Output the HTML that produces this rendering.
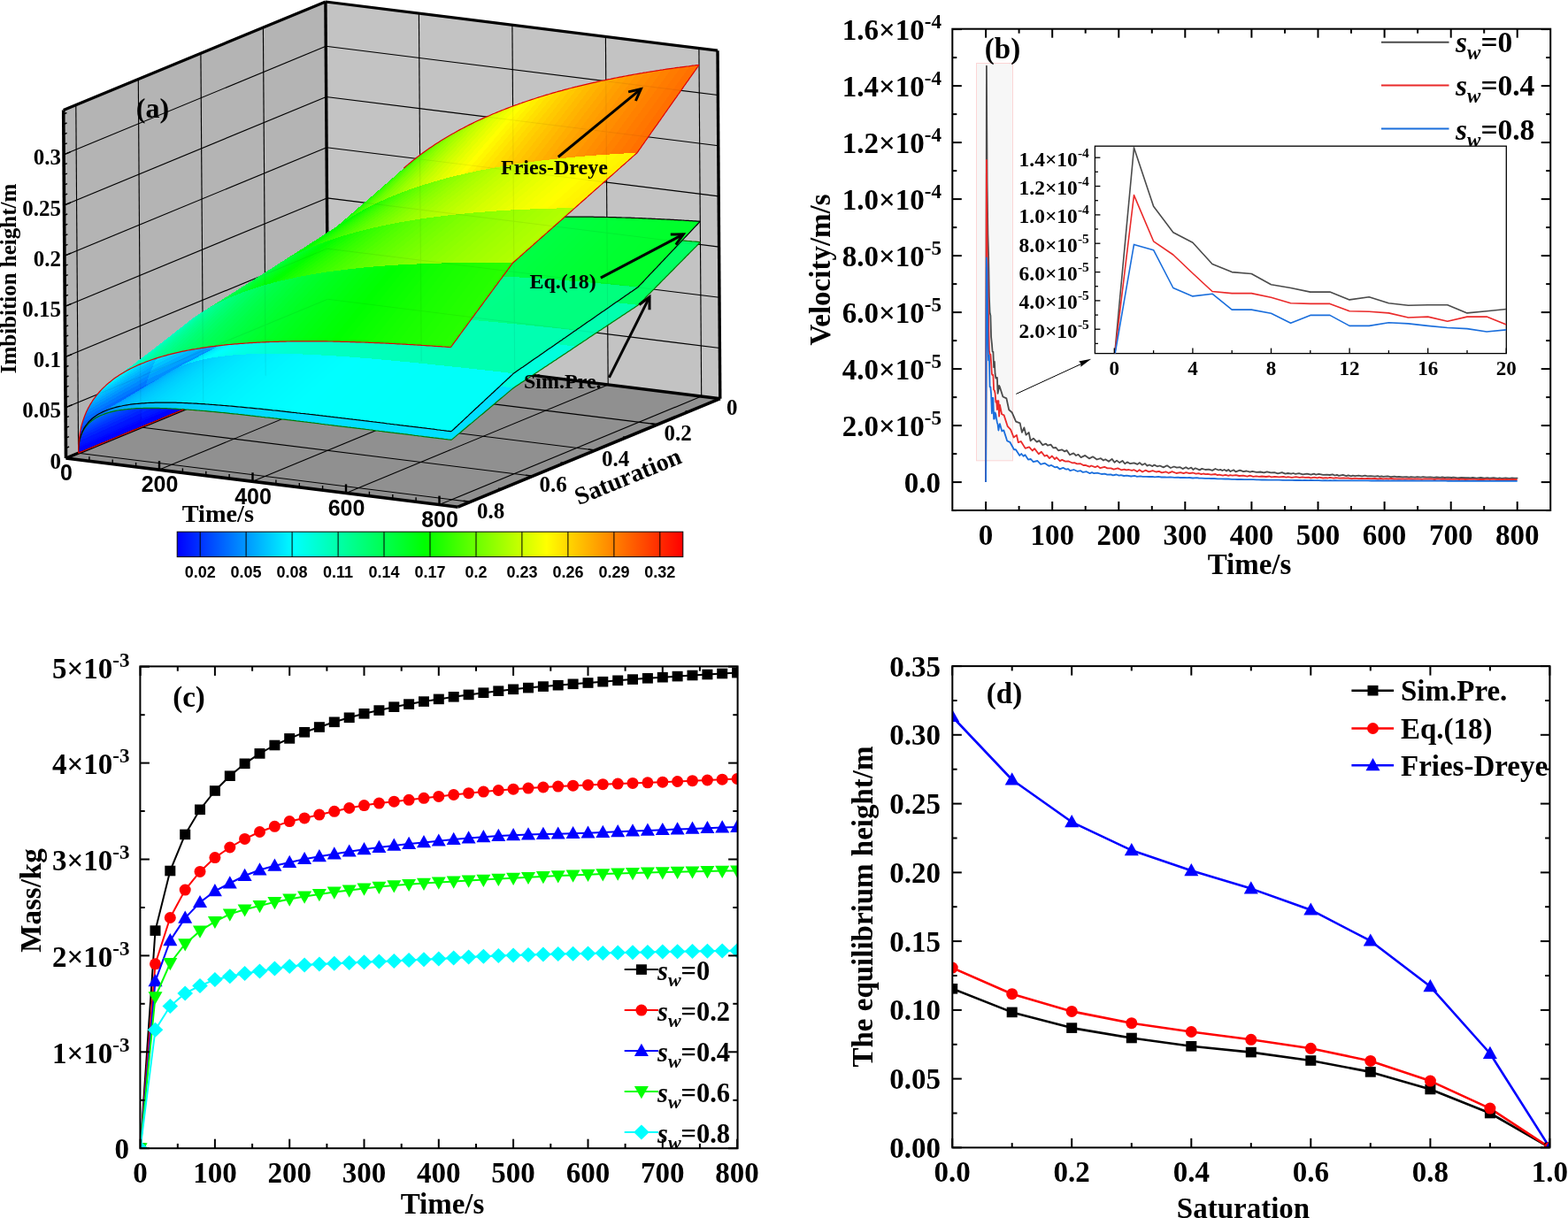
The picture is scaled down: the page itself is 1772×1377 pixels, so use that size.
<!DOCTYPE html><html><head><meta charset="utf-8"><title>Figure</title><style>html,body{margin:0;padding:0;background:#fff;overflow:hidden}svg{display:block}</style></head><body><svg width="1772" height="1377" viewBox="0 0 1772 1377"><rect width="1772" height="1377" fill="#fff"/><polygon points="74.5,518 370.7,395.5 367.9,2 71.7,124.5" fill="#b4b4b4"/>
<polygon points="370.7,395.5 813.8,450.7 811,57.2 367.9,2" fill="#c3c3c3"/>
<polygon points="74.5,518 517.6,573.2 813.8,450.7 370.7,395.5" fill="#909090"/>
<line x1="74.1" y1="460.8" x2="370.3" y2="338.3" stroke="#000" stroke-width="1.1"/>
<line x1="370.3" y1="338.3" x2="813.4" y2="393.5" stroke="#000" stroke-width="1.1"/>
<line x1="73.7" y1="403.6" x2="369.9" y2="281.1" stroke="#000" stroke-width="1.1"/>
<line x1="369.9" y1="281.1" x2="813" y2="336.3" stroke="#000" stroke-width="1.1"/>
<line x1="73.3" y1="346.4" x2="369.5" y2="223.9" stroke="#000" stroke-width="1.1"/>
<line x1="369.5" y1="223.9" x2="812.6" y2="279.1" stroke="#000" stroke-width="1.1"/>
<line x1="72.9" y1="289.2" x2="369.1" y2="166.7" stroke="#000" stroke-width="1.1"/>
<line x1="369.1" y1="166.7" x2="812.2" y2="221.9" stroke="#000" stroke-width="1.1"/>
<line x1="72.5" y1="232" x2="368.7" y2="109.5" stroke="#000" stroke-width="1.1"/>
<line x1="368.7" y1="109.5" x2="811.8" y2="164.7" stroke="#000" stroke-width="1.1"/>
<line x1="72.1" y1="174.8" x2="368.3" y2="52.3" stroke="#000" stroke-width="1.1"/>
<line x1="368.3" y1="52.3" x2="811.4" y2="107.5" stroke="#000" stroke-width="1.1"/>
<line x1="300.2" y1="424.7" x2="297.4" y2="31.2" stroke="#000" stroke-width="1.1"/>
<line x1="229.7" y1="453.8" x2="226.9" y2="60.3" stroke="#000" stroke-width="1.1"/>
<line x1="159.1" y1="483" x2="156.3" y2="89.5" stroke="#000" stroke-width="1.1"/>
<line x1="88.6" y1="512.2" x2="85.8" y2="118.7" stroke="#000" stroke-width="1.1"/>
<line x1="476.2" y1="408.6" x2="473.4" y2="15.1" stroke="#000" stroke-width="1.1"/>
<line x1="581.7" y1="421.8" x2="578.9" y2="28.3" stroke="#000" stroke-width="1.1"/>
<line x1="687.2" y1="434.9" x2="684.4" y2="41.4" stroke="#000" stroke-width="1.1"/>
<line x1="792.7" y1="448.1" x2="789.9" y2="54.6" stroke="#000" stroke-width="1.1"/>
<line x1="300.2" y1="424.7" x2="743.3" y2="479.9" stroke="#000" stroke-width="1.1"/>
<line x1="229.7" y1="453.8" x2="672.8" y2="509" stroke="#000" stroke-width="1.1"/>
<line x1="159.1" y1="483" x2="602.2" y2="538.2" stroke="#000" stroke-width="1.1"/>
<line x1="88.6" y1="512.2" x2="531.7" y2="567.4" stroke="#000" stroke-width="1.1"/>
<line x1="476.2" y1="408.6" x2="180" y2="531.1" stroke="#000" stroke-width="1.1"/>
<line x1="581.7" y1="421.8" x2="285.5" y2="544.3" stroke="#000" stroke-width="1.1"/>
<line x1="687.2" y1="434.9" x2="391" y2="557.4" stroke="#000" stroke-width="1.1"/>
<line x1="792.7" y1="448.1" x2="496.5" y2="570.6" stroke="#000" stroke-width="1.1"/>
<line x1="370.7" y1="395.5" x2="367.9" y2="2" stroke="#000" stroke-width="3.4"/>
<line x1="370.7" y1="395.5" x2="813.8" y2="450.7" stroke="#000" stroke-width="3.4"/>
<line x1="74.5" y1="518" x2="370.7" y2="395.5" stroke="#000" stroke-width="3.4"/>
<g shape-rendering="crispEdges">
<polygon points="370.7,395.5 370.8,386.8 300.3,417.2 300.2,424.7" fill="#0000ff"/>
<polygon points="370.7,395.5 370.8,387 300.3,417 300.2,424.7" fill="#0000ff"/>
<polygon points="370.7,395.5 370.8,383.4 300.3,414.2 300.2,424.7" fill="#0000ff"/>
<polygon points="370.8,386.8 371.3,379.6 300.7,411 300.3,417.2" fill="#0011ff"/>
<polygon points="370.8,387 371.3,379.8 300.7,410.7 300.3,417" fill="#0011ff"/>
<polygon points="370.8,383.4 371.2,373.2 300.7,405.3 300.3,414.2" fill="#001fff"/>
<polygon points="371.3,379.6 371.9,372.9 301.4,405.3 300.7,411" fill="#0024ff"/>
<polygon points="371.3,379.8 371.9,373.2 301.4,404.9 300.7,410.7" fill="#0024ff"/>
<polygon points="371.2,373.2 371.9,363.6 301.4,397 300.7,405.3" fill="#003aff"/>
<polygon points="371.9,372.9 372.8,366.7 302.3,400.1 301.4,405.3" fill="#0036ff"/>
<polygon points="371.9,373.2 372.8,367 302.3,399.4 301.4,404.9" fill="#0036ff"/>
<polygon points="371.9,363.6 372.7,354.6 302.2,389.2 301.4,397" fill="#0054ff"/>
<polygon points="372.8,366.7 373.9,360.9 303.4,395.1 302.3,400.1" fill="#0046ff"/>
<polygon points="372.8,367 373.9,361.1 303.4,394.3 302.3,399.4" fill="#0047ff"/>
<polygon points="372.7,354.6 373.8,345.9 303.3,381.7 302.2,389.2" fill="#006cff"/>
<polygon points="373.9,360.9 375.2,355.3 304.7,390.5 303.4,395.1" fill="#0056ff"/>
<polygon points="373.9,361.1 375.2,355.5 304.7,389.4 303.4,394.3" fill="#0057ff"/>
<polygon points="373.8,345.9 375.1,337.5 304.6,374.5 303.3,381.7" fill="#0084ff"/>
<polygon points="375.2,355.3 376.7,350.1 306.3,386.1 304.7,390.5" fill="#0065ff"/>
<polygon points="375.2,355.5 376.7,350.2 306.2,384.8 304.7,389.4" fill="#0067ff"/>
<polygon points="375.1,337.5 376.6,329.4 306.1,367.6 304.6,374.5" fill="#009bff"/>
<polygon points="376.7,350.1 378.4,345 308,382 306.3,386.1" fill="#0074ff"/>
<polygon points="376.7,350.2 378.4,345 307.9,380.4 306.2,384.8" fill="#0076ff"/>
<polygon points="376.6,329.4 378.3,321.5 307.8,360.8 306.1,367.6" fill="#00b1ff"/>
<polygon points="378.4,345 380.3,340.2 309.8,378 308,382" fill="#0082ff"/>
<polygon points="378.4,345 380.3,340.1 309.8,376.2 307.9,380.4" fill="#0084ff"/>
<polygon points="378.3,321.5 380.1,313.9 309.7,354.4 307.8,360.8" fill="#00c7ff"/>
<polygon points="380.3,340.2 382.3,335.6 311.9,374.3 309.8,378" fill="#008fff"/>
<polygon points="380.3,340.1 382.3,335.4 311.9,372.2 309.8,376.2" fill="#0092ff"/>
<polygon points="380.1,313.9 382.1,306.5 311.7,348.1 309.7,354.4" fill="#00dcff"/>
<polygon points="382.3,335.6 384.6,331.3 314.1,370.7 311.9,374.3" fill="#009cff"/>
<polygon points="382.3,335.4 384.6,330.8 314.1,368.4 311.9,372.2" fill="#009fff"/>
<polygon points="382.1,306.5 384.3,299.3 313.9,341.9 311.7,348.1" fill="#00f1ff"/>
<polygon points="384.6,331.3 387,327.1 316.5,367.4 314.1,370.7" fill="#00a8ff"/>
<polygon points="384.6,330.8 387,326.4 316.5,364.8 314.1,368.4" fill="#00acff"/>
<polygon points="384.3,299.3 386.7,292.2 316.3,336 313.9,341.9" fill="#00fffa"/>
<polygon points="387,327.1 389.5,323.1 319.1,364.2 316.5,367.4" fill="#00b4ff"/>
<polygon points="387,326.4 389.5,322.2 319.1,361.3 316.5,364.8" fill="#00b9ff"/>
<polygon points="386.7,292.2 389.3,285.3 318.9,330.2 316.3,336" fill="#00ffe8"/>
<polygon points="389.5,323.1 392.3,319.2 321.8,361.1 319.1,364.2" fill="#00bfff"/>
<polygon points="389.5,322.2 392.3,318.2 321.8,358 319.1,361.3" fill="#00c5ff"/>
<polygon points="389.3,285.3 392,278.6 321.6,324.6 318.9,330.2" fill="#00ffd7"/>
<polygon points="392.3,319.2 395.2,315.6 324.7,358.3 321.8,361.1" fill="#00caff"/>
<polygon points="392.3,318.2 395.2,314.3 324.7,354.8 321.8,358" fill="#00d0ff"/>
<polygon points="392,278.6 394.9,272.1 324.5,319.1 321.6,324.6" fill="#00ffc7"/>
<polygon points="395.2,315.6 398.2,312 327.8,355.5 324.7,358.3" fill="#00d4ff"/>
<polygon points="395.2,314.3 398.2,310.5 327.8,351.8 324.7,354.8" fill="#00dcff"/>
<polygon points="394.9,272.1 397.9,265.7 327.5,313.8 324.5,319.1" fill="#00ffb6"/>
<polygon points="398.2,312 401.5,308.7 331,353 327.8,355.5" fill="#00deff"/>
<polygon points="398.2,310.5 401.4,306.9 331,348.9 327.8,351.8" fill="#00e6ff"/>
<polygon points="397.9,265.7 401.1,259.5 330.7,308.6 327.5,313.8" fill="#00ffa6"/>
<polygon points="401.5,308.7 404.8,305.5 334.4,350.5 331,353" fill="#00e8ff"/>
<polygon points="401.4,306.9 404.8,303.4 334.4,346.1 331,348.9" fill="#00f1ff"/>
<polygon points="401.1,259.5 404.5,253.4 334.1,303.6 330.7,308.6" fill="#00ff97"/>
<polygon points="404.8,305.5 408.4,302.4 338,348.2 334.4,350.5" fill="#00f1ff"/>
<polygon points="404.8,303.4 408.3,300.1 337.9,343.5 334.4,346.1" fill="#00fbff"/>
<polygon points="404.5,253.4 408,247.4 337.6,298.7 334.1,303.6" fill="#00ff87"/>
<polygon points="408.4,302.4 412,299.5 341.6,346.1 338,348.2" fill="#00faff"/>
<polygon points="408.3,300.1 412,296.9 341.6,341 337.9,343.5" fill="#00fffa"/>
<polygon points="408,247.4 411.6,241.6 341.3,293.9 337.6,298.7" fill="#00ff78"/>
<polygon points="412,299.5 415.9,296.7 345.5,344 341.6,346.1" fill="#00fffc"/>
<polygon points="412,296.9 415.9,293.8 345.5,338.6 341.6,341" fill="#00fff1"/>
<polygon points="411.6,241.6 415.5,235.9 345.1,289.2 341.3,293.9" fill="#00ff69"/>
<polygon points="415.9,296.7 419.9,294.1 349.5,342.1 345.5,344" fill="#00fff4"/>
<polygon points="415.9,293.8 419.9,290.8 349.4,336.4 345.5,338.6" fill="#00ffe9"/>
<polygon points="415.5,235.9 419.4,230.3 349.1,284.7 345.1,289.2" fill="#00ff5b"/>
<polygon points="419.9,294.1 424,291.6 353.6,340.3 349.5,342.1" fill="#00ffed"/>
<polygon points="419.9,290.8 424,287.9 353.6,334.2 349.4,336.4" fill="#00ffe1"/>
<polygon points="419.4,230.3 423.5,224.9 353.2,280.3 349.1,284.7" fill="#00ff4d"/>
<polygon points="424,291.6 428.3,289.2 357.9,338.7 353.6,340.3" fill="#00ffe6"/>
<polygon points="424,287.9 428.3,285.2 357.9,332.2 353.6,334.2" fill="#00ffd9"/>
<polygon points="423.5,224.9 427.8,219.6 357.5,276 353.2,280.3" fill="#00ff3f"/>
<polygon points="428.3,289.2 432.7,286.9 362.4,337.1 357.9,338.7" fill="#00ffe0"/>
<polygon points="428.3,285.2 432.7,282.5 362.3,330.3 357.9,332.2" fill="#00ffd2"/>
<polygon points="427.8,219.6 432.2,214.4 361.9,271.8 357.5,276" fill="#00ff31"/>
<polygon points="432.7,286.9 437.3,284.8 366.9,335.6 362.4,337.1" fill="#00ffda"/>
<polygon points="432.7,282.5 437.3,280 366.9,328.5 362.3,330.3" fill="#00ffcb"/>
<polygon points="432.2,214.4 436.8,209.3 366.5,267.7 361.9,271.8" fill="#00ff23"/>
<polygon points="437.3,284.8 442,282.7 371.7,334.3 366.9,335.6" fill="#00ffd4"/>
<polygon points="437.3,280 442,277.6 371.6,326.8 366.9,328.5" fill="#00ffc4"/>
<polygon points="436.8,209.3 441.5,204.3 371.2,263.8 366.5,267.7" fill="#00ff16"/>
<polygon points="442,282.7 446.9,280.8 376.5,333 371.7,334.3" fill="#00ffce"/>
<polygon points="442,277.6 446.9,275.3 376.5,325.2 371.6,326.8" fill="#00ffbd"/>
<polygon points="441.5,204.3 446.3,199.4 376,259.9 371.2,263.8" fill="#00ff09"/>
<polygon points="446.9,280.8 451.9,279 381.6,331.9 376.5,333" fill="#00ffc8"/>
<polygon points="446.9,275.3 451.9,273.1 381.5,323.6 376.5,325.2" fill="#00ffb6"/>
<polygon points="446.3,199.4 451.3,194.7 381,256.1 376,259.9" fill="#04ff00"/>
<polygon points="451.9,279 457.1,277.3 386.7,330.8 381.6,331.9" fill="#00ffc3"/>
<polygon points="451.9,273.1 457,271 386.7,322.2 381.5,323.6" fill="#00ffb0"/>
<polygon points="451.3,194.7 456.4,190 386.2,252.5 381,256.1" fill="#12ff00"/>
<polygon points="457.1,277.3 462.4,275.7 392,329.9 386.7,330.8" fill="#00ffbe"/>
<polygon points="457,271 462.3,269 391.9,320.9 386.7,322.2" fill="#00ffaa"/>
<polygon points="456.4,190 461.7,185.5 391.4,248.9 386.2,252.5" fill="#1fff00"/>
<polygon points="462.4,275.7 467.8,274.2 397.4,329 392,329.9" fill="#00ffb9"/>
<polygon points="462.3,269 467.7,267.1 397.4,319.7 391.9,320.9" fill="#00ffa4"/>
<polygon points="461.7,185.5 467.1,181.1 396.8,245.4 391.4,248.9" fill="#2cff00"/>
<polygon points="467.8,274.2 473.4,272.8 403,328.2 397.4,329" fill="#00ffb4"/>
<polygon points="467.7,267.1 473.3,265.2 402.9,318.5 397.4,319.7" fill="#00ff9e"/>
<polygon points="467.1,181.1 472.7,176.7 402.4,242.1 396.8,245.4" fill="#39ff00"/>
<polygon points="473.4,272.8 479.1,271.5 408.7,327.6 403,328.2" fill="#00ffaf"/>
<polygon points="473.3,265.2 479,263.5 408.7,317.5 402.9,318.5" fill="#00ff99"/>
<polygon points="472.7,176.7 478.4,172.5 408.1,238.8 402.4,242.1" fill="#46ff00"/>
<polygon points="479.1,271.5 484.9,270.3 414.6,326.9 408.7,327.6" fill="#00ffab"/>
<polygon points="479,263.5 484.8,261.9 414.5,316.5 408.7,317.5" fill="#00ff93"/>
<polygon points="478.4,172.5 484.2,168.4 413.9,235.6 408.1,238.8" fill="#52ff00"/>
<polygon points="484.9,270.3 490.9,269.1 420.6,326.4 414.6,326.9" fill="#00ffa7"/>
<polygon points="484.8,261.9 490.8,260.3 420.5,315.6 414.5,316.5" fill="#00ff8e"/>
<polygon points="484.2,168.4 490.1,164.3 419.9,232.6 413.9,235.6" fill="#5fff00"/>
<polygon points="490.9,269.1 497,268.1 426.7,326 420.6,326.4" fill="#00ffa3"/>
<polygon points="490.8,260.3 496.9,258.8 426.6,314.8 420.5,315.6" fill="#00ff89"/>
<polygon points="490.1,164.3 496.2,160.4 426,229.6 419.9,232.6" fill="#6bff00"/>
<polygon points="497,268.1 503.2,267.2 432.9,325.6 426.7,326" fill="#00ff9f"/>
<polygon points="496.9,258.8 503.2,257.5 432.8,314.1 426.6,314.8" fill="#00ff84"/>
<polygon points="496.2,160.4 502.5,156.5 432.2,226.7 426,229.6" fill="#77ff00"/>
<polygon points="503.2,267.2 509.6,266.3 439.3,325.3 432.9,325.6" fill="#00ff9c"/>
<polygon points="503.2,257.5 509.6,256.1 439.2,313.5 432.8,314.1" fill="#00ff80"/>
<polygon points="502.5,156.5 508.8,152.8 438.6,223.8 432.2,226.7" fill="#82ff00"/>
<polygon points="509.6,266.3 516.1,265.5 445.8,325.1 439.3,325.3" fill="#00ff98"/>
<polygon points="509.6,256.1 516.1,254.9 445.7,312.9 439.2,313.5" fill="#00ff7b"/>
<polygon points="508.8,152.8 515.3,149.1 445.1,221.1 438.6,223.8" fill="#8eff00"/>
<polygon points="516.1,265.5 522.8,264.8 452.5,324.9 445.8,325.1" fill="#00ff95"/>
<polygon points="516.1,254.9 522.7,253.8 452.4,312.4 445.7,312.9" fill="#00ff77"/>
<polygon points="515.3,149.1 521.9,145.5 451.7,218.5 445.1,221.1" fill="#99ff00"/>
<polygon points="522.8,264.8 529.6,264.2 459.3,324.8 452.5,324.9" fill="#00ff92"/>
<polygon points="522.7,253.8 529.5,252.7 459.2,312 452.4,312.4" fill="#00ff72"/>
<polygon points="521.9,145.5 528.7,142 458.5,215.9 451.7,218.5" fill="#a4ff00"/>
<polygon points="300.2,424.7 300.3,417.2 229.8,446.9 229.7,453.8" fill="#0000ff"/>
<polygon points="300.2,424.7 300.3,417 229.8,446.8 229.7,453.8" fill="#0000ff"/>
<polygon points="300.2,424.7 300.3,414.2 229.8,444.1 229.7,453.8" fill="#0000ff"/>
<polygon points="300.3,417.2 300.7,411 230.2,441.2 229.8,446.9" fill="#000dff"/>
<polygon points="300.3,417 300.7,410.7 230.2,440.9 229.8,446.8" fill="#000eff"/>
<polygon points="300.3,414.2 300.7,405.3 230.2,435.9 229.8,444.1" fill="#001aff"/>
<polygon points="300.7,411 301.4,405.3 230.9,436 230.2,441.2" fill="#001eff"/>
<polygon points="300.7,410.7 301.4,404.9 230.9,435.5 230.2,440.9" fill="#001fff"/>
<polygon points="300.7,405.3 301.4,397 230.9,428.2 230.2,435.9" fill="#0032ff"/>
<polygon points="301.4,405.3 302.3,400.1 231.8,431.1 230.9,436" fill="#002eff"/>
<polygon points="301.4,404.9 302.3,399.4 231.8,430.5 230.9,435.5" fill="#0030ff"/>
<polygon points="301.4,397 302.2,389.2 231.7,421 230.9,428.2" fill="#0049ff"/>
<polygon points="302.3,400.1 303.4,395.1 232.9,426.6 231.8,431.1" fill="#003dff"/>
<polygon points="302.3,399.4 303.4,394.3 232.9,425.8 231.8,430.5" fill="#003fff"/>
<polygon points="302.2,389.2 303.3,381.7 232.8,414.1 231.7,421" fill="#005fff"/>
<polygon points="303.4,395.1 304.7,390.5 234.2,422.4 232.9,426.6" fill="#004aff"/>
<polygon points="303.4,394.3 304.7,389.4 234.2,421.4 232.9,425.8" fill="#004dff"/>
<polygon points="303.3,381.7 304.6,374.5 234.1,407.5 232.8,414.1" fill="#0074ff"/>
<polygon points="304.7,390.5 306.3,386.1 235.8,418.4 234.2,422.4" fill="#0058ff"/>
<polygon points="304.7,389.4 306.2,384.8 235.7,417.1 234.2,421.4" fill="#005bff"/>
<polygon points="304.6,374.5 306.1,367.6 235.6,401.1 234.1,407.5" fill="#0089ff"/>
<polygon points="529.6,264.2 536.5,263.7 466.2,324.8 459.3,324.8" fill="#00ff8e"/>
<polygon points="529.5,252.7 536.4,251.7 466.1,311.6 459.2,312" fill="#00ff6e"/>
<polygon points="528.7,142 535.6,138.6 465.4,213.4 458.5,215.9" fill="#afff00"/>
<polygon points="306.3,386.1 308,382 237.5,414.6 235.8,418.4" fill="#0064ff"/>
<polygon points="306.2,384.8 307.9,380.4 237.4,413.2 235.7,417.1" fill="#0068ff"/>
<polygon points="306.1,367.6 307.8,360.8 237.3,395 235.6,401.1" fill="#009cff"/>
<polygon points="308,382 309.8,378 239.3,411.1 237.5,414.6" fill="#0070ff"/>
<polygon points="307.9,380.4 309.8,376.2 239.3,409.4 237.4,413.2" fill="#0075ff"/>
<polygon points="307.8,360.8 309.7,354.4 239.2,389 237.3,395" fill="#00b0ff"/>
<polygon points="309.8,378 311.9,374.3 241.4,407.7 239.3,411.1" fill="#007cff"/>
<polygon points="309.8,376.2 311.9,372.2 241.4,405.8 239.3,409.4" fill="#0081ff"/>
<polygon points="309.7,354.4 311.7,348.1 241.2,383.3 239.2,389" fill="#00c2ff"/>
<polygon points="536.5,263.7 543.5,263.2 473.2,324.8 466.2,324.8" fill="#00ff8c"/>
<polygon points="536.4,251.7 543.4,250.8 473.1,311.3 466.1,311.6" fill="#00ff6a"/>
<polygon points="535.6,138.6 542.6,135.3 472.4,211 465.4,213.4" fill="#b9ff00"/>
<polygon points="311.9,374.3 314.1,370.7 243.6,404.6 241.4,407.7" fill="#0087ff"/>
<polygon points="311.9,372.2 314.1,368.4 243.6,402.3 241.4,405.8" fill="#008dff"/>
<polygon points="311.7,348.1 313.9,341.9 243.4,377.7 241.2,383.3" fill="#00d4ff"/>
<polygon points="314.1,370.7 316.5,367.4 246,401.6 243.6,404.6" fill="#0091ff"/>
<polygon points="314.1,368.4 316.5,364.8 246,399.1 243.6,402.3" fill="#0098ff"/>
<polygon points="313.9,341.9 316.3,336 245.8,372.3 243.4,377.7" fill="#00e6ff"/>
<polygon points="316.5,367.4 319.1,364.2 248.6,398.7 246,401.6" fill="#009bff"/>
<polygon points="316.5,364.8 319.1,361.3 248.6,396 246,399.1" fill="#00a3ff"/>
<polygon points="316.3,336 318.9,330.2 248.4,367.1 245.8,372.3" fill="#00f8ff"/>
<polygon points="543.5,263.2 550.7,262.8 480.4,324.9 473.2,324.8" fill="#00ff89"/>
<polygon points="543.4,250.8 550.6,250 480.3,311.1 473.1,311.3" fill="#00ff67"/>
<polygon points="542.6,135.3 549.8,132.1 479.6,208.7 472.4,211" fill="#c4ff00"/>
<polygon points="319.1,364.2 321.8,361.1 251.4,396.1 248.6,398.7" fill="#00a5ff"/>
<polygon points="319.1,361.3 321.8,358 251.3,393 248.6,396" fill="#00adff"/>
<polygon points="318.9,330.2 321.6,324.6 251.1,362 248.4,367.1" fill="#00fff7"/>
<polygon points="321.8,361.1 324.7,358.3 254.3,393.5 251.4,396.1" fill="#00aeff"/>
<polygon points="321.8,358 324.7,354.8 254.2,390.2 251.3,393" fill="#00b7ff"/>
<polygon points="321.6,324.6 324.5,319.1 254,357 251.1,362" fill="#00ffe8"/>
<polygon points="324.7,358.3 327.8,355.5 257.3,391.2 254.3,393.5" fill="#00b6ff"/>
<polygon points="324.7,354.8 327.8,351.8 257.3,387.5 254.2,390.2" fill="#00c1ff"/>
<polygon points="324.5,319.1 327.5,313.8 257.1,352.2 254,357" fill="#00ffda"/>
<polygon points="550.7,262.8 558,262.5 487.7,325.1 480.4,324.9" fill="#00ff86"/>
<polygon points="550.6,250 557.9,249.2 487.6,310.9 480.3,311.1" fill="#00ff63"/>
<polygon points="549.8,132.1 557,128.9 486.9,206.5 479.6,208.7" fill="#ceff00"/>
<polygon points="327.8,355.5 331,353 260.6,389 257.3,391.2" fill="#00bfff"/>
<polygon points="327.8,351.8 331,348.9 260.5,385 257.3,387.5" fill="#00caff"/>
<polygon points="327.5,313.8 330.7,308.6 260.3,347.5 257.1,352.2" fill="#00ffcc"/>
<polygon points="331,353 334.4,350.5 263.9,386.9 260.6,389" fill="#00c7ff"/>
<polygon points="331,348.9 334.4,346.1 263.9,382.6 260.5,385" fill="#00d3ff"/>
<polygon points="330.7,308.6 334.1,303.6 263.6,343 260.3,347.5" fill="#00ffbe"/>
<polygon points="558,262.5 565.4,262.2 495.1,325.3 487.7,325.1" fill="#00ff84"/>
<polygon points="557.9,249.2 565.3,248.5 495,310.8 487.6,310.9" fill="#00ff60"/>
<polygon points="557,128.9 564.4,125.8 494.3,204.3 486.9,206.5" fill="#d8ff00"/>
<polygon points="334.4,350.5 338,348.2 267.5,384.9 263.9,386.9" fill="#00cfff"/>
<polygon points="334.4,346.1 337.9,343.5 267.5,380.3 263.9,382.6" fill="#00dcff"/>
<polygon points="334.1,303.6 337.6,298.7 267.2,338.6 263.6,343" fill="#00ffb1"/>
<polygon points="338,348.2 341.6,346.1 271.2,383.1 267.5,384.9" fill="#00d6ff"/>
<polygon points="337.9,343.5 341.6,341 271.1,378.2 267.5,380.3" fill="#00e4ff"/>
<polygon points="337.6,298.7 341.3,293.9 270.8,334.3 267.2,338.6" fill="#00ffa4"/>
<polygon points="565.4,262.2 573,262.1 502.7,325.6 495.1,325.3" fill="#00ff81"/>
<polygon points="565.3,248.5 572.9,247.9 502.6,310.8 495,310.8" fill="#00ff5c"/>
<polygon points="564.4,125.8 572,122.9 501.8,202.2 494.3,204.3" fill="#e2ff00"/>
<polygon points="341.6,346.1 345.5,344 275,381.4 271.2,383.1" fill="#00ddff"/>
<polygon points="341.6,341 345.5,338.6 275,376.1 271.1,378.2" fill="#00ecff"/>
<polygon points="341.3,293.9 345.1,289.2 274.7,330.2 270.8,334.3" fill="#00ff97"/>
<polygon points="345.5,344 349.5,342.1 279,379.8 275,381.4" fill="#00e4ff"/>
<polygon points="345.5,338.6 349.4,336.4 279,374.2 275,376.1" fill="#00f4ff"/>
<polygon points="345.1,289.2 349.1,284.7 278.6,326.1 274.7,330.2" fill="#00ff8a"/>
<polygon points="573,262.1 580.7,261.9 510.4,325.9 502.7,325.6" fill="#00ff7f"/>
<polygon points="572.9,247.9 580.5,247.3 510.3,310.8 502.6,310.8" fill="#00ff59"/>
<polygon points="572,122.9 579.6,120 509.5,200.2 501.8,202.2" fill="#ecff00"/>
<polygon points="349.5,342.1 353.6,340.3 283.2,378.3 279,379.8" fill="#00eaff"/>
<polygon points="349.4,336.4 353.6,334.2 283.1,372.4 279,374.2" fill="#00fbff"/>
<polygon points="349.1,284.7 353.2,280.3 282.8,322.2 278.6,326.1" fill="#00ff7e"/>
<polygon points="353.6,340.3 357.9,338.7 287.5,376.9 283.2,378.3" fill="#00f0ff"/>
<polygon points="353.6,334.2 357.9,332.2 287.4,370.7 283.1,372.4" fill="#00fffc"/>
<polygon points="353.2,280.3 357.5,276 287,318.4 282.8,322.2" fill="#00ff72"/>
<polygon points="580.7,261.9 588.5,261.9 518.2,326.3 510.4,325.9" fill="#00ff7d"/>
<polygon points="580.5,247.3 588.4,246.8 518.1,310.9 510.3,310.8" fill="#00ff56"/>
<polygon points="579.6,120 587.4,117.1 517.3,198.3 509.5,200.2" fill="#f5ff00"/>
<polygon points="357.9,338.7 362.4,337.1 291.9,375.7 287.5,376.9" fill="#00f6ff"/>
<polygon points="357.9,332.2 362.3,330.3 291.9,369.1 287.4,370.7" fill="#00fff6"/>
<polygon points="357.5,276 361.9,271.8 291.5,314.7 287,318.4" fill="#00ff66"/>
<polygon points="362.4,337.1 366.9,335.6 296.5,374.5 291.9,375.7" fill="#00fcff"/>
<polygon points="362.3,330.3 366.9,328.5 296.4,367.6 291.9,369.1" fill="#00fff0"/>
<polygon points="361.9,271.8 366.5,267.7 296,311.1 291.5,314.7" fill="#00ff5b"/>
<polygon points="588.5,261.9 596.4,261.9 526.1,326.7 518.2,326.3" fill="#00ff7b"/>
<polygon points="588.4,246.8 596.3,246.4 526,311 518.1,310.9" fill="#00ff53"/>
<polygon points="587.4,117.1 595.3,114.4 525.2,196.4 517.3,198.3" fill="#ffff00"/>
<polygon points="366.9,335.6 371.7,334.3 301.2,373.5 296.5,374.5" fill="#00fffd"/>
<polygon points="366.9,328.5 371.6,326.8 301.2,366.2 296.4,367.6" fill="#00ffea"/>
<polygon points="366.5,267.7 371.2,263.8 300.8,307.6 296,311.1" fill="#00ff4f"/>
<polygon points="596.4,261.9 604.5,262 534.2,327.2 526.1,326.7" fill="#00ff79"/>
<polygon points="596.3,246.4 604.3,246 534.1,311.2 526,311" fill="#00ff50"/>
<polygon points="595.3,114.4 603.4,111.7 533.3,194.6 525.2,196.4" fill="#fff700"/>
<polygon points="371.7,334.3 376.5,333 306.1,372.5 301.2,373.5" fill="#00fff8"/>
<polygon points="371.6,326.8 376.5,325.2 306,365 301.2,366.2" fill="#00ffe5"/>
<polygon points="371.2,263.8 376,259.9 305.6,304.2 300.8,307.6" fill="#00ff44"/>
<polygon points="376.5,333 381.6,331.9 311.1,371.7 306.1,372.5" fill="#00fff4"/>
<polygon points="376.5,325.2 381.5,323.6 311.1,363.8 306,365" fill="#00ffe0"/>
<polygon points="376,259.9 381,256.1 310.6,300.9 305.6,304.2" fill="#00ff39"/>
<polygon points="604.5,262 612.6,262.1 542.4,327.7 534.2,327.2" fill="#00ff77"/>
<polygon points="604.3,246 612.5,245.7 542.3,311.4 534.1,311.2" fill="#00ff4d"/>
<polygon points="603.4,111.7 611.6,109.1 541.4,192.9 533.3,194.6" fill="#ffef00"/>
<polygon points="381.6,331.9 386.7,330.8 316.3,370.9 311.1,371.7" fill="#00fff0"/>
<polygon points="381.5,323.6 386.7,322.2 316.2,362.6 311.1,363.8" fill="#00ffdb"/>
<polygon points="381,256.1 386.2,252.5 315.7,297.7 310.6,300.9" fill="#00ff2f"/>
<polygon points="386.7,330.8 392,329.9 321.6,370.2 316.3,370.9" fill="#00ffec"/>
<polygon points="386.7,322.2 391.9,320.9 321.5,361.6 316.2,362.6" fill="#00ffd6"/>
<polygon points="386.2,252.5 391.4,248.9 321,294.6 315.7,297.7" fill="#00ff24"/>
<polygon points="612.6,262.1 621,262.3 550.7,328.3 542.4,327.7" fill="#00ff75"/>
<polygon points="612.5,245.7 620.8,245.5 550.6,311.7 542.3,311.4" fill="#00ff4b"/>
<polygon points="611.6,109.1 619.9,106.6 549.7,191.3 541.4,192.9" fill="#ffe700"/>
<polygon points="392,329.9 397.4,329 327,369.6 321.6,370.2" fill="#00ffe8"/>
<polygon points="391.9,320.9 397.4,319.7 326.9,360.7 321.5,361.6" fill="#00ffd1"/>
<polygon points="391.4,248.9 396.8,245.4 326.4,291.6 321,294.6" fill="#00ff1a"/>
<polygon points="621,262.3 629.4,262.5 559.1,328.9 550.7,328.3" fill="#00ff74"/>
<polygon points="620.8,245.5 629.3,245.3 559,312.1 550.6,311.7" fill="#00ff48"/>
<polygon points="619.9,106.6 628.3,104.2 558.2,189.7 549.7,191.3" fill="#ffdf00"/>
<polygon points="397.4,329 403,328.2 332.6,369.1 327,369.6" fill="#00ffe5"/>
<polygon points="397.4,319.7 402.9,318.5 332.5,359.8 326.9,360.7" fill="#00ffcd"/>
<polygon points="396.8,245.4 402.4,242.1 332,288.7 326.4,291.6" fill="#00ff10"/>
<polygon points="403,328.2 408.7,327.6 338.3,368.7 332.6,369.1" fill="#00ffe1"/>
<polygon points="402.9,318.5 408.7,317.5 338.2,359.1 332.5,359.8" fill="#00ffc8"/>
<polygon points="402.4,242.1 408.1,238.8 337.7,285.9 332,288.7" fill="#00ff06"/>
<polygon points="629.4,262.5 638,262.8 567.7,329.6 559.1,328.9" fill="#00ff72"/>
<polygon points="629.3,245.3 637.8,245.2 567.6,312.5 559,312.1" fill="#00ff45"/>
<polygon points="628.3,104.2 636.8,101.8 566.7,188.2 558.2,189.7" fill="#ffd800"/>
<polygon points="408.7,327.6 414.6,326.9 344.1,368.3 338.3,368.7" fill="#00ffde"/>
<polygon points="408.7,317.5 414.5,316.5 344.1,358.4 338.2,359.1" fill="#00ffc4"/>
<polygon points="408.1,238.8 413.9,235.6 343.5,283.2 337.7,285.9" fill="#04ff00"/>
<polygon points="638,262.8 646.6,263.1 576.4,330.3 567.7,329.6" fill="#00ff71"/>
<polygon points="637.8,245.2 646.5,245.1 576.3,312.9 567.6,312.5" fill="#00ff43"/>
<polygon points="636.8,101.8 645.5,99.5 575.4,186.7 566.7,188.2" fill="#ffd000"/>
<polygon points="414.6,326.9 420.6,326.4 350.1,368.1 344.1,368.3" fill="#00ffdb"/>
<polygon points="414.5,316.5 420.5,315.6 350,357.8 344.1,358.4" fill="#00ffc0"/>
<polygon points="413.9,235.6 419.9,232.6 349.5,280.6 343.5,283.2" fill="#0eff00"/>
<polygon points="420.6,326.4 426.7,326 356.2,367.9 350.1,368.1" fill="#00ffd8"/>
<polygon points="420.5,315.6 426.6,314.8 356.2,357.3 350,357.8" fill="#00ffbc"/>
<polygon points="419.9,232.6 426,229.6 355.6,278 349.5,280.6" fill="#18ff00"/>
<polygon points="646.6,263.1 655.5,263.5 585.2,331 576.4,330.3" fill="#00ff6f"/>
<polygon points="646.5,245.1 655.3,245.1 585.1,313.4 576.3,312.9" fill="#00ff41"/>
<polygon points="645.5,99.5 654.3,97.3 584.2,185.4 575.4,186.7" fill="#ffc900"/>
<polygon points="426.7,326 432.9,325.6 362.5,367.7 356.2,367.9" fill="#00ffd5"/>
<polygon points="426.6,314.8 432.8,314.1 362.4,356.8 356.2,357.3" fill="#00ffb9"/>
<polygon points="426,229.6 432.2,226.7 361.8,275.6 355.6,278" fill="#22ff00"/>
<polygon points="655.5,263.5 664.4,264 594.1,331.8 585.2,331" fill="#00ff6e"/>
<polygon points="655.3,245.1 664.3,245.2 594,313.9 585.1,313.4" fill="#00ff3f"/>
<polygon points="654.3,97.3 663.2,95.1 593.1,184.1 584.2,185.4" fill="#ffc200"/>
<polygon points="432.9,325.6 439.3,325.3 368.9,367.7 362.5,367.7" fill="#00ffd3"/>
<polygon points="432.8,314.1 439.2,313.5 368.8,356.4 362.4,356.8" fill="#00ffb5"/>
<polygon points="432.2,226.7 438.6,223.8 368.2,273.2 361.8,275.6" fill="#2cff00"/>
<polygon points="664.4,264 673.4,264.5 603.2,332.6 594.1,331.8" fill="#00ff6d"/>
<polygon points="664.3,245.2 673.3,245.3 603.1,314.5 594,313.9" fill="#00ff3d"/>
<polygon points="663.2,95.1 672.2,93.1 602.1,182.8 593.1,184.1" fill="#ffbb00"/>
<polygon points="439.3,325.3 445.8,325.1 375.4,367.7 368.9,367.7" fill="#00ffd0"/>
<polygon points="439.2,313.5 445.7,312.9 375.3,356.1 368.8,356.4" fill="#00ffb2"/>
<polygon points="438.6,223.8 445.1,221.1 374.7,270.9 368.2,273.2" fill="#35ff00"/>
<polygon points="445.8,325.1 452.5,324.9 382.1,367.7 375.4,367.7" fill="#00ffce"/>
<polygon points="445.7,312.9 452.4,312.4 382,355.9 375.3,356.1" fill="#00ffaf"/>
<polygon points="445.1,221.1 451.7,218.5 381.4,268.7 374.7,270.9" fill="#3eff00"/>
<polygon points="673.4,264.5 682.6,265 612.4,333.5 603.2,332.6" fill="#00ff6b"/>
<polygon points="673.3,245.3 682.5,245.4 612.2,315.1 603.1,314.5" fill="#00ff3b"/>
<polygon points="672.2,93.1 681.4,91 611.3,181.6 602.1,182.8" fill="#ffb400"/>
<polygon points="452.5,324.9 459.3,324.8 388.8,367.8 382.1,367.7" fill="#00ffcc"/>
<polygon points="452.4,312.4 459.2,312 388.8,355.7 382,355.9" fill="#00ffac"/>
<polygon points="451.7,218.5 458.5,215.9 388.1,266.6 381.4,268.7" fill="#47ff00"/>
<polygon points="229.7,453.8 229.8,446.9 159.3,476.6 159.1,483" fill="#0000ff"/>
<polygon points="229.7,453.8 229.8,446.8 159.3,476.5 159.1,483" fill="#0000ff"/>
<polygon points="229.7,453.8 229.8,444.1 159.3,474 159.1,483" fill="#0000ff"/>
<polygon points="229.8,446.9 230.2,441.2 159.7,471.4 159.3,476.6" fill="#000bff"/>
<polygon points="229.8,446.8 230.2,440.9 159.7,471.1 159.3,476.5" fill="#000cff"/>
<polygon points="229.8,444.1 230.2,435.9 159.7,466.5 159.3,474" fill="#0016ff"/>
<polygon points="230.2,441.2 230.9,436 160.4,466.7 159.7,471.4" fill="#001aff"/>
<polygon points="230.2,440.9 230.9,435.5 160.4,466.2 159.7,471.1" fill="#001cff"/>
<polygon points="230.2,435.9 230.9,428.2 160.3,459.5 159.7,466.5" fill="#002dff"/>
<polygon points="230.9,436 231.8,431.1 161.3,462.3 160.4,466.7" fill="#0029ff"/>
<polygon points="230.9,435.5 231.8,430.5 161.3,461.7 160.4,466.2" fill="#002aff"/>
<polygon points="230.9,428.2 231.7,421 161.2,452.9 160.3,459.5" fill="#0042ff"/>
<polygon points="231.8,431.1 232.9,426.6 162.4,458.2 161.3,462.3" fill="#0036ff"/>
<polygon points="231.8,430.5 232.9,425.8 162.4,457.4 161.3,461.7" fill="#0038ff"/>
<polygon points="231.7,421 232.8,414.1 162.3,446.6 161.2,452.9" fill="#0056ff"/>
<polygon points="682.6,265 691.9,265.6 621.7,334.3 612.4,333.5" fill="#00ff6a"/>
<polygon points="682.5,245.4 691.8,245.6 621.5,315.8 612.2,315.1" fill="#00ff39"/>
<polygon points="681.4,91 690.7,89.1 620.6,180.5 611.3,181.6" fill="#ffad00"/>
<polygon points="232.9,426.6 234.2,422.4 163.7,454.4 162.4,458.2" fill="#0043ff"/>
<polygon points="232.9,425.8 234.2,421.4 163.7,453.4 162.4,457.4" fill="#0046ff"/>
<polygon points="232.8,414.1 234.1,407.5 163.6,440.5 162.3,446.6" fill="#006aff"/>
<polygon points="234.2,422.4 235.8,418.4 165.3,450.9 163.7,454.4" fill="#004fff"/>
<polygon points="234.2,421.4 235.7,417.1 165.2,449.6 163.7,453.4" fill="#0052ff"/>
<polygon points="234.1,407.5 235.6,401.1 165.1,434.7 163.6,440.5" fill="#007cff"/>
<polygon points="459.3,324.8 466.2,324.8 395.8,368 388.8,367.8" fill="#00ffca"/>
<polygon points="459.2,312 466.1,311.6 395.7,355.6 388.8,355.7" fill="#00ffa9"/>
<polygon points="458.5,215.9 465.4,213.4 395,264.5 388.1,266.6" fill="#50ff00"/>
<polygon points="235.8,418.4 237.5,414.6 167,447.5 165.3,450.9" fill="#005aff"/>
<polygon points="235.7,417.1 237.4,413.2 166.9,446.1 165.2,449.6" fill="#005eff"/>
<polygon points="235.6,401.1 237.3,395 166.8,429.2 165.1,434.7" fill="#008fff"/>
<polygon points="237.5,414.6 239.3,411.1 168.8,444.4 167,447.5" fill="#0065ff"/>
<polygon points="237.4,413.2 239.3,409.4 168.8,442.7 166.9,446.1" fill="#006aff"/>
<polygon points="237.3,395 239.2,389 168.7,423.8 166.8,429.2" fill="#00a0ff"/>
<polygon points="239.3,411.1 241.4,407.7 170.9,441.4 168.8,444.4" fill="#006fff"/>
<polygon points="239.3,409.4 241.4,405.8 170.9,439.5 168.8,442.7" fill="#0075ff"/>
<polygon points="239.2,389 241.2,383.3 170.7,418.6 168.7,423.8" fill="#00b1ff"/>
<polygon points="691.9,265.6 701.3,266.2 631.1,335.3 621.7,334.3" fill="#00ff69"/>
<polygon points="691.8,245.6 701.2,245.9 631,316.5 621.5,315.8" fill="#00ff37"/>
<polygon points="690.7,89.1 700.1,87.2 630,179.5 620.6,180.5" fill="#ffa600"/>
<polygon points="466.2,324.8 473.2,324.8 402.8,368.3 395.8,368" fill="#00ffc8"/>
<polygon points="466.1,311.6 473.1,311.3 402.7,355.5 395.7,355.6" fill="#00ffa6"/>
<polygon points="465.4,213.4 472.4,211 402,262.6 395,264.5" fill="#59ff00"/>
<polygon points="241.4,407.7 243.6,404.6 173.1,438.7 170.9,441.4" fill="#0079ff"/>
<polygon points="241.4,405.8 243.6,402.3 173.1,436.5 170.9,439.5" fill="#007fff"/>
<polygon points="241.2,383.3 243.4,377.7 173,413.5 170.7,418.6" fill="#00c2ff"/>
<polygon points="243.6,404.6 246,401.6 175.6,436.1 173.1,438.7" fill="#0082ff"/>
<polygon points="243.6,402.3 246,399.1 175.5,433.6 173.1,436.5" fill="#0089ff"/>
<polygon points="243.4,377.7 245.8,372.3 175.4,408.7 173,413.5" fill="#00d2ff"/>
<polygon points="246,401.6 248.6,398.7 178.1,433.6 175.6,436.1" fill="#008bff"/>
<polygon points="246,399.1 248.6,396 178.1,430.9 175.5,433.6" fill="#0093ff"/>
<polygon points="245.8,372.3 248.4,367.1 177.9,404 175.4,408.7" fill="#00e2ff"/>
<polygon points="473.2,324.8 480.4,324.9 410,368.6 402.8,368.3" fill="#00ffc6"/>
<polygon points="473.1,311.3 480.3,311.1 409.9,355.5 402.7,355.5" fill="#00ffa3"/>
<polygon points="472.4,211 479.6,208.7 409.2,260.7 402,262.6" fill="#62ff00"/>
<polygon points="248.6,398.7 251.4,396.1 180.9,431.3 178.1,433.6" fill="#0094ff"/>
<polygon points="248.6,396 251.3,393 180.9,428.3 178.1,430.9" fill="#009cff"/>
<polygon points="248.4,367.1 251.1,362 180.7,399.4 177.9,404" fill="#00f1ff"/>
<polygon points="701.3,266.2 710.9,266.9 640.6,336.2 631.1,335.3" fill="#00ff68"/>
<polygon points="701.2,245.9 710.7,246.2 640.5,317.3 631,316.5" fill="#00ff35"/>
<polygon points="700.1,87.2 709.6,85.4 639.5,178.5 630,179.5" fill="#ffa000"/>
<polygon points="251.4,396.1 254.3,393.5 183.8,429.2 180.9,431.3" fill="#009cff"/>
<polygon points="251.3,393 254.2,390.2 183.8,425.9 180.9,428.3" fill="#00a5ff"/>
<polygon points="251.1,362 254,357 183.5,395 180.7,399.4" fill="#00fffe"/>
<polygon points="254.3,393.5 257.3,391.2 186.9,427.2 183.8,429.2" fill="#00a3ff"/>
<polygon points="254.2,390.2 257.3,387.5 186.8,423.6 183.8,425.9" fill="#00aeff"/>
<polygon points="254,357 257.1,352.2 186.6,390.7 183.5,395" fill="#00fff1"/>
<polygon points="480.4,324.9 487.7,325.1 417.3,368.9 410,368.6" fill="#00ffc4"/>
<polygon points="480.3,311.1 487.6,310.9 417.2,355.6 409.9,355.5" fill="#00ffa1"/>
<polygon points="479.6,208.7 486.9,206.5 416.5,258.9 409.2,260.7" fill="#6aff00"/>
<polygon points="257.3,391.2 260.6,389 190.1,425.4 186.9,427.2" fill="#00abff"/>
<polygon points="257.3,387.5 260.5,385 190.1,421.5 186.8,423.6" fill="#00b6ff"/>
<polygon points="257.1,352.2 260.3,347.5 189.8,386.6 186.6,390.7" fill="#00ffe5"/>
<polygon points="710.9,266.9 720.5,267.6 650.3,337.2 640.6,336.2" fill="#00ff67"/>
<polygon points="710.7,246.2 720.4,246.5 650.1,318 640.5,317.3" fill="#00ff33"/>
<polygon points="709.6,85.4 719.2,83.7 649.1,177.6 639.5,178.5" fill="#ff9a00"/>
<polygon points="260.6,389 263.9,386.9 193.5,423.6 190.1,425.4" fill="#00b2ff"/>
<polygon points="260.5,385 263.9,382.6 193.4,419.4 190.1,421.5" fill="#00beff"/>
<polygon points="260.3,347.5 263.6,343 193.2,382.5 189.8,386.6" fill="#00ffd8"/>
<polygon points="487.7,325.1 495.1,325.3 424.7,369.3 417.3,368.9" fill="#00ffc2"/>
<polygon points="487.6,310.9 495,310.8 424.6,355.7 417.2,355.6" fill="#00ff9e"/>
<polygon points="486.9,206.5 494.3,204.3 423.9,257.1 416.5,258.9" fill="#72ff00"/>
<polygon points="263.9,386.9 267.5,384.9 197,422 193.5,423.6" fill="#00b8ff"/>
<polygon points="263.9,382.6 267.5,380.3 197,417.5 193.4,419.4" fill="#00c5ff"/>
<polygon points="263.6,343 267.2,338.6 196.7,378.6 193.2,382.5" fill="#00ffcc"/>
<polygon points="267.5,384.9 271.2,383.1 200.7,420.5 197,422" fill="#00bfff"/>
<polygon points="267.5,380.3 271.1,378.2 200.7,415.7 197,417.5" fill="#00cdff"/>
<polygon points="267.2,338.6 270.8,334.3 200.4,374.9 196.7,378.6" fill="#00ffc0"/>
<polygon points="720.5,267.6 730.3,268.4 660.1,338.2 650.3,337.2" fill="#00ff66"/>
<polygon points="720.4,246.5 730.1,246.9 659.9,318.9 650.1,318" fill="#00ff32"/>
<polygon points="719.2,83.7 729,82 658.9,176.7 649.1,177.6" fill="#ff9300"/>
<polygon points="495.1,325.3 502.7,325.6 432.3,369.8 424.7,369.3" fill="#00ffc1"/>
<polygon points="495,310.8 502.6,310.8 432.2,355.9 424.6,355.7" fill="#00ff9c"/>
<polygon points="494.3,204.3 501.8,202.2 431.5,255.5 423.9,257.1" fill="#7aff00"/>
<polygon points="271.2,383.1 275,381.4 204.6,419.2 200.7,420.5" fill="#00c5ff"/>
<polygon points="271.1,378.2 275,376.1 204.5,414.1 200.7,415.7" fill="#00d4ff"/>
<polygon points="270.8,334.3 274.7,330.2 204.2,371.2 200.4,374.9" fill="#00ffb5"/>
<polygon points="275,381.4 279,379.8 208.6,417.9 204.6,419.2" fill="#00cbff"/>
<polygon points="275,376.1 279,374.2 208.5,412.5 204.5,414.1" fill="#00daff"/>
<polygon points="274.7,330.2 278.6,326.1 208.2,367.7 204.2,371.2" fill="#00ffaa"/>
<polygon points="502.7,325.6 510.4,325.9 440,370.3 432.3,369.8" fill="#00ffbf"/>
<polygon points="502.6,310.8 510.3,310.8 439.9,356.1 432.2,355.9" fill="#00ff9a"/>
<polygon points="501.8,202.2 509.5,200.2 439.1,253.9 431.5,255.5" fill="#82ff00"/>
<polygon points="730.3,268.4 740.2,269.2 670,339.3 660.1,338.2" fill="#00ff65"/>
<polygon points="730.1,246.9 740,247.4 669.8,319.7 659.9,318.9" fill="#00ff30"/>
<polygon points="729,82 738.9,80.4 668.8,175.9 658.9,176.7" fill="#ff8d00"/>
<polygon points="279,379.8 283.2,378.3 212.7,416.8 208.6,417.9" fill="#00d0ff"/>
<polygon points="279,374.2 283.1,372.4 212.7,411 208.5,412.5" fill="#00e1ff"/>
<polygon points="278.6,326.1 282.8,322.2 212.3,364.2 208.2,367.7" fill="#00ff9f"/>
<polygon points="283.2,378.3 287.5,376.9 217,415.7 212.7,416.8" fill="#00d5ff"/>
<polygon points="283.1,372.4 287.4,370.7 217,409.7 212.7,411" fill="#00e7ff"/>
<polygon points="282.8,322.2 287,318.4 216.6,360.9 212.3,364.2" fill="#00ff94"/>
<polygon points="510.4,325.9 518.2,326.3 447.8,370.8 440,370.3" fill="#00ffbe"/>
<polygon points="510.3,310.8 518.1,310.9 447.7,356.4 439.9,356.1" fill="#00ff98"/>
<polygon points="509.5,200.2 517.3,198.3 446.9,252.3 439.1,253.9" fill="#8aff00"/>
<polygon points="287.5,376.9 291.9,375.7 221.5,414.8 217,415.7" fill="#00daff"/>
<polygon points="287.4,370.7 291.9,369.1 221.4,408.4 217,409.7" fill="#00edff"/>
<polygon points="287,318.4 291.5,314.7 221,357.7 216.6,360.9" fill="#00ff89"/>
<polygon points="740.2,269.2 750.2,270 680,340.3 670,339.3" fill="#00ff65"/>
<polygon points="740,247.4 750.1,247.9 679.8,320.6 669.8,319.7" fill="#00ff2f"/>
<polygon points="738.9,80.4 748.9,78.9 678.8,175.2 668.8,175.9" fill="#ff8700"/>
<polygon points="291.9,375.7 296.5,374.5 226,414 221.5,414.8" fill="#00dfff"/>
<polygon points="291.9,369.1 296.4,367.6 226,407.3 221.4,408.4" fill="#00f3ff"/>
<polygon points="291.5,314.7 296,311.1 225.6,354.6 221,357.7" fill="#00ff7f"/>
<polygon points="518.2,326.3 526.1,326.7 455.7,371.4 447.8,370.8" fill="#00ffbd"/>
<polygon points="518.1,310.9 526,311 455.6,356.7 447.7,356.4" fill="#00ff96"/>
<polygon points="517.3,198.3 525.2,196.4 454.9,250.9 446.9,252.3" fill="#91ff00"/>
<polygon points="296.5,374.5 301.2,373.5 230.8,413.2 226,414" fill="#00e4ff"/>
<polygon points="296.4,367.6 301.2,366.2 230.7,406.2 226,407.3" fill="#00f8ff"/>
<polygon points="296,311.1 300.8,307.6 230.3,351.6 225.6,354.6" fill="#00ff75"/>
<polygon points="750.2,270 760.3,270.9 690.1,341.4 680,340.3" fill="#00ff64"/>
<polygon points="750.1,247.9 760.2,248.4 690,321.5 679.8,320.6" fill="#00ff2d"/>
<polygon points="748.9,78.9 759,77.4 688.9,174.5 678.8,175.2" fill="#ff8100"/>
<polygon points="526.1,326.7 534.2,327.2 463.8,372 455.7,371.4" fill="#00ffbc"/>
<polygon points="526,311 534.1,311.2 463.7,357.1 455.6,356.7" fill="#00ff94"/>
<polygon points="525.2,196.4 533.3,194.6 462.9,249.5 454.9,250.9" fill="#99ff00"/>
<polygon points="301.2,373.5 306.1,372.5 235.6,412.6 230.8,413.2" fill="#00e8ff"/>
<polygon points="301.2,366.2 306,365 235.6,405.2 230.7,406.2" fill="#00fdff"/>
<polygon points="300.8,307.6 305.6,304.2 235.2,348.7 230.3,351.6" fill="#00ff6b"/>
<polygon points="306.1,372.5 311.1,371.7 240.7,412 235.6,412.6" fill="#00ecff"/>
<polygon points="306,365 311.1,363.8 240.6,404.3 235.6,405.2" fill="#00fffc"/>
<polygon points="305.6,304.2 310.6,300.9 240.2,345.9 235.2,348.7" fill="#00ff61"/>
<polygon points="760.3,270.9 770.6,271.8 700.4,342.6 690.1,341.4" fill="#00ff63"/>
<polygon points="760.2,248.4 770.4,249 700.2,322.5 690,321.5" fill="#00ff2c"/>
<polygon points="759,77.4 769.2,76 699.2,173.8 688.9,174.5" fill="#ff7b00"/>
<polygon points="534.2,327.2 542.4,327.7 472,372.7 463.8,372" fill="#00ffba"/>
<polygon points="534.1,311.2 542.3,311.4 471.9,357.6 463.7,357.1" fill="#00ff92"/>
<polygon points="533.3,194.6 541.4,192.9 471.1,248.2 462.9,249.5" fill="#a0ff00"/>
<polygon points="311.1,371.7 316.3,370.9 245.8,411.5 240.7,412" fill="#00f0ff"/>
<polygon points="311.1,363.8 316.2,362.6 245.8,403.5 240.6,404.3" fill="#00fff8"/>
<polygon points="310.6,300.9 315.7,297.7 245.3,343.1 240.2,345.9" fill="#00ff58"/>
<polygon points="316.3,370.9 321.6,370.2 251.1,411.1 245.8,411.5" fill="#00f3ff"/>
<polygon points="316.2,362.6 321.5,361.6 251.1,402.8 245.8,403.5" fill="#00fff4"/>
<polygon points="315.7,297.7 321,294.6 250.6,340.5 245.3,343.1" fill="#00ff4f"/>
<polygon points="542.4,327.7 550.7,328.3 480.3,373.4 472,372.7" fill="#00ffb9"/>
<polygon points="542.3,311.4 550.6,311.7 480.2,358 471.9,357.6" fill="#00ff90"/>
<polygon points="541.4,192.9 549.7,191.3 479.4,246.9 471.1,248.2" fill="#a7ff00"/>
<polygon points="770.6,271.8 781,272.8 710.7,343.7 700.4,342.6" fill="#00ff63"/>
<polygon points="770.4,249 780.8,249.6 710.6,323.5 700.2,322.5" fill="#00ff2b"/>
<polygon points="769.2,76 779.6,74.6 709.5,173.3 699.2,173.8" fill="#ff7600"/>
<polygon points="321.6,370.2 327,369.6 256.6,410.8 251.1,411.1" fill="#00f7ff"/>
<polygon points="321.5,361.6 326.9,360.7 256.5,402.2 251.1,402.8" fill="#00fff0"/>
<polygon points="321,294.6 326.4,291.6 256,338 250.6,340.5" fill="#00ff46"/>
<polygon points="550.7,328.3 559.1,328.9 488.7,374.2 480.3,373.4" fill="#00ffb8"/>
<polygon points="550.6,311.7 559,312.1 488.6,358.6 480.2,358" fill="#00ff8f"/>
<polygon points="549.7,191.3 558.2,189.7 487.8,245.8 479.4,246.9" fill="#aeff00"/>
<polygon points="327,369.6 332.6,369.1 262.1,410.6 256.6,410.8" fill="#00faff"/>
<polygon points="326.9,360.7 332.5,359.8 262.1,401.6 256.5,402.2" fill="#00ffec"/>
<polygon points="326.4,291.6 332,288.7 261.6,335.5 256,338" fill="#00ff3d"/>
<polygon points="781,272.8 791.5,273.7 721.2,344.9 710.7,343.7" fill="#00ff62"/>
<polygon points="780.8,249.6 791.3,250.3 721.1,324.5 710.6,323.5" fill="#00ff2a"/>
<polygon points="779.6,74.6 790,73.3 720,172.7 709.5,173.3" fill="#ff7000"/>
<polygon points="332.6,369.1 338.3,368.7 267.9,410.4 262.1,410.6" fill="#00fdff"/>
<polygon points="332.5,359.8 338.2,359.1 267.8,401.2 262.1,401.6" fill="#00ffe9"/>
<polygon points="332,288.7 337.7,285.9 267.3,333.2 261.6,335.5" fill="#00ff34"/>
<polygon points="559.1,328.9 567.7,329.6 497.3,374.9 488.7,374.2" fill="#00ffb7"/>
<polygon points="559,312.1 567.6,312.5 497.2,359.1 488.6,358.6" fill="#00ff8d"/>
<polygon points="558.2,189.7 566.7,188.2 496.4,244.7 487.8,245.8" fill="#b5ff00"/>
<polygon points="338.3,368.7 344.1,368.3 273.7,410.3 267.9,410.4" fill="#00fffe"/>
<polygon points="338.2,359.1 344.1,358.4 273.6,400.8 267.8,401.2" fill="#00ffe5"/>
<polygon points="337.7,285.9 343.5,283.2 273.1,330.9 267.3,333.2" fill="#00ff2c"/>
<polygon points="567.7,329.6 576.4,330.3 506,375.8 497.3,374.9" fill="#00ffb7"/>
<polygon points="567.6,312.5 576.3,312.9 505.9,359.8 497.2,359.1" fill="#00ff8c"/>
<polygon points="566.7,188.2 575.4,186.7 505,243.6 496.4,244.7" fill="#bbff00"/>
<polygon points="344.1,368.3 350.1,368.1 279.7,410.3 273.7,410.3" fill="#00fffc"/>
<polygon points="344.1,358.4 350,357.8 279.6,400.4 273.6,400.8" fill="#00ffe2"/>
<polygon points="343.5,283.2 349.5,280.6 279.1,328.8 273.1,330.9" fill="#00ff24"/>
<polygon points="350.1,368.1 356.2,367.9 285.8,410.3 279.7,410.3" fill="#00fffa"/>
<polygon points="350,357.8 356.2,357.3 285.7,400.2 279.6,400.4" fill="#00ffdf"/>
<polygon points="349.5,280.6 355.6,278 285.2,326.7 279.1,328.8" fill="#00ff1c"/>
<polygon points="576.4,330.3 585.2,331 514.8,376.6 506,375.8" fill="#00ffb6"/>
<polygon points="576.3,312.9 585.1,313.4 514.7,360.4 505.9,359.8" fill="#00ff8a"/>
<polygon points="575.4,186.7 584.2,185.4 513.8,242.6 505,243.6" fill="#c2ff00"/>
<polygon points="356.2,367.9 362.5,367.7 292.1,410.4 285.8,410.3" fill="#00fff7"/>
<polygon points="356.2,357.3 362.4,356.8 292,400 285.7,400.2" fill="#00ffdc"/>
<polygon points="355.6,278 361.8,275.6 291.5,324.7 285.2,326.7" fill="#00ff14"/>
<polygon points="585.2,331 594.1,331.8 523.7,377.5 514.8,376.6" fill="#00ffb5"/>
<polygon points="585.1,313.4 594,313.9 523.6,361.1 514.7,360.4" fill="#00ff89"/>
<polygon points="584.2,185.4 593.1,184.1 522.8,241.7 513.8,242.6" fill="#c8ff00"/>
<polygon points="362.5,367.7 368.9,367.7 298.5,410.6 292.1,410.4" fill="#00fff5"/>
<polygon points="362.4,356.8 368.8,356.4 298.4,399.9 292,400" fill="#00ffd9"/>
<polygon points="361.8,275.6 368.2,273.2 297.8,322.7 291.5,324.7" fill="#00ff0c"/>
<polygon points="594.1,331.8 603.2,332.6 532.8,378.4 523.7,377.5" fill="#00ffb4"/>
<polygon points="594,313.9 603.1,314.5 532.7,361.9 523.6,361.1" fill="#00ff88"/>
<polygon points="593.1,184.1 602.1,182.8 531.8,240.8 522.8,241.7" fill="#ceff00"/>
<polygon points="368.9,367.7 375.4,367.7 305,410.8 298.5,410.6" fill="#00fff3"/>
<polygon points="368.8,356.4 375.3,356.1 304.9,399.8 298.4,399.9" fill="#00ffd7"/>
<polygon points="368.2,273.2 374.7,270.9 304.3,320.9 297.8,322.7" fill="#00ff04"/>
<polygon points="375.4,367.7 382.1,367.7 311.6,411.1 305,410.8" fill="#00fff2"/>
<polygon points="375.3,356.1 382,355.9 311.6,399.8 304.9,399.8" fill="#00ffd4"/>
<polygon points="374.7,270.9 381.4,268.7 311,319.1 304.3,320.9" fill="#03ff00"/>
<polygon points="603.2,332.6 612.4,333.5 542,379.4 532.8,378.4" fill="#00ffb4"/>
<polygon points="603.1,314.5 612.2,315.1 541.8,362.6 532.7,361.9" fill="#00ff86"/>
<polygon points="602.1,182.8 611.3,181.6 541,240 531.8,240.8" fill="#d5ff00"/>
<polygon points="382.1,367.7 388.8,367.8 318.4,411.4 311.6,411.1" fill="#00fff0"/>
<polygon points="382,355.9 388.8,355.7 318.3,399.9 311.6,399.8" fill="#00ffd2"/>
<polygon points="381.4,268.7 388.1,266.6 317.8,317.4 311,319.1" fill="#0bff00"/>
<polygon points="159.1,483 159.3,476.6 88.8,506.8 88.6,512.2" fill="#0000ff"/>
<polygon points="159.1,483 159.3,476.5 88.8,506.6 88.6,512.2" fill="#0000ff"/>
<polygon points="159.1,483 159.3,474 88.7,504.8 88.6,512.2" fill="#0000ff"/>
<polygon points="159.3,476.6 159.7,471.4 89.2,502.4 88.8,506.8" fill="#0008ff"/>
<polygon points="159.3,476.5 159.7,471.1 89.2,502.1 88.8,506.6" fill="#0008ff"/>
<polygon points="159.3,474 159.7,466.5 89.2,498.6 88.7,504.8" fill="#0011ff"/>
<polygon points="159.7,471.4 160.4,466.7 89.9,498.5 89.2,502.4" fill="#0015ff"/>
<polygon points="159.7,471.1 160.4,466.2 89.9,498 89.2,502.1" fill="#0016ff"/>
<polygon points="159.7,466.5 160.3,459.5 89.8,492.9 89.2,498.6" fill="#0025ff"/>
<polygon points="160.4,466.7 161.3,462.3 90.8,494.9 89.9,498.5" fill="#0022ff"/>
<polygon points="160.4,466.2 161.3,461.7 90.8,494.3 89.9,498" fill="#0023ff"/>
<polygon points="160.3,459.5 161.2,452.9 90.7,487.5 89.8,492.9" fill="#0037ff"/>
<polygon points="161.3,462.3 162.4,458.2 91.9,491.6 90.8,494.9" fill="#002dff"/>
<polygon points="161.3,461.7 162.4,457.4 91.9,490.9 90.8,494.3" fill="#002fff"/>
<polygon points="161.2,452.9 162.3,446.6 91.9,482.4 90.7,487.5" fill="#0049ff"/>
<polygon points="612.4,333.5 621.7,334.3 551.3,380.4 542,379.4" fill="#00ffb3"/>
<polygon points="612.2,315.1 621.5,315.8 551.1,363.4 541.8,362.6" fill="#00ff85"/>
<polygon points="611.3,181.6 620.6,180.5 550.3,239.3 541,240" fill="#daff00"/>
<polygon points="162.4,458.2 163.7,454.4 93.2,488.6 91.9,491.6" fill="#0038ff"/>
<polygon points="162.4,457.4 163.7,453.4 93.2,487.6 91.9,490.9" fill="#003bff"/>
<polygon points="162.3,446.6 163.6,440.5 93.2,477.6 91.9,482.4" fill="#005aff"/>
<polygon points="163.7,454.4 165.3,450.9 94.8,485.8 93.2,488.6" fill="#0042ff"/>
<polygon points="163.7,453.4 165.2,449.6 94.8,484.7 93.2,487.6" fill="#0046ff"/>
<polygon points="163.6,440.5 165.1,434.7 94.7,473 93.2,477.6" fill="#006aff"/>
<polygon points="388.8,367.8 395.8,368 325.3,411.8 318.4,411.4" fill="#00ffef"/>
<polygon points="388.8,355.7 395.7,355.6 325.3,400 318.3,399.9" fill="#00ffcf"/>
<polygon points="388.1,266.6 395,264.5 324.7,315.8 317.8,317.4" fill="#13ff00"/>
<polygon points="165.3,450.9 167,447.5 96.5,483.2 94.8,485.8" fill="#004cff"/>
<polygon points="165.2,449.6 166.9,446.1 96.5,481.9 94.8,484.7" fill="#0050ff"/>
<polygon points="165.1,434.7 166.8,429.2 96.4,468.6 94.7,473" fill="#0079ff"/>
<polygon points="167,447.5 168.8,444.4 98.4,480.8 96.5,483.2" fill="#0055ff"/>
<polygon points="166.9,446.1 168.8,442.7 98.4,479.3 96.5,481.9" fill="#005aff"/>
<polygon points="166.8,429.2 168.7,423.8 98.2,464.3 96.4,468.6" fill="#0088ff"/>
<polygon points="168.8,444.4 170.9,441.4 100.4,478.6 98.4,480.8" fill="#005eff"/>
<polygon points="168.8,442.7 170.9,439.5 100.4,476.9 98.4,479.3" fill="#0063ff"/>
<polygon points="168.7,423.8 170.7,418.6 100.3,460.3 98.2,464.3" fill="#0097ff"/>
<polygon points="621.7,334.3 631.1,335.3 560.7,381.4 551.3,380.4" fill="#00ffb3"/>
<polygon points="621.5,315.8 631,316.5 560.6,364.3 551.1,363.4" fill="#00ff84"/>
<polygon points="620.6,180.5 630,179.5 559.7,238.6 550.3,239.3" fill="#e0ff00"/>
<polygon points="395.8,368 402.8,368.3 332.4,412.2 325.3,411.8" fill="#00ffed"/>
<polygon points="395.7,355.6 402.7,355.5 332.3,400.2 325.3,400" fill="#00ffcd"/>
<polygon points="395,264.5 402,262.6 331.7,314.3 324.7,315.8" fill="#1aff00"/>
<polygon points="170.9,441.4 173.1,438.7 102.7,476.5 100.4,478.6" fill="#0066ff"/>
<polygon points="170.9,439.5 173.1,436.5 102.7,474.6 100.4,476.9" fill="#006cff"/>
<polygon points="170.7,418.6 173,413.5 102.5,456.4 100.3,460.3" fill="#00a5ff"/>
<polygon points="173.1,438.7 175.6,436.1 105.1,474.6 102.7,476.5" fill="#006dff"/>
<polygon points="173.1,436.5 175.5,433.6 105.1,472.5 102.7,474.6" fill="#0074ff"/>
<polygon points="173,413.5 175.4,408.7 104.9,452.6 102.5,456.4" fill="#00b3ff"/>
<polygon points="175.6,436.1 178.1,433.6 107.7,472.9 105.1,474.6" fill="#0075ff"/>
<polygon points="175.5,433.6 178.1,430.9 107.7,470.6 105.1,472.5" fill="#007cff"/>
<polygon points="175.4,408.7 177.9,404 107.5,449 104.9,452.6" fill="#00c0ff"/>
<polygon points="402.8,368.3 410,368.6 339.6,412.7 332.4,412.2" fill="#00ffec"/>
<polygon points="402.7,355.5 409.9,355.5 339.5,400.4 332.3,400.2" fill="#00ffcb"/>
<polygon points="402,262.6 409.2,260.7 338.8,312.8 331.7,314.3" fill="#22ff00"/>
<polygon points="178.1,433.6 180.9,431.3 110.4,471.3 107.7,472.9" fill="#007cff"/>
<polygon points="178.1,430.9 180.9,428.3 110.4,468.8 107.7,470.6" fill="#0083ff"/>
<polygon points="177.9,404 180.7,399.4 110.2,445.5 107.5,449" fill="#00cdff"/>
<polygon points="631.1,335.3 640.6,336.2 570.2,382.4 560.7,381.4" fill="#00ffb2"/>
<polygon points="631,316.5 640.5,317.3 570.1,365.2 560.6,364.3" fill="#00ff83"/>
<polygon points="630,179.5 639.5,178.5 569.2,238 559.7,238.6" fill="#e6ff00"/>
<polygon points="180.9,431.3 183.8,429.2 113.3,469.9 110.4,471.3" fill="#0082ff"/>
<polygon points="180.9,428.3 183.8,425.9 113.3,467.1 110.4,468.8" fill="#008bff"/>
<polygon points="180.7,399.4 183.5,395 113.2,442.2 110.2,445.5" fill="#00daff"/>
<polygon points="183.8,429.2 186.9,427.2 116.4,468.6 113.3,469.9" fill="#0088ff"/>
<polygon points="183.8,425.9 186.8,423.6 116.4,465.5 113.3,467.1" fill="#0092ff"/>
<polygon points="183.5,395 186.6,390.7 116.2,439 113.2,442.2" fill="#00e6ff"/>
<polygon points="410,368.6 417.3,368.9 346.9,413.2 339.6,412.7" fill="#00ffea"/>
<polygon points="409.9,355.5 417.2,355.6 346.8,400.7 339.5,400.4" fill="#00ffc9"/>
<polygon points="409.2,260.7 416.5,258.9 346.1,311.4 338.8,312.8" fill="#29ff00"/>
<polygon points="186.9,427.2 190.1,425.4 119.7,467.4 116.4,468.6" fill="#008eff"/>
<polygon points="186.8,423.6 190.1,421.5 119.6,464.1 116.4,465.5" fill="#0098ff"/>
<polygon points="186.6,390.7 189.8,386.6 119.4,435.9 116.2,439" fill="#00f2ff"/>
<polygon points="640.6,336.2 650.3,337.2 579.9,383.5 570.2,382.4" fill="#00ffb2"/>
<polygon points="640.5,317.3 650.1,318 579.8,366.1 570.1,365.2" fill="#00ff82"/>
<polygon points="639.5,178.5 649.1,177.6 578.8,237.4 569.2,238" fill="#ecff00"/>
<polygon points="190.1,425.4 193.5,423.6 123,466.4 119.7,467.4" fill="#0094ff"/>
<polygon points="190.1,421.5 193.4,419.4 123,462.8 119.6,464.1" fill="#009eff"/>
<polygon points="189.8,386.6 193.2,382.5 122.8,432.9 119.4,435.9" fill="#00feff"/>
<polygon points="417.3,368.9 424.7,369.3 354.3,413.8 346.9,413.2" fill="#00ffe9"/>
<polygon points="417.2,355.6 424.6,355.7 354.2,401 346.8,400.7" fill="#00ffc7"/>
<polygon points="416.5,258.9 423.9,257.1 353.6,310.1 346.1,311.4" fill="#30ff00"/>
<polygon points="193.5,423.6 197,422 126.6,465.4 123,466.4" fill="#0099ff"/>
<polygon points="193.4,419.4 197,417.5 126.6,461.7 123,462.8" fill="#00a4ff"/>
<polygon points="193.2,382.5 196.7,378.6 126.3,430.1 122.8,432.9" fill="#00fff6"/>
<polygon points="197,422 200.7,420.5 130.3,464.6 126.6,465.4" fill="#009eff"/>
<polygon points="197,417.5 200.7,415.7 130.3,460.6 126.6,461.7" fill="#00aaff"/>
<polygon points="196.7,378.6 200.4,374.9 130,427.3 126.3,430.1" fill="#00ffec"/>
<polygon points="650.3,337.2 660.1,338.2 589.7,384.6 579.9,383.5" fill="#00ffb1"/>
<polygon points="650.1,318 659.9,318.9 589.5,367 579.8,366.1" fill="#00ff81"/>
<polygon points="649.1,177.6 658.9,176.7 588.6,236.9 578.8,237.4" fill="#f1ff00"/>
<polygon points="424.7,369.3 432.3,369.8 361.9,414.4 354.3,413.8" fill="#00ffe8"/>
<polygon points="424.6,355.7 432.2,355.9 361.8,401.4 354.2,401" fill="#00ffc6"/>
<polygon points="423.9,257.1 431.5,255.5 361.1,308.8 353.6,310.1" fill="#37ff00"/>
<polygon points="200.7,420.5 204.6,419.2 134.2,463.9 130.3,464.6" fill="#00a2ff"/>
<polygon points="200.7,415.7 204.5,414.1 134.1,459.6 130.3,460.6" fill="#00b0ff"/>
<polygon points="200.4,374.9 204.2,371.2 133.9,424.7 130,427.3" fill="#00ffe3"/>
<polygon points="204.6,419.2 208.6,417.9 138.2,463.2 134.2,463.9" fill="#00a7ff"/>
<polygon points="204.5,414.1 208.5,412.5 138.1,458.8 134.1,459.6" fill="#00b5ff"/>
<polygon points="204.2,371.2 208.2,367.7 137.9,422.2 133.9,424.7" fill="#00ffda"/>
<polygon points="432.3,369.8 440,370.3 369.5,415 361.9,414.4" fill="#00ffe7"/>
<polygon points="432.2,355.9 439.9,356.1 369.5,401.9 361.8,401.4" fill="#00ffc4"/>
<polygon points="431.5,255.5 439.1,253.9 368.8,307.6 361.1,308.8" fill="#3dff00"/>
<polygon points="660.1,338.2 670,339.3 599.6,385.7 589.7,384.6" fill="#00ffb1"/>
<polygon points="659.9,318.9 669.8,319.7 599.4,368 589.5,367" fill="#00ff81"/>
<polygon points="658.9,176.7 668.8,175.9 598.5,236.5 588.6,236.9" fill="#f6ff00"/>
<polygon points="208.6,417.9 212.7,416.8 142.3,462.7 138.2,463.2" fill="#00abff"/>
<polygon points="208.5,412.5 212.7,411 142.3,458 138.1,458.8" fill="#00baff"/>
<polygon points="208.2,367.7 212.3,364.2 142,419.7 137.9,422.2" fill="#00ffd0"/>
<polygon points="212.7,416.8 217,415.7 146.6,462.3 142.3,462.7" fill="#00afff"/>
<polygon points="212.7,411 217,409.7 146.6,457.4 142.3,458" fill="#00beff"/>
<polygon points="212.3,364.2 216.6,360.9 146.3,417.4 142,419.7" fill="#00ffc8"/>
<polygon points="440,370.3 447.8,370.8 377.4,415.7 369.5,415" fill="#00ffe6"/>
<polygon points="439.9,356.1 447.7,356.4 377.3,402.3 369.5,401.9" fill="#00ffc2"/>
<polygon points="439.1,253.9 446.9,252.3 376.6,306.5 368.8,307.6" fill="#44ff00"/>
<polygon points="217,415.7 221.5,414.8 151.1,461.9 146.6,462.3" fill="#00b2ff"/>
<polygon points="217,409.7 221.4,408.4 151,456.8 146.6,457.4" fill="#00c3ff"/>
<polygon points="216.6,360.9 221,357.7 150.7,415.2 146.3,417.4" fill="#00ffbf"/>
<polygon points="670,339.3 680,340.3 609.6,386.9 599.6,385.7" fill="#00ffb0"/>
<polygon points="669.8,319.7 679.8,320.6 609.5,369 599.4,368" fill="#00ff80"/>
<polygon points="668.8,175.9 678.8,175.2 608.5,236.1 598.5,236.5" fill="#fbff00"/>
<polygon points="221.5,414.8 226,414 155.6,461.7 151.1,461.9" fill="#00b6ff"/>
<polygon points="221.4,408.4 226,407.3 155.6,456.3 151,456.8" fill="#00c7ff"/>
<polygon points="221,357.7 225.6,354.6 155.3,413.1 150.7,415.2" fill="#00ffb7"/>
<polygon points="447.8,370.8 455.7,371.4 385.3,416.5 377.4,415.7" fill="#00ffe5"/>
<polygon points="447.7,356.4 455.6,356.7 385.2,402.9 377.3,402.3" fill="#00ffc1"/>
<polygon points="446.9,252.3 454.9,250.9 384.5,305.5 376.6,306.5" fill="#4aff00"/>
<polygon points="226,414 230.8,413.2 160.4,461.5 155.6,461.7" fill="#00b9ff"/>
<polygon points="226,407.3 230.7,406.2 160.3,455.9 155.6,456.3" fill="#00cbff"/>
<polygon points="225.6,354.6 230.3,351.6 160,411.1 155.3,413.1" fill="#00ffaf"/>
<polygon points="680,340.3 690.1,341.4 619.7,388 609.6,386.9" fill="#00ffb0"/>
<polygon points="679.8,320.6 690,321.5 619.6,370.1 609.5,369" fill="#00ff7f"/>
<polygon points="678.8,175.2 688.9,174.5 618.6,235.8 608.5,236.1" fill="#fffe00"/>
<polygon points="455.7,371.4 463.8,372 393.4,417.2 385.3,416.5" fill="#00ffe4"/>
<polygon points="455.6,356.7 463.7,357.1 393.3,403.4 385.2,402.9" fill="#00ffc0"/>
<polygon points="454.9,250.9 462.9,249.5 392.6,304.5 384.5,305.5" fill="#51ff00"/>
<polygon points="230.8,413.2 235.6,412.6 165.3,461.4 160.4,461.5" fill="#00bcff"/>
<polygon points="230.7,406.2 235.6,405.2 165.2,455.6 160.3,455.9" fill="#00cfff"/>
<polygon points="230.3,351.6 235.2,348.7 164.9,409.1 160,411.1" fill="#00ffa7"/>
<polygon points="235.6,412.6 240.7,412 170.3,461.3 165.3,461.4" fill="#00bfff"/>
<polygon points="235.6,405.2 240.6,404.3 170.2,455.4 165.2,455.6" fill="#00d2ff"/>
<polygon points="235.2,348.7 240.2,345.9 169.9,407.3 164.9,409.1" fill="#00ff9f"/>
<polygon points="690.1,341.4 700.4,342.6 630,389.2 619.7,388" fill="#00ffb0"/>
<polygon points="690,321.5 700.2,322.5 629.8,371.1 619.6,370.1" fill="#00ff7e"/>
<polygon points="688.9,174.5 699.2,173.8 628.9,235.5 618.6,235.8" fill="#fff900"/>
<polygon points="463.8,372 472,372.7 401.6,418 393.4,417.2" fill="#00ffe4"/>
<polygon points="463.7,357.1 471.9,357.6 401.5,404.1 393.3,403.4" fill="#00ffbe"/>
<polygon points="462.9,249.5 471.1,248.2 400.8,303.6 392.6,304.5" fill="#57ff00"/>
<polygon points="240.7,412 245.8,411.5 175.4,461.4 170.3,461.3" fill="#00c1ff"/>
<polygon points="240.6,404.3 245.8,403.5 175.4,455.2 170.2,455.4" fill="#00d6ff"/>
<polygon points="240.2,345.9 245.3,343.1 175.1,405.5 169.9,407.3" fill="#00ff97"/>
<polygon points="245.8,411.5 251.1,411.1 180.8,461.5 175.4,461.4" fill="#00c4ff"/>
<polygon points="245.8,403.5 251.1,402.8 180.7,455.1 175.4,455.2" fill="#00d9ff"/>
<polygon points="245.3,343.1 250.6,340.5 180.3,403.9 175.1,405.5" fill="#00ff90"/>
<polygon points="472,372.7 480.3,373.4 409.9,418.9 401.6,418" fill="#00ffe3"/>
<polygon points="471.9,357.6 480.2,358 409.8,404.7 401.5,404.1" fill="#00ffbd"/>
<polygon points="471.1,248.2 479.4,246.9 409.1,302.7 400.8,303.6" fill="#5dff00"/>
<polygon points="700.4,342.6 710.7,343.7 640.3,390.4 630,389.2" fill="#00ffaf"/>
<polygon points="700.2,322.5 710.6,323.5 640.2,372.2 629.8,371.1" fill="#00ff7e"/>
<polygon points="699.2,173.8 709.5,173.3 639.2,235.3 628.9,235.5" fill="#fff500"/>
<polygon points="251.1,411.1 256.6,410.8 186.2,461.6 180.8,461.5" fill="#00c6ff"/>
<polygon points="251.1,402.8 256.5,402.2 186.1,455.1 180.7,455.1" fill="#00dcff"/>
<polygon points="250.6,340.5 256,338 185.8,402.3 180.3,403.9" fill="#00ff89"/>
<polygon points="480.3,373.4 488.7,374.2 418.3,419.7 409.9,418.9" fill="#00ffe2"/>
<polygon points="480.2,358 488.6,358.6 418.2,405.4 409.8,404.7" fill="#00ffbc"/>
<polygon points="479.4,246.9 487.8,245.8 417.5,301.9 409.1,302.7" fill="#62ff00"/>
<polygon points="256.6,410.8 262.1,410.6 191.8,461.9 186.2,461.6" fill="#00c8ff"/>
<polygon points="256.5,402.2 262.1,401.6 191.7,455.1 186.1,455.1" fill="#00dfff"/>
<polygon points="256,338 261.6,335.5 191.3,400.8 185.8,402.3" fill="#00ff82"/>
<polygon points="710.7,343.7 721.2,344.9 650.8,391.7 640.3,390.4" fill="#00ffaf"/>
<polygon points="710.6,323.5 721.1,324.5 650.7,373.4 640.2,372.2" fill="#00ff7d"/>
<polygon points="709.5,173.3 720,172.7 649.7,235.1 639.2,235.3" fill="#fff100"/>
<polygon points="262.1,410.6 267.9,410.4 197.5,462.2 191.8,461.9" fill="#00caff"/>
<polygon points="262.1,401.6 267.8,401.2 197.4,455.2 191.7,455.1" fill="#00e1ff"/>
<polygon points="261.6,335.5 267.3,333.2 197,399.4 191.3,400.8" fill="#00ff7b"/>
<polygon points="488.7,374.2 497.3,374.9 426.9,420.6 418.3,419.7" fill="#00ffe2"/>
<polygon points="488.6,358.6 497.2,359.1 426.8,406.1 418.2,405.4" fill="#00ffbb"/>
<polygon points="487.8,245.8 496.4,244.7 426,301.2 417.5,301.9" fill="#68ff00"/>
<polygon points="267.9,410.4 273.7,410.3 203.3,462.5 197.5,462.2" fill="#00ccff"/>
<polygon points="267.8,401.2 273.6,400.8 203.3,455.4 197.4,455.2" fill="#00e4ff"/>
<polygon points="267.3,333.2 273.1,330.9 202.9,398 197,399.4" fill="#00ff74"/>
<polygon points="497.3,374.9 506,375.8 435.6,421.6 426.9,420.6" fill="#00ffe1"/>
<polygon points="497.2,359.1 505.9,359.8 435.5,406.9 426.8,406.1" fill="#00ffba"/>
<polygon points="496.4,244.7 505,243.6 434.7,300.5 426,301.2" fill="#6eff00"/>
<polygon points="273.7,410.3 279.7,410.3 209.3,462.9 203.3,462.5" fill="#00ceff"/>
<polygon points="273.6,400.8 279.6,400.4 209.3,455.6 203.3,455.4" fill="#00e6ff"/>
<polygon points="273.1,330.9 279.1,328.8 208.9,396.8 202.9,398" fill="#00ff6e"/>
<polygon points="279.7,410.3 285.8,410.3 215.5,463.3 209.3,462.9" fill="#00cfff"/>
<polygon points="279.6,400.4 285.7,400.2 215.4,455.9 209.3,455.6" fill="#00e9ff"/>
<polygon points="279.1,328.8 285.2,326.7 215,395.6 208.9,396.8" fill="#00ff67"/>
<polygon points="506,375.8 514.8,376.6 444.4,422.5 435.6,421.6" fill="#00ffe1"/>
<polygon points="505.9,359.8 514.7,360.4 444.3,407.7 435.5,406.9" fill="#00ffb9"/>
<polygon points="505,243.6 513.8,242.6 443.5,299.9 434.7,300.5" fill="#73ff00"/>
<polygon points="285.8,410.3 292.1,410.4 221.7,463.8 215.5,463.3" fill="#00d1ff"/>
<polygon points="285.7,400.2 292,400 221.7,456.2 215.4,455.9" fill="#00ebff"/>
<polygon points="285.2,326.7 291.5,324.7 221.2,394.5 215,395.6" fill="#00ff61"/>
<polygon points="514.8,376.6 523.7,377.5 453.3,423.5 444.4,422.5" fill="#00ffe0"/>
<polygon points="514.7,360.4 523.6,361.1 453.2,408.6 444.3,407.7" fill="#00ffb8"/>
<polygon points="513.8,242.6 522.8,241.7 452.4,299.4 443.5,299.9" fill="#78ff00"/>
<polygon points="292.1,410.4 298.5,410.6 228.1,464.3 221.7,463.8" fill="#00d2ff"/>
<polygon points="292,400 298.4,399.9 228.1,456.6 221.7,456.2" fill="#00edff"/>
<polygon points="291.5,324.7 297.8,322.7 227.6,393.4 221.2,394.5" fill="#00ff5b"/>
<polygon points="523.7,377.5 532.8,378.4 462.4,424.5 453.3,423.5" fill="#00ffe0"/>
<polygon points="523.6,361.1 532.7,361.9 462.3,409.4 453.2,408.6" fill="#00ffb7"/>
<polygon points="522.8,241.7 531.8,240.8 461.5,298.9 452.4,299.4" fill="#7eff00"/>
<polygon points="298.5,410.6 305,410.8 234.6,464.9 228.1,464.3" fill="#00d3ff"/>
<polygon points="298.4,399.9 304.9,399.8 234.6,457 228.1,456.6" fill="#00efff"/>
<polygon points="297.8,322.7 304.3,320.9 234.1,392.5 227.6,393.4" fill="#00ff55"/>
<polygon points="305,410.8 311.6,411.1 241.3,465.5 234.6,464.9" fill="#00d5ff"/>
<polygon points="304.9,399.8 311.6,399.8 241.2,457.5 234.6,457" fill="#00f0ff"/>
<polygon points="304.3,320.9 311,319.1 240.8,391.6 234.1,392.5" fill="#00ff50"/>
<polygon points="532.8,378.4 542,379.4 471.6,425.6 462.4,424.5" fill="#00ffdf"/>
<polygon points="532.7,361.9 541.8,362.6 471.5,410.3 462.3,409.4" fill="#00ffb6"/>
<polygon points="531.8,240.8 541,240 470.7,298.5 461.5,298.9" fill="#83ff00"/>
<polygon points="311.6,411.1 318.4,411.4 248.1,466.2 241.3,465.5" fill="#00d6ff"/>
<polygon points="311.6,399.8 318.3,399.9 248,458 241.2,457.5" fill="#00f2ff"/>
<polygon points="311,319.1 317.8,317.4 247.5,390.8 240.8,391.6" fill="#00ff4a"/>
<polygon points="542,379.4 551.3,380.4 480.9,426.6 471.6,425.6" fill="#00ffdf"/>
<polygon points="541.8,362.6 551.1,363.4 480.8,411.3 471.5,410.3" fill="#00ffb5"/>
<polygon points="541,240 550.3,239.3 479.9,298.1 470.7,298.5" fill="#87ff00"/>
<polygon points="318.4,411.4 325.3,411.8 255,466.9 248.1,466.2" fill="#00d7ff"/>
<polygon points="318.3,399.9 325.3,400 254.9,458.6 248,458" fill="#00f4ff"/>
<polygon points="317.8,317.4 324.7,315.8 254.4,390 247.5,390.8" fill="#00ff45"/>
<polygon points="551.3,380.4 560.7,381.4 490.3,427.7 480.9,426.6" fill="#00ffdf"/>
<polygon points="551.1,363.4 560.6,364.3 490.2,412.3 480.8,411.3" fill="#00ffb5"/>
<polygon points="550.3,239.3 559.7,238.6 489.4,297.8 479.9,298.1" fill="#8cff00"/>
<polygon points="325.3,411.8 332.4,412.2 262,467.6 255,466.9" fill="#00d8ff"/>
<polygon points="325.3,400 332.3,400.2 262,459.2 254.9,458.6" fill="#00f5ff"/>
<polygon points="324.7,315.8 331.7,314.3 261.5,389.3 254.4,390" fill="#00ff40"/>
<polygon points="332.4,412.2 339.6,412.7 269.2,468.4 262,467.6" fill="#00d8ff"/>
<polygon points="332.3,400.2 339.5,400.4 269.2,459.9 262,459.2" fill="#00f7ff"/>
<polygon points="331.7,314.3 338.8,312.8 268.7,388.7 261.5,389.3" fill="#00ff3b"/>
<polygon points="560.7,381.4 570.2,382.4 499.8,428.8 490.3,427.7" fill="#00ffde"/>
<polygon points="560.6,364.3 570.1,365.2 499.7,413.3 490.2,412.3" fill="#00ffb4"/>
<polygon points="559.7,238.6 569.2,238 498.9,297.5 489.4,297.8" fill="#91ff00"/>
<polygon points="339.6,412.7 346.9,413.2 276.5,469.1 269.2,468.4" fill="#00d9ff"/>
<polygon points="339.5,400.4 346.8,400.7 276.5,460.5 269.2,459.9" fill="#00f8ff"/>
<polygon points="338.8,312.8 346.1,311.4 276,388.1 268.7,388.7" fill="#00ff36"/>
<polygon points="570.2,382.4 579.9,383.5 509.5,429.9 499.8,428.8" fill="#00ffde"/>
<polygon points="570.1,365.2 579.8,366.1 509.4,414.3 499.7,413.3" fill="#00ffb3"/>
<polygon points="569.2,238 578.8,237.4 508.5,297.3 498.9,297.5" fill="#95ff00"/>
<polygon points="346.9,413.2 354.3,413.8 284,470 276.5,469.1" fill="#00daff"/>
<polygon points="346.8,400.7 354.2,401 283.9,461.3 276.5,460.5" fill="#00f9ff"/>
<polygon points="346.1,311.4 353.6,310.1 283.4,387.6 276,388.1" fill="#00ff31"/>
<polygon points="579.9,383.5 589.7,384.6 519.3,431.1 509.5,429.9" fill="#00ffde"/>
<polygon points="579.8,366.1 589.5,367 519.1,415.3 509.4,414.3" fill="#00ffb3"/>
<polygon points="578.8,237.4 588.6,236.9 518.3,297.2 508.5,297.3" fill="#9aff00"/>
<polygon points="354.3,413.8 361.9,414.4 291.5,470.8 284,470" fill="#00dbff"/>
<polygon points="354.2,401 361.8,401.4 291.5,462 283.9,461.3" fill="#00faff"/>
<polygon points="353.6,310.1 361.1,308.8 290.9,387.2 283.4,387.6" fill="#00ff2c"/>
<polygon points="361.9,414.4 369.5,415 299.2,471.7 291.5,470.8" fill="#00dbff"/>
<polygon points="361.8,401.4 369.5,401.9 299.2,462.8 291.5,462" fill="#00fbff"/>
<polygon points="361.1,308.8 368.8,307.6 298.6,386.8 290.9,387.2" fill="#00ff28"/>
<polygon points="589.7,384.6 599.6,385.7 529.2,432.3 519.3,431.1" fill="#00ffde"/>
<polygon points="589.5,367 599.4,368 529,416.4 519.1,415.3" fill="#00ffb2"/>
<polygon points="588.6,236.9 598.5,236.5 528.2,297.1 518.3,297.2" fill="#9eff00"/>
<polygon points="369.5,415 377.4,415.7 307,472.6 299.2,471.7" fill="#00dcff"/>
<polygon points="369.5,401.9 377.3,402.3 307,463.6 299.2,462.8" fill="#00fcff"/>
<polygon points="368.8,307.6 376.6,306.5 306.4,386.5 298.6,386.8" fill="#00ff23"/>
<polygon points="599.6,385.7 609.6,386.9 539.2,433.5 529.2,432.3" fill="#00ffdd"/>
<polygon points="599.4,368 609.5,369 539.1,417.5 529,416.4" fill="#00ffb2"/>
<polygon points="598.5,236.5 608.5,236.1 538.2,297 528.2,297.1" fill="#a2ff00"/>
<polygon points="377.4,415.7 385.3,416.5 315,473.5 307,472.6" fill="#00dcff"/>
<polygon points="377.3,402.3 385.2,402.9 314.9,464.5 307,463.6" fill="#00fdff"/>
<polygon points="376.6,306.5 384.5,305.5 314.4,386.3 306.4,386.5" fill="#00ff1f"/>
<polygon points="609.6,386.9 619.7,388 549.3,434.7 539.2,433.5" fill="#00ffdd"/>
<polygon points="609.5,369 619.6,370.1 549.2,418.7 539.1,417.5" fill="#00ffb1"/>
<polygon points="608.5,236.1 618.6,235.8 548.3,297 538.2,297" fill="#a6ff00"/>
<polygon points="385.3,416.5 393.4,417.2 323,474.4 315,473.5" fill="#00ddff"/>
<polygon points="385.2,402.9 393.3,403.4 323,465.4 314.9,464.5" fill="#00feff"/>
<polygon points="384.5,305.5 392.6,304.5 322.4,386.1 314.4,386.3" fill="#00ff1b"/>
<polygon points="619.7,388 630,389.2 559.6,435.9 549.3,434.7" fill="#00ffdd"/>
<polygon points="619.6,370.1 629.8,371.1 559.5,419.8 549.2,418.7" fill="#00ffb1"/>
<polygon points="618.6,235.8 628.9,235.5 558.6,297.1 548.3,297" fill="#aaff00"/>
<polygon points="393.4,417.2 401.6,418 331.2,475.4 323,474.4" fill="#00ddff"/>
<polygon points="393.3,403.4 401.5,404.1 331.2,466.3 323,465.4" fill="#00ffff"/>
<polygon points="392.6,304.5 400.8,303.6 330.6,385.9 322.4,386.1" fill="#00ff17"/>
<polygon points="401.6,418 409.9,418.9 339.6,476.4 331.2,475.4" fill="#00ddff"/>
<polygon points="401.5,404.1 409.8,404.7 339.5,467.2 331.2,466.3" fill="#00ffff"/>
<polygon points="400.8,303.6 409.1,302.7 338.9,385.8 330.6,385.9" fill="#00ff13"/>
<polygon points="630,389.2 640.3,390.4 569.9,437.2 559.6,435.9" fill="#00ffdd"/>
<polygon points="629.8,371.1 640.2,372.2 569.8,421 559.5,419.8" fill="#00ffb0"/>
<polygon points="628.9,235.5 639.2,235.3 569,297.2 558.6,297.1" fill="#aeff00"/>
<polygon points="409.9,418.9 418.3,419.7 348,477.4 339.6,476.4" fill="#00deff"/>
<polygon points="409.8,404.7 418.2,405.4 347.9,468.2 339.5,467.2" fill="#00fffe"/>
<polygon points="409.1,302.7 417.5,301.9 347.4,385.8 338.9,385.8" fill="#00ff0f"/>
<polygon points="640.3,390.4 650.8,391.7 580.4,438.5 569.9,437.2" fill="#00ffdd"/>
<polygon points="640.2,372.2 650.7,373.4 580.3,422.2 569.8,421" fill="#00ffb0"/>
<polygon points="639.2,235.3 649.7,235.1 579.4,297.3 569,297.2" fill="#b2ff00"/>
<polygon points="418.3,419.7 426.9,420.6 356.6,478.4 348,477.4" fill="#00deff"/>
<polygon points="418.2,405.4 426.8,406.1 356.5,469.1 347.9,468.2" fill="#00fffd"/>
<polygon points="417.5,301.9 426,301.2 355.9,385.8 347.4,385.8" fill="#00ff0b"/>
<polygon points="426.9,420.6 435.6,421.6 365.3,479.5 356.6,478.4" fill="#00deff"/>
<polygon points="426.8,406.1 435.5,406.9 365.2,470.1 356.5,469.1" fill="#00fffd"/>
<polygon points="426,301.2 434.7,300.5 364.6,385.9 355.9,385.8" fill="#00ff07"/>
<polygon points="435.6,421.6 444.4,422.5 374.1,480.6 365.3,479.5" fill="#00dfff"/>
<polygon points="435.5,406.9 444.3,407.7 374,471.2 365.2,470.1" fill="#00fffc"/>
<polygon points="434.7,300.5 443.5,299.9 373.4,386 364.6,385.9" fill="#00ff04"/>
<polygon points="444.4,422.5 453.3,423.5 383,481.7 374.1,480.6" fill="#00dfff"/>
<polygon points="444.3,407.7 453.2,408.6 382.9,472.2 374,471.2" fill="#00fffc"/>
<polygon points="443.5,299.9 452.4,299.4 382.3,386.2 373.4,386" fill="#00ff00"/>
<polygon points="453.3,423.5 462.4,424.5 392.1,482.8 383,481.7" fill="#00dfff"/>
<polygon points="453.2,408.6 462.3,409.4 392,473.3 382.9,472.2" fill="#00fffc"/>
<polygon points="452.4,299.4 461.5,298.9 391.4,386.4 382.3,386.2" fill="#03ff00"/>
<polygon points="462.4,424.5 471.6,425.6 401.2,483.9 392.1,482.8" fill="#00dfff"/>
<polygon points="462.3,409.4 471.5,410.3 401.2,474.4 392,473.3" fill="#00fffb"/>
<polygon points="461.5,298.9 470.7,298.5 400.6,386.7 391.4,386.4" fill="#07ff00"/>
<polygon points="471.6,425.6 480.9,426.6 410.5,485 401.2,483.9" fill="#00dfff"/>
<polygon points="471.5,410.3 480.8,411.3 410.5,475.5 401.2,474.4" fill="#00fffb"/>
<polygon points="470.7,298.5 479.9,298.1 409.8,387 400.6,386.7" fill="#0aff00"/>
<polygon points="480.9,426.6 490.3,427.7 420,486.2 410.5,485" fill="#00e0ff"/>
<polygon points="480.8,411.3 490.2,412.3 419.9,476.7 410.5,475.5" fill="#00fffa"/>
<polygon points="479.9,298.1 489.4,297.8 419.3,387.4 409.8,387" fill="#0dff00"/>
<polygon points="490.3,427.7 499.8,428.8 429.5,487.4 420,486.2" fill="#00e0ff"/>
<polygon points="490.2,412.3 499.7,413.3 429.4,477.8 419.9,476.7" fill="#00fffa"/>
<polygon points="489.4,297.8 498.9,297.5 428.8,387.8 419.3,387.4" fill="#11ff00"/>
<polygon points="499.8,428.8 509.5,429.9 439.2,488.6 429.5,487.4" fill="#00e0ff"/>
<polygon points="499.7,413.3 509.4,414.3 439.1,479 429.4,477.8" fill="#00fffa"/>
<polygon points="498.9,297.5 508.5,297.3 438.5,388.2 428.8,387.8" fill="#14ff00"/>
<polygon points="509.5,429.9 519.3,431.1 448.9,489.8 439.2,488.6" fill="#00e0ff"/>
<polygon points="509.4,414.3 519.1,415.3 448.9,480.2 439.1,479" fill="#00fffa"/>
<polygon points="508.5,297.3 518.3,297.2 448.2,388.7 438.5,388.2" fill="#17ff00"/>
<polygon points="519.3,431.1 529.2,432.3 458.8,491 448.9,489.8" fill="#00e0ff"/>
<polygon points="519.1,415.3 529,416.4 458.8,481.4 448.9,480.2" fill="#00fff9"/>
<polygon points="518.3,297.2 528.2,297.1 458.1,389.3 448.2,388.7" fill="#1aff00"/>
<polygon points="529.2,432.3 539.2,433.5 468.9,492.3 458.8,491" fill="#00e0ff"/>
<polygon points="529,416.4 539.1,417.5 468.8,482.6 458.8,481.4" fill="#00fff9"/>
<polygon points="528.2,297.1 538.2,297 468.1,389.8 458.1,389.3" fill="#1cff00"/>
<polygon points="539.2,433.5 549.3,434.7 479,493.5 468.9,492.3" fill="#00e0ff"/>
<polygon points="539.1,417.5 549.2,418.7 478.9,483.9 468.8,482.6" fill="#00fff9"/>
<polygon points="538.2,297 548.3,297 478.3,390.5 468.1,389.8" fill="#1fff00"/>
<polygon points="549.3,434.7 559.6,435.9 489.3,494.8 479,493.5" fill="#00e0ff"/>
<polygon points="549.2,418.7 559.5,419.8 489.2,485.1 478.9,483.9" fill="#00fff9"/>
<polygon points="548.3,297 558.6,297.1 488.5,391.1 478.3,390.5" fill="#22ff00"/>
<polygon points="559.6,435.9 569.9,437.2 499.6,496.1 489.3,494.8" fill="#00e0ff"/>
<polygon points="559.5,419.8 569.8,421 499.6,486.4 489.2,485.1" fill="#00fff9"/>
<polygon points="558.6,297.1 569,297.2 498.9,391.8 488.5,391.1" fill="#24ff00"/>
<polygon points="569.9,437.2 580.4,438.5 510.1,497.4 499.6,496.1" fill="#00e0ff"/>
<polygon points="569.8,421 580.3,422.2 510.1,487.7 499.6,486.4" fill="#00fff8"/>
<polygon points="569,297.2 579.4,297.3 509.4,392.6 498.9,391.8" fill="#27ff00"/>
</g>
<polyline points="771.4,271.9 773.5,272.1 775.6,272.3 777.7,272.5 779.8,272.7 782,272.9 784.1,273 786.2,273.2 788.3,273.4 790.4,273.6 791.5,273.7" fill="none" stroke="#007a00" stroke-width="1.2" stroke-linejoin="round"/>
<polyline points="88.6,512.2 88.6,509.3 88.7,507.2 88.9,504.8 89.2,502.6 89.5,500.6 89.9,498.5 90.3,496.5 90.9,494.5 91.6,492.5 92.3,490.6 93.2,488.8 94.1,487 95.1,485.2 96.3,483.4 97.5,481.8 98.8,480.3 100.5,478.5 102.1,477.1 103.6,475.7 105.7,474.2 107.8,472.8 109.9,471.6 112,470.5 114.1,469.5 116.3,468.7 118.4,467.9 120.5,467.1 122.6,466.5 124.7,465.9 126.8,465.4 128.9,464.9 131,464.4 133.1,464 135.2,463.7 137.3,463.3 139.4,463.1 141.5,462.8 143.6,462.6 145.8,462.3 147.9,462.2 150,462 152.1,461.8 154.2,461.7 156.3,461.6 158.4,461.5 160.5,461.5 162.6,461.4 164.7,461.4 166.9,461.3 169,461.3 171.1,461.3 173.2,461.3 175.3,461.4 177.4,461.4 179.5,461.4 181.6,461.5 183.7,461.6 185.9,461.6 188,461.7 190.1,461.8 192.2,461.9 194.3,462 196.4,462.1 198.5,462.2 200.6,462.3 202.8,462.5 204.9,462.6 207,462.7 209.1,462.9 211.2,463 213.3,463.2 215.4,463.3 217.5,463.5 219.6,463.6 221.8,463.8 223.9,464 226,464.2 228.1,464.3 230.2,464.5 232.3,464.7 234.4,464.9 236.5,465.1 238.7,465.3 240.8,465.5 242.9,465.7 245,465.9 247.1,466.1 249.2,466.3 251.3,466.5 253.4,466.7 255.6,466.9 257.7,467.1 259.8,467.4 261.9,467.6 264,467.8 266.1,468 268.2,468.2 270.3,468.5 272.5,468.7 274.6,468.9 276.7,469.2 278.8,469.4 280.9,469.6 283,469.9 285.1,470.1 287.2,470.3 289.4,470.6 291.5,470.8 293.6,471 295.7,471.3 297.8,471.5 299.9,471.8 302,472 304.1,472.2 306.3,472.5 308.4,472.7 310.5,473 312.6,473.2 314.7,473.5 316.8,473.7 318.9,474 321,474.2 323.2,474.4 325.3,474.7 327.4,474.9 329.5,475.2 331.6,475.4 333.7,475.7 335.8,476 337.9,476.2 340.1,476.5 342.2,476.7 344.3,477 346.4,477.2 348.5,477.5 350.6,477.7 352.7,478 354.8,478.2 357,478.5 359.1,478.7 361.2,479 363.3,479.3 365.4,479.5 367.5,479.8 369.6,480 371.7,480.3 373.9,480.5 376,480.8 378.1,481.1 380.2,481.3 382.3,481.6 384.4,481.8 386.5,482.1 388.6,482.3 390.8,482.6 392.9,482.9 395,483.1 397.1,483.4 399.2,483.6 401.3,483.9 403.4,484.2 405.5,484.4 407.7,484.7 409.8,484.9 411.9,485.2 414,485.5 416.1,485.7 418.2,486 420.3,486.2 422.4,486.5 424.6,486.8 426.7,487 428.8,487.3 430.9,487.5 433,487.8 435.1,488.1 437.2,488.3 439.3,488.6 441.5,488.9 443.6,489.1 445.7,489.4 447.8,489.6 449.9,489.9 452,490.2 454.1,490.4 456.3,490.7 458.4,490.9 460.5,491.2 462.6,491.5 464.7,491.7 466.8,492 468.9,492.3 471,492.5 473.2,492.8 475.3,493 477.4,493.3 479.5,493.6 481.6,493.8 483.7,494.1 485.8,494.4 487.9,494.6 490.1,494.9 492.2,495.1 494.3,495.4 496.4,495.7 498.5,495.9 500.6,496.2 502.7,496.5 504.8,496.7 507,497 509.1,497.2 510.1,497.4" fill="none" stroke="#007a00" stroke-width="1.2" stroke-linejoin="round"/>
<polyline points="791.5,273.7 789.7,275.5 787.9,277.3 786.2,279.1 784.4,280.9 782.7,282.6 780.9,284.4 779.2,286.2 777.4,288 775.7,289.7 773.9,291.5 772.1,293.3 770.4,295.1 768.6,296.9 766.9,298.6 765.1,300.4 763.4,302.2 761.6,304 759.9,305.8 758.1,307.5 756.3,309.3 754.6,311.1 752.8,312.9 751.1,314.7 749.3,316.4 747.6,318.2 745.8,320 744.1,321.8 742.3,323.5 740.5,325.3 738.8,327.1 737,328.9 735.3,330.7 733.5,332.4 731.8,334.2 730,336 728.3,337.8 726.5,339.6 724.7,341.3 723,343.1 721.2,344.9 719.5,346.1 717.7,347.2 716,348.4 714.2,349.6 712.4,350.7 710.7,351.9 708.9,353.1 707.2,354.2 705.4,355.4 703.6,356.6 701.9,357.8 700.1,358.9 698.4,360.1 696.6,361.3 694.8,362.4 693.1,363.6 691.3,364.8 689.6,365.9 687.8,367.1 686,368.3 684.3,369.5 682.5,370.6 680.8,371.8 679,373 677.2,374.1 675.5,375.3 673.7,376.5 672,377.6 670.2,378.8 668.4,380 666.7,381.1 664.9,382.3 663.2,383.5 661.4,384.7 659.6,385.8 657.9,387 656.1,388.2 654.4,389.3 652.6,390.5 650.8,391.7 649.1,392.8 647.3,394 645.6,395.2 643.8,396.4 642,397.5 640.3,398.7 638.5,399.9 636.8,401 635,402.2 633.2,403.4 631.5,404.5 629.7,405.7 628,406.9 626.2,408 624.4,409.2 622.7,410.4 620.9,411.6 619.2,412.7 617.4,413.9 615.6,415.1 613.9,416.2 612.1,417.4 610.4,418.6 608.6,419.7 606.8,420.9 605.1,422.1 603.3,423.3 601.6,424.4 599.8,425.6 598,426.8 596.3,427.9 594.5,429.1 592.8,430.3 591,431.4 589.2,432.6 587.5,433.8 585.7,434.9 584,436.1 582.2,437.3 580.4,438.5 578.7,439.9 576.9,441.4 575.1,442.9 573.3,444.4 571.6,445.9 569.8,447.4 568,448.9 566.3,450.3 564.5,451.8 562.7,453.3 560.9,454.8 559.2,456.3 557.4,457.8 555.6,459.3 553.8,460.7 552.1,462.2 550.3,463.7 548.5,465.2 546.8,466.7 545,468.2 543.2,469.6 541.4,471.1 539.7,472.6 537.9,474.1 536.1,475.6 534.4,477.1 532.6,478.6 530.8,480 529,481.5 527.3,483 525.5,484.5 523.7,486 521.9,487.5 520.2,489 518.4,490.4 516.6,491.9 514.9,493.4 513.1,494.9 511.3,496.4 510.1,497.4" fill="none" stroke="#007a00" stroke-width="1.2" stroke-linejoin="round"/>
<polyline points="207.3,463.1 205,464 202.6,465 200.3,466 197.9,467 195.6,467.9 193.2,468.9 190.9,469.9 188.5,470.8 186.2,471.8 183.8,472.8 181.5,473.8 179.1,474.7 176.8,475.7 174.4,476.7 172.1,477.7 169.7,478.6 167.4,479.6 165,480.6 162.7,481.5 160.3,482.5 157.9,483.5 155.6,484.5 153.2,485.5 150.8,486.4 148.5,487.4 146.1,488.4 143.7,489.4 141.3,490.4 139,491.3 136.6,492.3 134.2,493.3 131.9,494.3 129.5,495.3 127.1,496.2 124.8,497.2 122.4,498.2 120,499.2 117.6,500.2 115.3,501.1 112.9,502.1 110.5,503.1 108.2,504.1 105.8,505.1 103.4,506 101.1,507 98.7,508 96.3,509 93.9,510 91.6,510.9 89.2,511.9 88.6,512.2" fill="none" stroke="#007a00" stroke-width="1.2" stroke-linejoin="round"/>
<polyline points="638.2,245.2 640.3,245.2 642.4,245.2 644.6,245.1 646.7,245.1 648.8,245.1 650.9,245.1 653,245.1 655.1,245.1 657.2,245.1 659.3,245.1 661.4,245.1 663.6,245.2 665.7,245.2 667.8,245.2 669.9,245.2 672,245.3 674.1,245.3 676.2,245.3 678.3,245.3 680.4,245.4 682.5,245.4 684.7,245.5 686.8,245.5 688.9,245.6 691,245.6 693.1,245.7 695.2,245.7 697.3,245.8 699.4,245.8 701.6,245.9 703.7,246 705.8,246 707.9,246.1 710,246.2 712.1,246.2 714.2,246.3 716.3,246.4 718.4,246.5 720.6,246.5 722.7,246.6 724.8,246.7 726.9,246.8 729,246.9 731.1,247 733.2,247.1 735.3,247.2 737.4,247.3 739.6,247.4 741.7,247.5 743.8,247.6 745.9,247.7 748,247.8 750.1,247.9 752.2,248 754.3,248.1 756.4,248.2 758.6,248.3 760.7,248.4 762.8,248.6 764.9,248.7 767,248.8 769.1,248.9 771.2,249 773.3,249.2 775.5,249.3 777.6,249.4 779.7,249.6 781.8,249.7 783.9,249.8 786,249.9 788.1,250.1 790.2,250.2 791.3,250.3" fill="none" stroke="#000000" stroke-width="1.2" stroke-linejoin="round"/>
<polyline points="88.6,512.2 88.6,509.2 88.7,507.1 88.9,505.1 89.1,502.7 89.4,500.6 89.8,498.6 90.2,496.4 90.8,494.5 91.4,492.4 92.1,490.5 92.8,488.6 93.7,486.7 94.6,484.9 95.7,483.1 96.8,481.4 98,479.8 99.4,478 101,476.2 102.6,474.7 104.1,473.3 105.7,472 107.8,470.4 109.9,469.1 112,467.8 114.1,466.7 116.2,465.6 118.3,464.7 120.4,463.8 122.5,463 124.6,462.3 126.8,461.6 128.9,461 131,460.4 133.1,459.9 135.2,459.4 137.3,459 139.4,458.5 141.5,458.2 143.6,457.8 145.7,457.5 147.8,457.2 149.9,456.9 152,456.7 154.2,456.5 156.3,456.3 158.4,456.1 160.5,455.9 162.6,455.8 164.7,455.6 166.8,455.5 168.9,455.4 171,455.3 173.1,455.3 175.3,455.2 177.4,455.1 179.5,455.1 181.6,455.1 183.7,455.1 185.8,455.1 187.9,455.1 190,455.1 192.1,455.1 194.3,455.2 196.4,455.2 198.5,455.2 200.6,455.3 202.7,455.4 204.8,455.4 206.9,455.5 209,455.6 211.1,455.7 213.3,455.8 215.4,455.9 217.5,456 219.6,456.1 221.7,456.2 223.8,456.3 225.9,456.5 228,456.6 230.2,456.7 232.3,456.9 234.4,457 236.5,457.2 238.6,457.3 240.7,457.5 242.8,457.6 244.9,457.8 247,458 249.2,458.1 251.3,458.3 253.4,458.5 255.5,458.6 257.6,458.8 259.7,459 261.8,459.2 263.9,459.4 266.1,459.6 268.2,459.8 270.3,460 272.4,460.2 274.5,460.4 276.6,460.6 278.7,460.8 280.8,461 283,461.2 285.1,461.4 287.2,461.6 289.3,461.8 291.4,462 293.5,462.2 295.6,462.4 297.7,462.7 299.9,462.9 302,463.1 304.1,463.3 306.2,463.5 308.3,463.8 310.4,464 312.5,464.2 314.6,464.4 316.8,464.7 318.9,464.9 321,465.1 323.1,465.4 325.2,465.6 327.3,465.8 329.4,466.1 331.5,466.3 333.7,466.5 335.8,466.8 337.9,467 340,467.3 342.1,467.5 344.2,467.7 346.3,468 348.4,468.2 350.6,468.5 352.7,468.7 354.8,468.9 356.9,469.2 359,469.4 361.1,469.7 363.2,469.9 365.3,470.2 367.5,470.4 369.6,470.7 371.7,470.9 373.8,471.2 375.9,471.4 378,471.7 380.1,471.9 382.2,472.2 384.4,472.4 386.5,472.7 388.6,472.9 390.7,473.2 392.8,473.4 394.9,473.7 397,473.9 399.1,474.2 401.3,474.4 403.4,474.7 405.5,474.9 407.6,475.2 409.7,475.4 411.8,475.7 413.9,475.9 416,476.2 418.2,476.5 420.3,476.7 422.4,477 424.5,477.2 426.6,477.5 428.7,477.7 430.8,478 432.9,478.2 435.1,478.5 437.2,478.8 439.3,479 441.4,479.3 443.5,479.5 445.6,479.8 447.7,480 449.8,480.3 452,480.6 454.1,480.8 456.2,481.1 458.3,481.3 460.4,481.6 462.5,481.9 464.6,482.1 466.7,482.4 468.9,482.6 471,482.9 473.1,483.2 475.2,483.4 477.3,483.7 479.4,483.9 481.5,484.2 483.6,484.5 485.8,484.7 487.9,485 490,485.2 492.1,485.5 494.2,485.8 496.3,486 498.4,486.3 500.5,486.5 502.7,486.8 504.8,487.1 506.9,487.3 509,487.6 510.1,487.7" fill="none" stroke="#000000" stroke-width="1.2" stroke-linejoin="round"/>
<polyline points="791.3,250.3 789.5,252.1 787.8,254 786,255.9 784.3,257.7 782.5,259.6 780.8,261.4 779,263.3 777.3,265.1 775.5,267 773.7,268.8 772,270.7 770.2,272.6 768.5,274.4 766.7,276.3 765,278.1 763.2,280 761.5,281.8 759.7,283.7 757.9,285.6 756.2,287.4 754.4,289.3 752.7,291.1 750.9,293 749.2,294.8 747.4,296.7 745.7,298.5 743.9,300.4 742.2,302.3 740.4,304.1 738.6,306 736.9,307.8 735.1,309.7 733.4,311.5 731.6,313.4 729.9,315.2 728.1,317.1 726.4,319 724.6,320.8 722.8,322.7 721.1,324.5 719.3,325.7 717.6,327 715.8,328.2 714.1,329.4 712.3,330.6 710.5,331.9 708.8,333.1 707,334.3 705.3,335.5 703.5,336.7 701.7,338 700,339.2 698.2,340.4 696.5,341.6 694.7,342.8 692.9,344.1 691.2,345.3 689.4,346.5 687.7,347.7 685.9,348.9 684.1,350.2 682.4,351.4 680.6,352.6 678.9,353.8 677.1,355.1 675.3,356.3 673.6,357.5 671.8,358.7 670.1,359.9 668.3,361.2 666.5,362.4 664.8,363.6 663,364.8 661.3,366 659.5,367.3 657.7,368.5 656,369.7 654.2,370.9 652.5,372.1 650.7,373.4 648.9,374.6 647.2,375.8 645.4,377 643.7,378.3 641.9,379.5 640.1,380.7 638.4,381.9 636.6,383.1 634.9,384.4 633.1,385.6 631.4,386.8 629.6,388 627.8,389.2 626.1,390.5 624.3,391.7 622.6,392.9 620.8,394.1 619,395.3 617.3,396.6 615.5,397.8 613.8,399 612,400.2 610.2,401.5 608.5,402.7 606.7,403.9 605,405.1 603.2,406.3 601.4,407.6 599.7,408.8 597.9,410 596.2,411.2 594.4,412.4 592.6,413.7 590.9,414.9 589.1,416.1 587.4,417.3 585.6,418.5 583.8,419.8 582.1,421 580.3,422.2 578.6,423.9 576.8,425.5 575,427.2 573.2,428.8 571.5,430.5 569.7,432.1 567.9,433.8 566.2,435.4 564.4,437.1 562.6,438.7 560.8,440.4 559.1,442 557.3,443.7 555.5,445.3 553.8,447 552,448.6 550.2,450.3 548.4,451.9 546.7,453.6 544.9,455.2 543.1,456.9 541.4,458.5 539.6,460.2 537.8,461.8 536,463.5 534.3,465.1 532.5,466.8 530.7,468.4 529,470.1 527.2,471.7 525.4,473.4 523.6,475.1 521.9,476.7 520.1,478.4 518.3,480 516.6,481.7 514.8,483.3 513,485 511.2,486.6 510.1,487.7" fill="none" stroke="#000000" stroke-width="1.2" stroke-linejoin="round"/>
<polyline points="207.3,463.1 205,464 202.6,465 200.3,466 197.9,467 195.6,467.9 193.2,468.9 190.9,469.9 188.5,470.8 186.2,471.8 183.8,472.8 181.5,473.8 179.1,474.7 176.8,475.7 174.4,476.7 172.1,477.7 169.7,478.6 167.4,479.6 165,480.6 162.7,481.5 160.3,482.5 157.9,483.5 155.6,484.5 153.2,485.5 150.8,486.4 148.5,487.4 146.1,488.4 143.7,489.4 141.3,490.4 139,491.3 136.6,492.3 134.2,493.3 131.9,494.3 129.5,495.3 127.1,496.2 124.8,497.2 122.4,498.2 120,499.2 117.6,500.2 115.3,501.1 112.9,502.1 110.5,503.1 108.2,504.1 105.8,505.1 103.4,506 101.1,507 98.7,508 96.3,509 93.9,510 91.6,510.9 89.2,511.9 88.6,512.2" fill="none" stroke="#000000" stroke-width="1.2" stroke-linejoin="round"/>
<polyline points="456.3,190.2 457.9,188.8 459.4,187.4 461,186.1 462.6,184.8 464.2,183.5 465.7,182.2 467.3,180.9 468.9,179.7 471,178 473.1,176.4 475.2,174.8 477.3,173.3 479.4,171.7 481.5,170.2 483.6,168.8 485.7,167.3 487.8,165.9 489.9,164.5 492,163.1 494.1,161.7 496.2,160.4 498.3,159.1 500.4,157.8 502.5,156.5 504.6,155.2 506.7,154 508.8,152.8 510.9,151.6 513,150.4 515.1,149.2 517.2,148 519.3,146.9 521.4,145.8 523.5,144.7 525.6,143.6 527.7,142.5 529.8,141.4 531.9,140.4 534,139.4 536.1,138.3 538.2,137.3 540.3,136.3 542.5,135.4 544.6,134.4 546.7,133.4 548.8,132.5 550.9,131.6 553,130.7 555.1,129.7 557.2,128.8 559.3,128 561.4,127.1 563.5,126.2 565.6,125.4 567.7,124.5 569.8,123.7 571.9,122.9 574,122.1 576.1,121.3 578.2,120.5 580.3,119.7 582.4,118.9 584.5,118.2 586.7,117.4 588.8,116.7 590.9,115.9 593,115.2 595.1,114.5 597.2,113.8 599.3,113.1 601.4,112.4 603.5,111.7 605.6,111 607.7,110.3 609.8,109.7 611.9,109 614,108.4 616.1,107.7 618.2,107.1 620.3,106.5 622.5,105.8 624.6,105.2 626.7,104.6 628.8,104 630.9,103.4 633,102.8 635.1,102.3 637.2,101.7 639.3,101.1 641.4,100.6 643.5,100 645.6,99.5 647.7,98.9 649.8,98.4 651.9,97.9 654.1,97.3 656.2,96.8 658.3,96.3 660.4,95.8 662.5,95.3 664.6,94.8 666.7,94.3 668.8,93.8 670.9,93.3 673,92.9 675.1,92.4 677.2,91.9 679.3,91.5 681.5,91 683.6,90.6 685.7,90.1 687.8,89.7 689.9,89.3 692,88.8 694.1,88.4 696.2,88 698.3,87.6 700.4,87.2 702.5,86.8 704.6,86.4 706.7,86 708.9,85.6 711,85.2 713.1,84.8 715.2,84.4 717.3,84 719.4,83.7 721.5,83.3 723.6,82.9 725.7,82.6 727.8,82.2 729.9,81.9 732,81.5 734.2,81.2 736.3,80.8 738.4,80.5 740.5,80.2 742.6,79.8 744.7,79.5 746.8,79.2 748.9,78.9 751,78.5 753.1,78.2 755.2,77.9 757.3,77.6 759.5,77.3 761.6,77 763.7,76.7 765.8,76.4 767.9,76.2 770,75.9 772.1,75.6 774.2,75.3 776.3,75 778.4,74.8 780.5,74.5 782.7,74.2 784.8,74 786.9,73.7 789,73.5 790,73.3" fill="none" stroke="#e00000" stroke-width="1.2" stroke-linejoin="round"/>
<polyline points="88.6,512.2 88.6,508.2 88.7,505.4 88.9,502.7 89,500.6 89.2,498.4 89.4,496 89.7,494 90,491.9 90.4,489.7 90.8,487.5 91.2,485.5 91.6,483.4 92.1,481.3 92.7,479.2 93.3,477.2 93.9,475.3 94.6,473.3 95.3,471.3 96,469.4 96.8,467.5 97.6,465.6 98.5,463.7 99.8,461.1 100.9,459.2 101.9,457.4 103,455.7 104.5,453.2 106.1,450.9 107.7,448.8 109.2,446.8 110.8,444.9 112.4,443 113.9,441.3 115.5,439.7 117.1,438.1 118.7,436.6 120.2,435.1 121.8,433.8 123.4,432.4 125,431.2 126.5,429.9 128.6,428.3 130.7,426.8 132.8,425.4 134.9,424 137,422.7 139.1,421.4 141.2,420.2 143.3,419 145.4,417.9 147.5,416.8 149.6,415.7 151.8,414.7 153.9,413.7 156,412.8 158.1,411.9 160.2,411 162.3,410.2 164.4,409.3 166.5,408.5 168.6,407.8 170.7,407 172.8,406.3 174.9,405.6 177,404.9 179.1,404.2 181.2,403.6 183.3,403 185.4,402.4 187.5,401.8 189.6,401.2 191.8,400.7 193.9,400.1 196,399.6 198.1,399.1 200.2,398.6 202.3,398.2 204.4,397.7 206.5,397.2 208.6,396.8 210.7,396.4 212.8,396 214.9,395.6 217,395.2 219.2,394.8 221.3,394.5 223.4,394.1 225.5,393.8 227.6,393.4 229.7,393.1 231.8,392.8 233.9,392.5 236,392.2 238.1,391.9 240.2,391.6 242.4,391.4 244.5,391.1 246.6,390.9 248.7,390.6 250.8,390.4 252.9,390.2 255,389.9 257.1,389.7 259.2,389.5 261.3,389.3 263.4,389.1 265.6,388.9 267.7,388.8 269.8,388.6 271.9,388.4 274,388.3 276.1,388.1 278.2,388 280.3,387.8 282.4,387.7 284.5,387.6 286.6,387.4 288.8,387.3 290.9,387.2 293,387.1 295.1,387 297.2,386.9 299.3,386.8 301.4,386.7 303.5,386.6 305.6,386.5 307.8,386.5 309.9,386.4 312,386.3 314.1,386.3 316.2,386.2 318.3,386.2 320.4,386.1 322.5,386.1 324.6,386 326.7,386 328.9,385.9 331,385.9 333.1,385.9 335.2,385.9 337.3,385.8 339.4,385.8 341.5,385.8 343.6,385.8 345.7,385.8 347.9,385.8 350,385.8 352.1,385.8 354.2,385.8 356.3,385.8 358.4,385.8 360.5,385.9 362.6,385.9 364.7,385.9 366.9,385.9 369,385.9 371.1,386 373.2,386 375.3,386 377.4,386.1 379.5,386.1 381.6,386.2 383.7,386.2 385.9,386.3 388,386.3 390.1,386.4 392.2,386.4 394.3,386.5 396.4,386.6 398.5,386.6 400.6,386.7 402.7,386.8 404.9,386.8 407,386.9 409.1,387 411.2,387 413.3,387.1 415.4,387.2 417.5,387.3 419.6,387.4 421.7,387.5 423.9,387.6 426,387.6 428.1,387.7 430.2,387.8 432.3,387.9 434.4,388 436.5,388.1 438.6,388.2 440.7,388.3 442.9,388.4 445,388.5 447.1,388.7 449.2,388.8 451.3,388.9 453.4,389 455.5,389.1 457.6,389.2 459.8,389.3 461.9,389.5 464,389.6 466.1,389.7 468.2,389.8 470.3,390 472.4,390.1 474.5,390.2 476.6,390.4 478.8,390.5 480.9,390.6 483,390.8 485.1,390.9 487.2,391 489.3,391.2 491.4,391.3 493.5,391.5 495.7,391.6 497.8,391.7 499.9,391.9 502,392 504.1,392.2 506.2,392.3 508.3,392.5 509.4,392.6" fill="none" stroke="#e00000" stroke-width="1.2" stroke-linejoin="round"/>
<polyline points="790,73.3 788.9,75 787.7,76.6 786.5,78.3 785.4,80 784.2,81.6 783,83.3 781.9,84.9 780.7,86.6 779.5,88.2 778.4,89.9 777.2,91.6 776,93.2 774.9,94.9 773.7,96.5 772.5,98.2 771.4,99.8 770.2,101.5 769,103.1 767.9,104.8 766.7,106.5 765.5,108.1 764.4,109.8 763.2,111.4 762,113.1 760.9,114.7 759.7,116.4 758.5,118.1 757.4,119.7 756.2,121.4 755,123 753.9,124.7 752.7,126.3 751.5,128 750.4,129.7 749.2,131.3 748,133 746.9,134.6 745.7,136.3 744.5,137.9 743.4,139.6 742.2,141.3 741,142.9 739.8,144.6 738.7,146.2 737.5,147.9 736.3,149.5 735.2,151.2 734,152.9 732.8,154.5 731.7,156.2 730.5,157.8 729.3,159.5 728.2,161.1 727,162.8 725.8,164.4 724.7,166.1 723.5,167.8 722.3,169.4 721.2,171.1 720,172.7 718.3,174.3 716.5,175.9 714.7,177.4 713,179 711.2,180.5 709.5,182.1 707.7,183.6 706,185.2 704.2,186.8 702.4,188.3 700.7,189.9 698.9,191.4 697.2,193 695.4,194.6 693.7,196.1 691.9,197.7 690.1,199.2 688.4,200.8 686.6,202.3 684.9,203.9 683.1,205.5 681.4,207 679.6,208.6 677.8,210.1 676.1,211.7 674.3,213.3 672.6,214.8 670.8,216.4 669.1,217.9 667.3,219.5 665.5,221 663.8,222.6 662,224.2 660.3,225.7 658.5,227.3 656.8,228.8 655,230.4 653.2,232 651.5,233.5 649.7,235.1 648,236.6 646.2,238.2 644.5,239.7 642.7,241.3 640.9,242.9 639.2,244.4 637.4,246 635.7,247.5 633.9,249.1 632.1,250.6 630.4,252.2 628.6,253.7 626.9,255.3 625.1,256.9 623.4,258.4 621.6,260 619.8,261.5 618.1,263.1 616.3,264.6 614.6,266.2 612.8,267.7 611.1,269.3 609.3,270.9 607.5,272.4 605.8,274 604,275.5 602.3,277.1 600.5,278.6 598.8,280.2 597,281.7 595.2,283.3 593.5,284.9 591.7,286.4 590,288 588.2,289.5 586.5,291.1 584.7,292.6 582.9,294.2 581.2,295.7 579.4,297.3 577.7,299.7 575.9,302.1 574.1,304.5 572.4,306.9 570.6,309.3 568.8,311.7 567.1,314.1 565.3,316.5 563.5,318.9 561.8,321.3 560,323.7 558.2,326.1 556.5,328.5 554.7,330.9 552.9,333.3 551.2,335.7 549.4,338.1 547.6,340.5 545.9,342.9 544.1,345.3 542.3,347.7 540.6,350.1 538.8,352.5 537,354.9 535.3,357.3 533.5,359.7 531.7,362.1 530,364.5 528.2,366.9 526.5,369.3 524.7,371.7 522.9,374.1 521.2,376.5 519.4,378.9 517.6,381.4 515.9,383.8 514.1,386.2 512.3,388.6 510.6,391 509.4,392.6" fill="none" stroke="#e00000" stroke-width="1.2" stroke-linejoin="round"/>
<polyline points="207.3,463.1 205,464 202.6,465 200.3,466 197.9,467 195.6,467.9 193.2,468.9 190.9,469.9 188.5,470.8 186.2,471.8 183.8,472.8 181.5,473.8 179.1,474.7 176.8,475.7 174.4,476.7 172.1,477.7 169.7,478.6 167.4,479.6 165,480.6 162.7,481.5 160.3,482.5 157.9,483.5 155.6,484.5 153.2,485.5 150.8,486.4 148.5,487.4 146.1,488.4 143.7,489.4 141.3,490.4 139,491.3 136.6,492.3 134.2,493.3 131.9,494.3 129.5,495.3 127.1,496.2 124.8,497.2 122.4,498.2 120,499.2 117.6,500.2 115.3,501.1 112.9,502.1 110.5,503.1 108.2,504.1 105.8,505.1 103.4,506 101.1,507 98.7,508 96.3,509 93.9,510 91.6,510.9 89.2,511.9 88.6,512.2" fill="none" stroke="#e00000" stroke-width="1.2" stroke-linejoin="round"/>
<g opacity="0.06">
<line x1="74.1" y1="460.8" x2="370.3" y2="338.3" stroke="#000" stroke-width="1.1"/>
<line x1="370.3" y1="338.3" x2="813.4" y2="393.5" stroke="#000" stroke-width="1.1"/>
<line x1="73.7" y1="403.6" x2="369.9" y2="281.1" stroke="#000" stroke-width="1.1"/>
<line x1="369.9" y1="281.1" x2="813" y2="336.3" stroke="#000" stroke-width="1.1"/>
<line x1="73.3" y1="346.4" x2="369.5" y2="223.9" stroke="#000" stroke-width="1.1"/>
<line x1="369.5" y1="223.9" x2="812.6" y2="279.1" stroke="#000" stroke-width="1.1"/>
<line x1="72.9" y1="289.2" x2="369.1" y2="166.7" stroke="#000" stroke-width="1.1"/>
<line x1="369.1" y1="166.7" x2="812.2" y2="221.9" stroke="#000" stroke-width="1.1"/>
<line x1="72.5" y1="232" x2="368.7" y2="109.5" stroke="#000" stroke-width="1.1"/>
<line x1="368.7" y1="109.5" x2="811.8" y2="164.7" stroke="#000" stroke-width="1.1"/>
<line x1="72.1" y1="174.8" x2="368.3" y2="52.3" stroke="#000" stroke-width="1.1"/>
<line x1="368.3" y1="52.3" x2="811.4" y2="107.5" stroke="#000" stroke-width="1.1"/>
<line x1="300.2" y1="424.7" x2="297.4" y2="31.2" stroke="#000" stroke-width="1.1"/>
<line x1="229.7" y1="453.8" x2="226.9" y2="60.3" stroke="#000" stroke-width="1.1"/>
<line x1="159.1" y1="483" x2="156.3" y2="89.5" stroke="#000" stroke-width="1.1"/>
<line x1="88.6" y1="512.2" x2="85.8" y2="118.7" stroke="#000" stroke-width="1.1"/>
<line x1="476.2" y1="408.6" x2="473.4" y2="15.1" stroke="#000" stroke-width="1.1"/>
<line x1="581.7" y1="421.8" x2="578.9" y2="28.3" stroke="#000" stroke-width="1.1"/>
<line x1="687.2" y1="434.9" x2="684.4" y2="41.4" stroke="#000" stroke-width="1.1"/>
<line x1="792.7" y1="448.1" x2="789.9" y2="54.6" stroke="#000" stroke-width="1.1"/>
</g>
<line x1="74.5" y1="518" x2="71.7" y2="124.5" stroke="#000" stroke-width="3.6"/>
<line x1="71.7" y1="124.5" x2="367.9" y2="2" stroke="#000" stroke-width="3.2"/>
<line x1="367.9" y1="2" x2="811" y2="57.2" stroke="#000" stroke-width="3.2"/>
<line x1="813.8" y1="450.7" x2="811" y2="57.2" stroke="#000" stroke-width="3.4"/>
<line x1="74.5" y1="518" x2="517.6" y2="573.2" stroke="#000" stroke-width="3.6"/>
<line x1="517.6" y1="573.2" x2="813.8" y2="450.7" stroke="#000" stroke-width="3.6"/>
<line x1="74.5" y1="518" x2="74.5" y2="508" stroke="#000" stroke-width="2.4"/>
<line x1="100.9" y1="521.3" x2="100.9" y2="516.3" stroke="#000" stroke-width="1.4"/>
<line x1="127.2" y1="524.6" x2="127.2" y2="519.6" stroke="#000" stroke-width="1.4"/>
<line x1="153.6" y1="527.9" x2="153.6" y2="522.9" stroke="#000" stroke-width="1.4"/>
<line x1="180" y1="531.1" x2="180" y2="521.1" stroke="#000" stroke-width="2.4"/>
<line x1="206.4" y1="534.4" x2="206.4" y2="529.4" stroke="#000" stroke-width="1.4"/>
<line x1="232.8" y1="537.7" x2="232.8" y2="532.7" stroke="#000" stroke-width="1.4"/>
<line x1="259.1" y1="541" x2="259.1" y2="536" stroke="#000" stroke-width="1.4"/>
<line x1="285.5" y1="544.3" x2="285.5" y2="534.3" stroke="#000" stroke-width="2.4"/>
<line x1="311.9" y1="547.6" x2="311.9" y2="542.6" stroke="#000" stroke-width="1.4"/>
<line x1="338.3" y1="550.9" x2="338.3" y2="545.9" stroke="#000" stroke-width="1.4"/>
<line x1="364.6" y1="554.1" x2="364.6" y2="549.1" stroke="#000" stroke-width="1.4"/>
<line x1="391" y1="557.4" x2="391" y2="547.4" stroke="#000" stroke-width="2.4"/>
<line x1="417.4" y1="560.7" x2="417.4" y2="555.7" stroke="#000" stroke-width="1.4"/>
<line x1="443.8" y1="564" x2="443.8" y2="559" stroke="#000" stroke-width="1.4"/>
<line x1="470.1" y1="567.3" x2="470.1" y2="562.3" stroke="#000" stroke-width="1.4"/>
<line x1="496.5" y1="570.6" x2="496.5" y2="560.6" stroke="#000" stroke-width="2.4"/>
<line x1="813.8" y1="450.7" x2="805.9" y2="449.7" stroke="#000" stroke-width="1.6"/>
<line x1="778.5" y1="465.3" x2="774.6" y2="464.8" stroke="#000" stroke-width="1.6"/>
<line x1="743.3" y1="479.9" x2="735.3" y2="478.9" stroke="#000" stroke-width="1.6"/>
<line x1="708" y1="494.5" x2="704" y2="494" stroke="#000" stroke-width="1.6"/>
<line x1="672.8" y1="509" x2="664.8" y2="508" stroke="#000" stroke-width="1.6"/>
<line x1="637.5" y1="523.6" x2="633.5" y2="523.1" stroke="#000" stroke-width="1.6"/>
<line x1="602.2" y1="538.2" x2="594.3" y2="537.2" stroke="#000" stroke-width="1.6"/>
<line x1="567" y1="552.8" x2="563" y2="552.3" stroke="#000" stroke-width="1.6"/>
<line x1="531.7" y1="567.4" x2="523.8" y2="566.4" stroke="#000" stroke-width="1.6"/>
<line x1="74.5" y1="518" x2="81.9" y2="514.9" stroke="#000" stroke-width="1.4"/>
<line x1="74.4" y1="506.6" x2="78.1" y2="505" stroke="#000" stroke-width="1.4"/>
<line x1="74.3" y1="495.1" x2="78" y2="493.6" stroke="#000" stroke-width="1.4"/>
<line x1="74.3" y1="483.7" x2="78" y2="482.2" stroke="#000" stroke-width="1.4"/>
<line x1="74.2" y1="472.2" x2="77.9" y2="470.7" stroke="#000" stroke-width="1.4"/>
<line x1="74.1" y1="460.8" x2="81.5" y2="457.7" stroke="#000" stroke-width="1.4"/>
<line x1="74" y1="449.4" x2="77.7" y2="447.8" stroke="#000" stroke-width="1.4"/>
<line x1="73.9" y1="437.9" x2="77.6" y2="436.4" stroke="#000" stroke-width="1.4"/>
<line x1="73.8" y1="426.5" x2="77.5" y2="425" stroke="#000" stroke-width="1.4"/>
<line x1="73.8" y1="415" x2="77.5" y2="413.5" stroke="#000" stroke-width="1.4"/>
<line x1="73.7" y1="403.6" x2="81.1" y2="400.6" stroke="#000" stroke-width="1.4"/>
<line x1="73.6" y1="392.2" x2="77.3" y2="390.6" stroke="#000" stroke-width="1.4"/>
<line x1="73.5" y1="380.7" x2="77.2" y2="379.2" stroke="#000" stroke-width="1.4"/>
<line x1="73.4" y1="369.3" x2="77.1" y2="367.8" stroke="#000" stroke-width="1.4"/>
<line x1="73.4" y1="357.9" x2="77.1" y2="356.3" stroke="#000" stroke-width="1.4"/>
<line x1="73.3" y1="346.4" x2="80.7" y2="343.4" stroke="#000" stroke-width="1.4"/>
<line x1="73.2" y1="335" x2="76.9" y2="333.4" stroke="#000" stroke-width="1.4"/>
<line x1="73.1" y1="323.5" x2="76.8" y2="322" stroke="#000" stroke-width="1.4"/>
<line x1="73" y1="312.1" x2="76.7" y2="310.6" stroke="#000" stroke-width="1.4"/>
<line x1="73" y1="300.7" x2="76.6" y2="299.1" stroke="#000" stroke-width="1.4"/>
<line x1="72.9" y1="289.2" x2="80.3" y2="286.2" stroke="#000" stroke-width="1.4"/>
<line x1="72.8" y1="277.8" x2="76.5" y2="276.3" stroke="#000" stroke-width="1.4"/>
<line x1="72.7" y1="266.3" x2="76.4" y2="264.8" stroke="#000" stroke-width="1.4"/>
<line x1="72.6" y1="254.9" x2="76.3" y2="253.4" stroke="#000" stroke-width="1.4"/>
<line x1="72.5" y1="243.5" x2="76.2" y2="241.9" stroke="#000" stroke-width="1.4"/>
<line x1="72.5" y1="232" x2="79.9" y2="229" stroke="#000" stroke-width="1.4"/>
<line x1="72.4" y1="220.6" x2="76.1" y2="219.1" stroke="#000" stroke-width="1.4"/>
<line x1="72.3" y1="209.1" x2="76" y2="207.6" stroke="#000" stroke-width="1.4"/>
<line x1="72.2" y1="197.7" x2="75.9" y2="196.2" stroke="#000" stroke-width="1.4"/>
<line x1="72.1" y1="186.3" x2="75.8" y2="184.7" stroke="#000" stroke-width="1.4"/>
<line x1="72.1" y1="174.8" x2="79.5" y2="171.8" stroke="#000" stroke-width="1.4"/>
<line x1="72" y1="163.4" x2="75.7" y2="161.9" stroke="#000" stroke-width="1.4"/>
<line x1="71.9" y1="152" x2="75.6" y2="150.4" stroke="#000" stroke-width="1.4"/>
<line x1="71.8" y1="140.5" x2="75.5" y2="139" stroke="#000" stroke-width="1.4"/>
<line x1="71.7" y1="129.1" x2="75.4" y2="127.5" stroke="#000" stroke-width="1.4"/>
<text x="75" y="543.2" font-size="25" text-anchor="middle" font-family="'Liberation Sans',Arial,sans-serif" font-weight="bold">0</text>
<text x="180.5" y="556.3" font-size="25" text-anchor="middle" font-family="'Liberation Sans',Arial,sans-serif" font-weight="bold">200</text>
<text x="286" y="569.5" font-size="25" text-anchor="middle" font-family="'Liberation Sans',Arial,sans-serif" font-weight="bold">400</text>
<text x="391.5" y="582.6" font-size="25" text-anchor="middle" font-family="'Liberation Sans',Arial,sans-serif" font-weight="bold">600</text>
<text x="497" y="595.8" font-size="25" text-anchor="middle" font-family="'Liberation Sans',Arial,sans-serif" font-weight="bold">800</text>
<text x="821.1" y="468.8" font-size="25" text-anchor="start" font-family="'Liberation Serif','Times New Roman',serif" font-weight="bold">0</text>
<text x="750.6" y="498" font-size="25" text-anchor="start" font-family="'Liberation Serif','Times New Roman',serif" font-weight="bold">0.2</text>
<text x="680.1" y="527.1" font-size="25" text-anchor="start" font-family="'Liberation Serif','Times New Roman',serif" font-weight="bold">0.4</text>
<text x="609.5" y="556.3" font-size="25" text-anchor="start" font-family="'Liberation Serif','Times New Roman',serif" font-weight="bold">0.6</text>
<text x="539" y="585.5" font-size="25" text-anchor="start" font-family="'Liberation Serif','Times New Roman',serif" font-weight="bold">0.8</text>
<text x="69" y="529.5" font-size="25" text-anchor="end" font-family="'Liberation Serif','Times New Roman',serif" font-weight="bold">0</text>
<text x="69" y="472.3" font-size="25" text-anchor="end" font-family="'Liberation Serif','Times New Roman',serif" font-weight="bold">0.05</text>
<text x="69" y="415.1" font-size="25" text-anchor="end" font-family="'Liberation Serif','Times New Roman',serif" font-weight="bold">0.1</text>
<text x="69" y="357.9" font-size="25" text-anchor="end" font-family="'Liberation Serif','Times New Roman',serif" font-weight="bold">0.15</text>
<text x="69" y="300.7" font-size="25" text-anchor="end" font-family="'Liberation Serif','Times New Roman',serif" font-weight="bold">0.2</text>
<text x="69" y="243.5" font-size="25" text-anchor="end" font-family="'Liberation Serif','Times New Roman',serif" font-weight="bold">0.25</text>
<text x="69" y="186.3" font-size="25" text-anchor="end" font-family="'Liberation Serif','Times New Roman',serif" font-weight="bold">0.3</text>
<text x="246.3" y="589.5" font-size="28.3" text-anchor="middle" font-family="'Liberation Serif','Times New Roman',serif" font-weight="bold">Time/s</text>
<text x="0" y="0" font-size="25" text-anchor="middle" font-family="'Liberation Serif','Times New Roman',serif" font-weight="bold" transform="translate(18,315) rotate(-90)">Imbibition height/m</text>
<text x="0" y="0" font-size="28" text-anchor="middle" font-family="'Liberation Serif','Times New Roman',serif" font-weight="bold" transform="translate(713,547) rotate(-22.3)">Saturation</text>
<text x="172.5" y="132.5" font-size="32" text-anchor="middle" font-family="'Liberation Serif','Times New Roman',serif" font-weight="bold">(a)</text>
<text x="566" y="197" font-size="24" font-family="'Liberation Serif','Times New Roman',serif" font-weight="bold">Fries-Dreye</text>
<text x="598.5" y="326" font-size="24" font-family="'Liberation Serif','Times New Roman',serif" font-weight="bold">Eq.(18)</text>
<text x="592" y="439" font-size="24" font-family="'Liberation Serif','Times New Roman',serif" font-weight="bold">Sim.Pre.</text>
<line x1="630.8" y1="177.5" x2="724.3" y2="100.7" stroke="#000" stroke-width="3"/><polyline points="718.4,114 724.3,100.7 710.1,103.9" fill="none" stroke="#000" stroke-width="3"/>
<line x1="678.8" y1="314.2" x2="772.3" y2="264.8" stroke="#000" stroke-width="3"/><polyline points="763.8,276.6 772.3,264.8 757.8,265.1" fill="none" stroke="#000" stroke-width="3"/>
<line x1="688.4" y1="426.9" x2="734" y2="335.8" stroke="#000" stroke-width="3"/><polyline points="734,350.3 734,335.8 722.4,344.5" fill="none" stroke="#000" stroke-width="3"/>
<defs><linearGradient id="cbg" x1="0" x2="1" y1="0" y2="0"><stop offset="0" stop-color="#0000ff"/><stop offset="0.2303" stop-color="#00ffff"/><stop offset="0.4909" stop-color="#00ff00"/><stop offset="0.7303" stop-color="#ffff00"/><stop offset="1" stop-color="#ff0000"/></linearGradient></defs>
<rect x="200.2" y="601.2" width="571.6" height="28.4" fill="url(#cbg)" stroke="#000" stroke-width="1"/>
<line x1="226.2" y1="601.2" x2="226.2" y2="629.6" stroke="#000" stroke-width="1.0"/>
<text x="226.2" y="652.5" font-size="18" text-anchor="middle" font-family="'Liberation Sans',Arial,sans-serif" font-weight="bold">0.02</text>
<line x1="278.1" y1="601.2" x2="278.1" y2="629.6" stroke="#000" stroke-width="1.0"/>
<text x="278.1" y="652.5" font-size="18" text-anchor="middle" font-family="'Liberation Sans',Arial,sans-serif" font-weight="bold">0.05</text>
<line x1="330.1" y1="601.2" x2="330.1" y2="629.6" stroke="#000" stroke-width="1.0"/>
<text x="330.1" y="652.5" font-size="18" text-anchor="middle" font-family="'Liberation Sans',Arial,sans-serif" font-weight="bold">0.08</text>
<line x1="382.1" y1="601.2" x2="382.1" y2="629.6" stroke="#000" stroke-width="1.0"/>
<text x="382.1" y="652.5" font-size="18" text-anchor="middle" font-family="'Liberation Sans',Arial,sans-serif" font-weight="bold">0.11</text>
<line x1="434" y1="601.2" x2="434" y2="629.6" stroke="#000" stroke-width="1.0"/>
<text x="434" y="652.5" font-size="18" text-anchor="middle" font-family="'Liberation Sans',Arial,sans-serif" font-weight="bold">0.14</text>
<line x1="486" y1="601.2" x2="486" y2="629.6" stroke="#000" stroke-width="1.0"/>
<text x="486" y="652.5" font-size="18" text-anchor="middle" font-family="'Liberation Sans',Arial,sans-serif" font-weight="bold">0.17</text>
<line x1="538" y1="601.2" x2="538" y2="629.6" stroke="#000" stroke-width="1.0"/>
<text x="538" y="652.5" font-size="18" text-anchor="middle" font-family="'Liberation Sans',Arial,sans-serif" font-weight="bold">0.2</text>
<line x1="589.9" y1="601.2" x2="589.9" y2="629.6" stroke="#000" stroke-width="1.0"/>
<text x="589.9" y="652.5" font-size="18" text-anchor="middle" font-family="'Liberation Sans',Arial,sans-serif" font-weight="bold">0.23</text>
<line x1="641.9" y1="601.2" x2="641.9" y2="629.6" stroke="#000" stroke-width="1.0"/>
<text x="641.9" y="652.5" font-size="18" text-anchor="middle" font-family="'Liberation Sans',Arial,sans-serif" font-weight="bold">0.26</text>
<line x1="693.9" y1="601.2" x2="693.9" y2="629.6" stroke="#000" stroke-width="1.0"/>
<text x="693.9" y="652.5" font-size="18" text-anchor="middle" font-family="'Liberation Sans',Arial,sans-serif" font-weight="bold">0.29</text>
<line x1="745.8" y1="601.2" x2="745.8" y2="629.6" stroke="#000" stroke-width="1.0"/>
<text x="745.8" y="652.5" font-size="18" text-anchor="middle" font-family="'Liberation Sans',Arial,sans-serif" font-weight="bold">0.32</text>
<clipPath id="cb"><rect x="1076.3" y="32.7" width="675.9000000000001" height="544.3"/></clipPath>
<rect x="1103.5" y="71.5" width="41" height="449.3" fill="#f7f7f7" stroke="#fcd6d6" stroke-width="1"/>
<g clip-path="url(#cb)">
<polyline points="1114.1,545.1 1114.9,74.7 1115.6,206 1116.4,264.4 1117.1,287.3 1117.9,335.2 1118.6,353.1 1119.4,356.9 1120.1,381 1120.9,388.5 1121.6,397.7 1122.4,397.7 1123.1,415.2 1123.9,409 1124.6,422.7 1125.4,427.7 1126.1,426.9 1126.9,426.9 1127.6,444.8 1128.4,440.6 1129.1,436 1129.9,437.5 1133.4,448.5 1137.4,450.4 1140.2,463.3 1143.6,466.2 1148.1,476.7 1152.7,478.4 1154.9,488.8 1157.4,483.4 1159.5,491.7 1162.7,488.9 1164.6,498.3 1167.9,495.6 1171.7,499.6 1174.4,498.1 1178.3,503.1 1182,501.6 1183.9,503.7 1187.5,502.6 1190.2,506.3 1193.3,506 1196,509.3 1200,508.3 1203.2,510.4 1205.5,509.1 1209,514.3 1213.2,512.4 1216,515 1218.6,513.8 1221.6,517.1 1226.3,514.9 1231.1,518.4 1235,516.3 1239.6,519.5 1244,518.2 1247,520.5 1249.2,519.3 1253,521.8 1256.6,518.9 1259.5,522.7 1262.1,520.6 1265.2,523.1 1268.5,520.9 1271.2,524.2 1273.9,522.4 1277.2,524.2 1281.6,523.3 1285.3,524.9 1288,523.1 1290.7,525.7 1294,524 1296.4,526.6 1298.9,525.5 1302.4,527.1 1304.5,525.6 1307.8,527.3 1310.8,526.5 1314.8,528.4 1318.9,526.3 1322.9,529 1326.8,527.5 1329.8,528.6 1333.7,528.2 1336.6,530.1 1340.2,528.2 1343,530 1346.3,528.7 1348.3,531 1350.9,529.3 1355.7,531.4 1358.3,529.9 1362.2,531 1366.1,530.6 1370.1,531.9 1373.4,530 1377.1,531.5 1379.2,530.9 1381.3,532 1383.7,531 1386.1,532.5 1388.2,531 1390.5,533 1394.1,531.3 1396.5,533.4 1401.2,531.7 1405.2,533.2 1408.7,532.5 1412.7,533.6 1415.3,532.8 1420,533.8 1424.4,533.5 1428.4,534.4 1431.8,533.3 1436.2,534.4 1440.3,534.2 1444.1,535.3 1448.8,534.1 1452.5,535.6 1455.5,535 1459.1,535.6 1461.5,535 1464,535.8 1468,535.2 1472.3,536.3 1477.1,535.6 1481.5,536.7 1485,535.6 1487.2,536.7 1490.5,535.9 1495.2,536.8 1499.4,536.6 1502.7,537 1506,536.4 1508.5,537.5 1510.9,536.8 1513,537.9 1517.6,536.9 1521.4,538.1 1523.7,537.3 1526.8,538.3 1528.8,537.7 1531.3,538.1 1535.4,537.6 1539.2,538.3 1542.6,537.7 1545.3,538.3 1549.1,538.2 1553.8,538.7 1557,538.2 1559.1,538.8 1561.2,538.3 1563.3,538.9 1568.1,538.3 1571.6,539.2 1575.9,538.6 1578.3,539.2 1581,538.9 1584.9,539.4 1589.5,539.1 1592.4,539.7 1594.5,539.2 1599,539.7 1601.7,539.2 1605.8,539.7 1608.2,539.2 1612.1,539.7 1616.5,539.4 1620.6,539.8 1623.5,539.5 1627.6,539.9 1629.9,539.5 1632.7,540 1635.9,539.7 1640.4,540 1642.7,539.6 1647.2,540.4 1651.5,539.8 1656.3,540.2 1659.3,540.1 1661.8,540.5 1664.4,539.9 1668.7,540.7 1673.5,540 1677.5,540.6 1680.8,540.1 1683.6,540.6 1687.9,540.1 1692.4,540.8 1694.6,540.3 1697.1,540.9 1701.5,540.4 1705.9,540.9 1708.7,540.3 1711.4,540.7 1714.6,540.6 1714.7,541.1" fill="none" stroke="#4b4b4b" stroke-width="1.8" stroke-linejoin="round" />
<polyline points="1114.1,545.1 1114.9,181 1115.6,284.4 1116.4,314.4 1117.1,356 1117.9,396.5 1118.6,400.6 1119.4,400.6 1120.1,409.8 1120.9,422.7 1121.6,424 1122.4,424 1123.1,440.6 1123.9,441.5 1124.6,444.8 1125.4,454.8 1126.1,453.1 1126.9,463.1 1127.6,453.1 1128.4,453.1 1129.1,470.6 1129.9,457.6 1132.1,468.3 1134.6,469.4 1138.6,481.8 1142.1,485.7 1145.6,494.5 1148.9,491.9 1150.8,500.2 1153.8,499 1158.7,506.9 1163.1,505.4 1166.7,509.5 1169.1,507.1 1173.8,513.2 1176.9,510.7 1180.6,515.7 1183.1,514.7 1186,518.1 1188.9,515.5 1192,519.1 1193.9,517.1 1197.8,521.1 1200.2,519.9 1203.9,521.6 1207.6,521.5 1211.6,523.3 1214.3,523.2 1217.1,524.4 1221.2,524.2 1224.3,526 1226.6,525.8 1231.2,527.7 1233.1,526.5 1237.6,528.2 1240.4,526.9 1243.4,529.2 1248.2,527.8 1251.4,529.4 1255.5,529.4 1258.6,530.6 1263.2,529.4 1267.2,531.3 1270.6,530.6 1272.7,531.4 1275.7,531 1279,531.9 1281.7,531.2 1285.2,533.1 1287.7,531.2 1291.1,533.5 1294.5,531.7 1298.4,533.3 1302.6,532.1 1306.6,533.5 1309.8,532.9 1313,534.4 1317.5,533.3 1320.5,534.8 1324.6,533.2 1329.4,535 1334.1,534.1 1337.6,535.2 1340.4,534.2 1344.2,535.1 1348.1,534.5 1351.6,535.7 1354.5,535.2 1357.7,536.2 1359.8,535.5 1362.6,536.1 1364.9,535.9 1368.8,536.6 1373.5,536 1375.9,537.1 1377.8,536.7 1381.9,537.6 1384.9,536.9 1388.3,537.9 1390.3,537.2 1392.8,537.6 1396.7,537.2 1400.4,538 1404.9,537.6 1409.6,538.7 1412.6,537.7 1416.3,538.8 1419.5,538.4 1422.9,538.8 1426,538.5 1430.8,539 1434.6,538.5 1436.9,539.4 1440.8,538.8 1445.6,539.3 1450.2,538.9 1453.7,539.6 1455.6,539.2 1459.9,539.8 1464.6,539.2 1468.7,539.9 1471.9,539.3 1474.9,539.9 1479,539.6 1481.2,540.3 1485.4,539.6 1488.8,540.3 1490.9,539.7 1495.2,540.5 1498.3,540.1 1500.5,540.5 1502.9,539.9 1507.3,540.7 1509.7,540.1 1514,540.6 1518.3,540.3 1520.4,540.7 1523.6,540.5 1527.8,541.1 1531.2,540.7 1535.7,541.2 1538.7,540.8 1542.4,541.1 1545,540.9 1549.4,541.2 1553.8,541 1557.3,541.5 1560.2,541 1563.1,541.5 1566.8,541.1 1569,541.5 1572.4,541 1575.2,541.5 1578.1,541.3 1581,541.5 1585.3,541.3 1587.7,541.7 1590.3,541.3 1592.7,541.5 1594.6,541.5 1597.8,541.7 1602.2,541.4 1606.8,541.9 1610.1,541.4 1613.3,541.7 1617.7,541.4 1621.2,542 1624.7,541.4 1628.6,541.9 1630.7,541.5 1635.1,541.9 1637.3,541.7 1640.7,541.9 1645.4,541.6 1648.9,542 1651.8,541.6 1655.9,542 1660.5,541.8 1664.2,541.9 1666.2,541.8 1670.8,542.1 1672.7,541.9 1676.6,542 1681.2,541.7 1683.5,542.1 1687,541.7 1691,542.2 1693.4,541.8 1696,542.2 1698.1,541.9 1700.4,542.1 1702.7,541.9 1705.4,542.2 1709.6,541.8 1713.5,542.2 1714.7,541.9" fill="none" stroke="#ea2a2a" stroke-width="1.8" stroke-linejoin="round" />
<polyline points="1114.1,545.1 1114.9,291.4 1115.6,303.9 1116.4,388.5 1117.1,407.3 1117.9,401.9 1118.6,437.3 1119.4,437.3 1120.1,445.6 1120.9,467.3 1121.6,449.8 1122.4,449.8 1123.1,473.5 1123.9,473.5 1124.6,466.5 1125.4,468.5 1126.1,473.5 1126.9,477.7 1127.6,479.8 1128.4,486.5 1129.1,482.3 1129.9,479.1 1132.3,487.5 1134.3,486.4 1138.2,498.5 1141.3,499.8 1146,508.3 1147.9,508.2 1152.3,515 1154.2,513 1156.6,515.7 1158.5,514.2 1161.9,519.6 1164.9,519 1167.7,522.1 1172.5,521 1176.1,524.8 1180.8,523.7 1185.3,526.8 1188.2,525.9 1192.1,528.3 1194.5,527.8 1197.5,530.3 1201.4,528.9 1205,530.7 1207.2,530.1 1209.3,532.2 1213.5,531 1217.4,532.8 1221.3,532.2 1223.8,533.9 1228,533.2 1231.6,535.2 1234,534.2 1236.3,535.1 1240.1,534.6 1244.9,536 1248.5,535.6 1251.3,536.6 1255.3,536.3 1257.8,537.3 1261.6,536.5 1264.7,537.6 1266.7,537.2 1270.1,538 1273.5,537.7 1278.2,538.5 1282.2,537.9 1285,538.8 1288.8,538.4 1291.4,538.8 1295.2,538.8 1298.9,539 1302.6,538.9 1305,539.3 1309,538.9 1312.5,539.5 1316.6,539.4 1318.6,539.6 1322.7,539.4 1327.4,539.9 1331.1,539.6 1333.4,540 1338,539.8 1341.6,540.2 1344.3,540 1348,540.5 1352.5,540.2 1354.7,540.5 1358.2,540.6 1362,540.8 1366.7,540.8 1368.7,541 1372.1,541 1376.1,541.4 1380,541.3 1384.5,541.5 1388.3,541.5 1392.1,541.8 1395.8,541.8 1398.2,542 1402.6,541.9 1406,542.1 1408,542.1 1412.3,542.2 1416.3,542.2 1420.1,542.4 1422.1,542.3 1426.1,542.5 1429,542.4 1433.4,542.6 1435.7,542.6 1438.6,542.7 1440.8,542.6 1442.7,542.7 1445.6,542.6 1449.5,542.8 1452.7,542.8 1455.4,542.9 1460.1,542.8 1464.2,543 1469,543 1471.8,543.1 1474.2,543 1479,543.2 1481.1,543 1485.4,543.2 1490.1,543.1 1494.1,543.3 1497.7,543.2 1500.7,543.3 1503.5,543.2 1505.6,543.3 1508.6,543.2 1512,543.3 1514.6,543.3 1519.4,543.4 1524.2,543.3 1527,543.4 1530.7,543.3 1535.2,543.4 1538.8,543.4 1541.8,543.4 1546.2,543.4 1549.6,543.5 1553.4,543.4 1557.5,543.5 1560.3,543.5 1564.2,543.6 1566.9,543.5 1570.7,543.6 1573.4,543.5 1577.6,543.6 1580.6,543.5 1585.3,543.6 1587.7,543.5 1591.7,543.6 1596.2,543.5 1600.7,543.7 1604.1,543.6 1607.7,543.7 1610.4,543.6 1614.9,543.7 1619,543.6 1622.4,543.7 1625.8,543.7 1630.5,543.7 1634,543.7 1636.2,543.8 1638.4,543.7 1642.6,543.8 1646,543.7 1649.6,543.8 1652.8,543.7 1654.7,543.8 1659,543.7 1662,543.8 1665.3,543.7 1668.5,543.8 1670.8,543.8 1675.5,543.8 1680.3,543.8 1682.2,543.8 1684.2,543.8 1687.3,543.8 1692.1,543.8 1695.4,543.9 1700.1,543.8 1703,543.9 1706.3,543.8 1710.7,543.9 1714.6,543.9 1714.7,543.9" fill="none" stroke="#1a6edc" stroke-width="1.8" stroke-linejoin="round" />
</g>
<rect x="1076.3" y="32.7" width="675.9" height="544.3" fill="none" stroke="#000" stroke-width="2"/>
<line x1="1114.1" y1="577" x2="1114.1" y2="567" stroke="#000" stroke-width="2"/>
<line x1="1114.1" y1="32.7" x2="1114.1" y2="42.7" stroke="#000" stroke-width="2"/>
<line x1="1189.2" y1="577" x2="1189.2" y2="567" stroke="#000" stroke-width="2"/>
<line x1="1189.2" y1="32.7" x2="1189.2" y2="42.7" stroke="#000" stroke-width="2"/>
<line x1="1264.3" y1="577" x2="1264.3" y2="567" stroke="#000" stroke-width="2"/>
<line x1="1264.3" y1="32.7" x2="1264.3" y2="42.7" stroke="#000" stroke-width="2"/>
<line x1="1339.3" y1="577" x2="1339.3" y2="567" stroke="#000" stroke-width="2"/>
<line x1="1339.3" y1="32.7" x2="1339.3" y2="42.7" stroke="#000" stroke-width="2"/>
<line x1="1414.4" y1="577" x2="1414.4" y2="567" stroke="#000" stroke-width="2"/>
<line x1="1414.4" y1="32.7" x2="1414.4" y2="42.7" stroke="#000" stroke-width="2"/>
<line x1="1489.5" y1="577" x2="1489.5" y2="567" stroke="#000" stroke-width="2"/>
<line x1="1489.5" y1="32.7" x2="1489.5" y2="42.7" stroke="#000" stroke-width="2"/>
<line x1="1564.6" y1="577" x2="1564.6" y2="567" stroke="#000" stroke-width="2"/>
<line x1="1564.6" y1="32.7" x2="1564.6" y2="42.7" stroke="#000" stroke-width="2"/>
<line x1="1639.7" y1="577" x2="1639.7" y2="567" stroke="#000" stroke-width="2"/>
<line x1="1639.7" y1="32.7" x2="1639.7" y2="42.7" stroke="#000" stroke-width="2"/>
<line x1="1714.7" y1="577" x2="1714.7" y2="567" stroke="#000" stroke-width="2"/>
<line x1="1714.7" y1="32.7" x2="1714.7" y2="42.7" stroke="#000" stroke-width="2"/>
<line x1="1151.6" y1="577" x2="1151.6" y2="572" stroke="#000" stroke-width="2"/>
<line x1="1151.6" y1="32.7" x2="1151.6" y2="37.7" stroke="#000" stroke-width="2"/>
<line x1="1226.7" y1="577" x2="1226.7" y2="572" stroke="#000" stroke-width="2"/>
<line x1="1226.7" y1="32.7" x2="1226.7" y2="37.7" stroke="#000" stroke-width="2"/>
<line x1="1301.8" y1="577" x2="1301.8" y2="572" stroke="#000" stroke-width="2"/>
<line x1="1301.8" y1="32.7" x2="1301.8" y2="37.7" stroke="#000" stroke-width="2"/>
<line x1="1376.9" y1="577" x2="1376.9" y2="572" stroke="#000" stroke-width="2"/>
<line x1="1376.9" y1="32.7" x2="1376.9" y2="37.7" stroke="#000" stroke-width="2"/>
<line x1="1452" y1="577" x2="1452" y2="572" stroke="#000" stroke-width="2"/>
<line x1="1452" y1="32.7" x2="1452" y2="37.7" stroke="#000" stroke-width="2"/>
<line x1="1527" y1="577" x2="1527" y2="572" stroke="#000" stroke-width="2"/>
<line x1="1527" y1="32.7" x2="1527" y2="37.7" stroke="#000" stroke-width="2"/>
<line x1="1602.1" y1="577" x2="1602.1" y2="572" stroke="#000" stroke-width="2"/>
<line x1="1602.1" y1="32.7" x2="1602.1" y2="37.7" stroke="#000" stroke-width="2"/>
<line x1="1677.2" y1="577" x2="1677.2" y2="572" stroke="#000" stroke-width="2"/>
<line x1="1677.2" y1="32.7" x2="1677.2" y2="37.7" stroke="#000" stroke-width="2"/>
<line x1="1076.3" y1="545.1" x2="1086.8" y2="545.1" stroke="#000" stroke-width="2"/>
<line x1="1752.2" y1="545.1" x2="1741.7" y2="545.1" stroke="#000" stroke-width="2"/>
<line x1="1076.3" y1="481.1" x2="1086.8" y2="481.1" stroke="#000" stroke-width="2"/>
<line x1="1752.2" y1="481.1" x2="1741.7" y2="481.1" stroke="#000" stroke-width="2"/>
<line x1="1076.3" y1="417.1" x2="1086.8" y2="417.1" stroke="#000" stroke-width="2"/>
<line x1="1752.2" y1="417.1" x2="1741.7" y2="417.1" stroke="#000" stroke-width="2"/>
<line x1="1076.3" y1="353.1" x2="1086.8" y2="353.1" stroke="#000" stroke-width="2"/>
<line x1="1752.2" y1="353.1" x2="1741.7" y2="353.1" stroke="#000" stroke-width="2"/>
<line x1="1076.3" y1="289.1" x2="1086.8" y2="289.1" stroke="#000" stroke-width="2"/>
<line x1="1752.2" y1="289.1" x2="1741.7" y2="289.1" stroke="#000" stroke-width="2"/>
<line x1="1076.3" y1="225.1" x2="1086.8" y2="225.1" stroke="#000" stroke-width="2"/>
<line x1="1752.2" y1="225.1" x2="1741.7" y2="225.1" stroke="#000" stroke-width="2"/>
<line x1="1076.3" y1="161.1" x2="1086.8" y2="161.1" stroke="#000" stroke-width="2"/>
<line x1="1752.2" y1="161.1" x2="1741.7" y2="161.1" stroke="#000" stroke-width="2"/>
<line x1="1076.3" y1="97.1" x2="1086.8" y2="97.1" stroke="#000" stroke-width="2"/>
<line x1="1752.2" y1="97.1" x2="1741.7" y2="97.1" stroke="#000" stroke-width="2"/>
<line x1="1076.3" y1="33.1" x2="1086.8" y2="33.1" stroke="#000" stroke-width="2"/>
<line x1="1752.2" y1="33.1" x2="1741.7" y2="33.1" stroke="#000" stroke-width="2"/>
<line x1="1076.3" y1="577.1" x2="1081.3" y2="577.1" stroke="#000" stroke-width="2"/>
<line x1="1752.2" y1="577.1" x2="1747.2" y2="577.1" stroke="#000" stroke-width="2"/>
<line x1="1076.3" y1="513.1" x2="1081.3" y2="513.1" stroke="#000" stroke-width="2"/>
<line x1="1752.2" y1="513.1" x2="1747.2" y2="513.1" stroke="#000" stroke-width="2"/>
<line x1="1076.3" y1="449.1" x2="1081.3" y2="449.1" stroke="#000" stroke-width="2"/>
<line x1="1752.2" y1="449.1" x2="1747.2" y2="449.1" stroke="#000" stroke-width="2"/>
<line x1="1076.3" y1="385.1" x2="1081.3" y2="385.1" stroke="#000" stroke-width="2"/>
<line x1="1752.2" y1="385.1" x2="1747.2" y2="385.1" stroke="#000" stroke-width="2"/>
<line x1="1076.3" y1="321.1" x2="1081.3" y2="321.1" stroke="#000" stroke-width="2"/>
<line x1="1752.2" y1="321.1" x2="1747.2" y2="321.1" stroke="#000" stroke-width="2"/>
<line x1="1076.3" y1="257.1" x2="1081.3" y2="257.1" stroke="#000" stroke-width="2"/>
<line x1="1752.2" y1="257.1" x2="1747.2" y2="257.1" stroke="#000" stroke-width="2"/>
<line x1="1076.3" y1="193.1" x2="1081.3" y2="193.1" stroke="#000" stroke-width="2"/>
<line x1="1752.2" y1="193.1" x2="1747.2" y2="193.1" stroke="#000" stroke-width="2"/>
<line x1="1076.3" y1="129.1" x2="1081.3" y2="129.1" stroke="#000" stroke-width="2"/>
<line x1="1752.2" y1="129.1" x2="1747.2" y2="129.1" stroke="#000" stroke-width="2"/>
<line x1="1076.3" y1="65.1" x2="1081.3" y2="65.1" stroke="#000" stroke-width="2"/>
<line x1="1752.2" y1="65.1" x2="1747.2" y2="65.1" stroke="#000" stroke-width="2"/>
<text x="1114.1" y="616" font-size="33" text-anchor="middle" font-family="'Liberation Serif','Times New Roman',serif" font-weight="bold" >0</text>
<text x="1189.2" y="616" font-size="33" text-anchor="middle" font-family="'Liberation Serif','Times New Roman',serif" font-weight="bold" >100</text>
<text x="1264.3" y="616" font-size="33" text-anchor="middle" font-family="'Liberation Serif','Times New Roman',serif" font-weight="bold" >200</text>
<text x="1339.3" y="616" font-size="33" text-anchor="middle" font-family="'Liberation Serif','Times New Roman',serif" font-weight="bold" >300</text>
<text x="1414.4" y="616" font-size="33" text-anchor="middle" font-family="'Liberation Serif','Times New Roman',serif" font-weight="bold" >400</text>
<text x="1489.5" y="616" font-size="33" text-anchor="middle" font-family="'Liberation Serif','Times New Roman',serif" font-weight="bold" >500</text>
<text x="1564.6" y="616" font-size="33" text-anchor="middle" font-family="'Liberation Serif','Times New Roman',serif" font-weight="bold" >600</text>
<text x="1639.7" y="616" font-size="33" text-anchor="middle" font-family="'Liberation Serif','Times New Roman',serif" font-weight="bold" >700</text>
<text x="1714.7" y="616" font-size="33" text-anchor="middle" font-family="'Liberation Serif','Times New Roman',serif" font-weight="bold" >800</text>
<text x="1063" y="556.6" font-size="33" text-anchor="end" font-family="'Liberation Serif','Times New Roman',serif" font-weight="bold" >0.0</text>
<text x="1064" y="492.6" font-size="33" text-anchor="end" font-family="'Liberation Serif','Times New Roman',serif" font-weight="bold">2.0&#215;10<tspan font-size="23" dy="-13">-5</tspan></text>
<text x="1064" y="428.6" font-size="33" text-anchor="end" font-family="'Liberation Serif','Times New Roman',serif" font-weight="bold">4.0&#215;10<tspan font-size="23" dy="-13">-5</tspan></text>
<text x="1064" y="364.6" font-size="33" text-anchor="end" font-family="'Liberation Serif','Times New Roman',serif" font-weight="bold">6.0&#215;10<tspan font-size="23" dy="-13">-5</tspan></text>
<text x="1064" y="300.6" font-size="33" text-anchor="end" font-family="'Liberation Serif','Times New Roman',serif" font-weight="bold">8.0&#215;10<tspan font-size="23" dy="-13">-5</tspan></text>
<text x="1064" y="236.6" font-size="33" text-anchor="end" font-family="'Liberation Serif','Times New Roman',serif" font-weight="bold">1.0&#215;10<tspan font-size="23" dy="-13">-4</tspan></text>
<text x="1064" y="172.6" font-size="33" text-anchor="end" font-family="'Liberation Serif','Times New Roman',serif" font-weight="bold">1.2&#215;10<tspan font-size="23" dy="-13">-4</tspan></text>
<text x="1064" y="108.6" font-size="33" text-anchor="end" font-family="'Liberation Serif','Times New Roman',serif" font-weight="bold">1.4&#215;10<tspan font-size="23" dy="-13">-4</tspan></text>
<text x="1064" y="44.6" font-size="33" text-anchor="end" font-family="'Liberation Serif','Times New Roman',serif" font-weight="bold">1.6&#215;10<tspan font-size="23" dy="-13">-4</tspan></text>
<text x="1412" y="649" font-size="33" text-anchor="middle" font-family="'Liberation Serif','Times New Roman',serif" font-weight="bold" >Time/s</text>
<text x="0" y="0" font-size="33" text-anchor="middle" font-family="'Liberation Serif','Times New Roman',serif" font-weight="bold" transform="translate(938,305) rotate(-90)">Velocity/m/s</text>
<text x="1133" y="66.3" font-size="33" text-anchor="middle" font-family="'Liberation Serif','Times New Roman',serif" font-weight="bold" >(b)</text>
<line x1="1148.3" y1="445.4" x2="1224" y2="410.5" stroke="#000" stroke-width="1.0"/>
<polygon points="1233.2,405.8 1219.2,408.6 1221.6,411 1221.3,414.8" fill="#000"/>
<line x1="1561" y1="47.8" x2="1637.5" y2="47.8" stroke="#4b4b4b" stroke-width="2"/>
<text x="1645" y="59.3" font-size="33.5" font-family="'Liberation Serif','Times New Roman',serif" font-weight="bold"><tspan font-style="italic">s</tspan><tspan font-style="italic" font-size="23" dy="8">w</tspan><tspan dy="-8">=0</tspan></text>
<line x1="1561" y1="96.6" x2="1637.5" y2="96.6" stroke="#ea2a2a" stroke-width="2"/>
<text x="1645" y="108.4" font-size="33.5" font-family="'Liberation Serif','Times New Roman',serif" font-weight="bold"><tspan font-style="italic">s</tspan><tspan font-style="italic" font-size="23" dy="8">w</tspan><tspan dy="-8">=0.4</tspan></text>
<line x1="1561" y1="145.4" x2="1637.5" y2="145.4" stroke="#1a6edc" stroke-width="2"/>
<text x="1645" y="157.5" font-size="33.5" font-family="'Liberation Serif','Times New Roman',serif" font-weight="bold"><tspan font-style="italic">s</tspan><tspan font-style="italic" font-size="23" dy="8">w</tspan><tspan dy="-8">=0.8</tspan></text>
<rect x="1237.4" y="165.2" width="464.89999999999986" height="234.40000000000003" fill="#fff" stroke="#000" stroke-width="1.3"/>
<clipPath id="ci"><rect x="1237.4" y="165.2" width="464.89999999999986" height="234.40000000000003"/></clipPath>
<g clip-path="url(#ci)">
<polyline points="1259.3,404.6 1281.5,166.9 1303.6,233.2 1325.8,262.7 1347.9,274.3 1370,298.5 1392.2,307.6 1414.3,309.5 1436.5,321.7 1458.6,325.5 1480.8,330.1 1502.9,330.1 1525.1,338.9 1547.2,335.8 1569.4,342.7 1591.5,345.3 1613.7,344.8 1635.8,344.8 1658,353.9 1680.1,351.8 1702.3,349.5" fill="none" stroke="#4b4b4b" stroke-width="1.6" stroke-linejoin="round" />
<polyline points="1259.3,404.6 1281.5,220.6 1303.6,272.8 1325.8,288 1347.9,309 1370,329.5 1392.2,331.6 1414.3,331.6 1436.5,336.2 1458.6,342.7 1480.8,343.4 1502.9,343.4 1525.1,351.8 1547.2,352.2 1569.4,353.9 1591.5,359 1613.7,358.1 1635.8,363.2 1658,358.1 1680.1,358.1 1702.3,367" fill="none" stroke="#ea2a2a" stroke-width="1.6" stroke-linejoin="round" />
<polyline points="1259.3,404.6 1281.5,276.4 1303.6,282.7 1325.8,325.5 1347.9,334.9 1370,332.2 1392.2,350.1 1414.3,350.1 1436.5,354.3 1458.6,365.3 1480.8,356.4 1502.9,356.4 1525.1,368.4 1547.2,368.4 1569.4,364.8 1591.5,365.9 1613.7,368.4 1635.8,370.5 1658,371.6 1680.1,375 1702.3,372.9" fill="none" stroke="#1a6edc" stroke-width="1.6" stroke-linejoin="round" />
</g>
<line x1="1259.3" y1="399.6" x2="1259.3" y2="393.6" stroke="#000" stroke-width="1.3"/>
<line x1="1347.9" y1="399.6" x2="1347.9" y2="393.6" stroke="#000" stroke-width="1.3"/>
<line x1="1436.5" y1="399.6" x2="1436.5" y2="393.6" stroke="#000" stroke-width="1.3"/>
<line x1="1525.1" y1="399.6" x2="1525.1" y2="393.6" stroke="#000" stroke-width="1.3"/>
<line x1="1613.7" y1="399.6" x2="1613.7" y2="393.6" stroke="#000" stroke-width="1.3"/>
<line x1="1702.3" y1="399.6" x2="1702.3" y2="393.6" stroke="#000" stroke-width="1.3"/>
<line x1="1303.6" y1="399.6" x2="1303.6" y2="396.1" stroke="#000" stroke-width="1.3"/>
<line x1="1392.2" y1="399.6" x2="1392.2" y2="396.1" stroke="#000" stroke-width="1.3"/>
<line x1="1480.8" y1="399.6" x2="1480.8" y2="396.1" stroke="#000" stroke-width="1.3"/>
<line x1="1569.4" y1="399.6" x2="1569.4" y2="396.1" stroke="#000" stroke-width="1.3"/>
<line x1="1658" y1="399.6" x2="1658" y2="396.1" stroke="#000" stroke-width="1.3"/>
<line x1="1237.4" y1="372.2" x2="1243.4" y2="372.2" stroke="#000" stroke-width="1.3"/>
<line x1="1237.4" y1="339.9" x2="1243.4" y2="339.9" stroke="#000" stroke-width="1.3"/>
<line x1="1237.4" y1="307.6" x2="1243.4" y2="307.6" stroke="#000" stroke-width="1.3"/>
<line x1="1237.4" y1="275.2" x2="1243.4" y2="275.2" stroke="#000" stroke-width="1.3"/>
<line x1="1237.4" y1="242.9" x2="1243.4" y2="242.9" stroke="#000" stroke-width="1.3"/>
<line x1="1237.4" y1="210.5" x2="1243.4" y2="210.5" stroke="#000" stroke-width="1.3"/>
<line x1="1237.4" y1="178.2" x2="1243.4" y2="178.2" stroke="#000" stroke-width="1.3"/>
<line x1="1237.4" y1="388.4" x2="1240.9" y2="388.4" stroke="#000" stroke-width="1.3"/>
<line x1="1237.4" y1="356.1" x2="1240.9" y2="356.1" stroke="#000" stroke-width="1.3"/>
<line x1="1237.4" y1="323.7" x2="1240.9" y2="323.7" stroke="#000" stroke-width="1.3"/>
<line x1="1237.4" y1="291.4" x2="1240.9" y2="291.4" stroke="#000" stroke-width="1.3"/>
<line x1="1237.4" y1="259" x2="1240.9" y2="259" stroke="#000" stroke-width="1.3"/>
<line x1="1237.4" y1="226.7" x2="1240.9" y2="226.7" stroke="#000" stroke-width="1.3"/>
<line x1="1237.4" y1="194.3" x2="1240.9" y2="194.3" stroke="#000" stroke-width="1.3"/>
<text x="1259.3" y="424" font-size="23" text-anchor="middle" font-family="'Liberation Serif','Times New Roman',serif" font-weight="bold" >0</text>
<text x="1347.9" y="424" font-size="23" text-anchor="middle" font-family="'Liberation Serif','Times New Roman',serif" font-weight="bold" >4</text>
<text x="1436.5" y="424" font-size="23" text-anchor="middle" font-family="'Liberation Serif','Times New Roman',serif" font-weight="bold" >8</text>
<text x="1525.1" y="424" font-size="23" text-anchor="middle" font-family="'Liberation Serif','Times New Roman',serif" font-weight="bold" >12</text>
<text x="1613.7" y="424" font-size="23" text-anchor="middle" font-family="'Liberation Serif','Times New Roman',serif" font-weight="bold" >16</text>
<text x="1702.3" y="424" font-size="23" text-anchor="middle" font-family="'Liberation Serif','Times New Roman',serif" font-weight="bold" >20</text>
<text x="1230.8" y="381.8" font-size="23.5" text-anchor="end" font-family="'Liberation Serif','Times New Roman',serif" font-weight="bold">2.0&#215;10<tspan font-size="15.5" dy="-10">-5</tspan></text>
<text x="1230.8" y="349.4" font-size="23.5" text-anchor="end" font-family="'Liberation Serif','Times New Roman',serif" font-weight="bold">4.0&#215;10<tspan font-size="15.5" dy="-10">-5</tspan></text>
<text x="1230.8" y="317.1" font-size="23.5" text-anchor="end" font-family="'Liberation Serif','Times New Roman',serif" font-weight="bold">6.0&#215;10<tspan font-size="15.5" dy="-10">-5</tspan></text>
<text x="1230.8" y="284.7" font-size="23.5" text-anchor="end" font-family="'Liberation Serif','Times New Roman',serif" font-weight="bold">8.0&#215;10<tspan font-size="15.5" dy="-10">-5</tspan></text>
<text x="1230.8" y="252.4" font-size="23.5" text-anchor="end" font-family="'Liberation Serif','Times New Roman',serif" font-weight="bold">1.0&#215;10<tspan font-size="15.5" dy="-10">-4</tspan></text>
<text x="1230.8" y="220" font-size="23.5" text-anchor="end" font-family="'Liberation Serif','Times New Roman',serif" font-weight="bold">1.2&#215;10<tspan font-size="15.5" dy="-10">-4</tspan></text>
<text x="1230.8" y="187.7" font-size="23.5" text-anchor="end" font-family="'Liberation Serif','Times New Roman',serif" font-weight="bold">1.4&#215;10<tspan font-size="15.5" dy="-10">-4</tspan></text>
<clipPath id="cc"><rect x="158.4" y="753.4" width="675.2" height="544.8000000000001"/></clipPath>
<g clip-path="url(#cc)">
<polyline points="158.6,1298.2 175.5,1052.1 192.3,984.5 209.2,943.4 226,915.3 242.9,894 259.8,877.2 276.6,863.3 293.5,851.9 310.4,842.5 327.2,834.9 344.1,827.8 360.9,822 377.8,816.3 394.7,811.3 411.5,806.8 428.4,803.1 445.3,799.2 462.1,796.1 479,793.1 495.8,790.4 512.7,787.8 529.6,785.4 546.4,783.2 563.3,781.2 580.1,779.3 597,777.6 613.9,776.1 630.7,774.7 647.6,773.3 664.5,772 681.3,770.7 698.2,769.3 715,768.1 731.9,766.8 748.8,765.7 765.6,764.6 782.5,763.5 799.4,762.5 816.2,761.5 833.1,760.6" fill="none" stroke="#000000" stroke-width="2" stroke-linejoin="round" />
<rect x="152.6" y="1292.4" width="12" height="11.6" fill="#000000"/>
<rect x="169.5" y="1046.3" width="12" height="11.6" fill="#000000"/>
<rect x="186.3" y="978.7" width="12" height="11.6" fill="#000000"/>
<rect x="203.2" y="937.6" width="12" height="11.6" fill="#000000"/>
<rect x="220" y="909.5" width="12" height="11.6" fill="#000000"/>
<rect x="236.9" y="888.2" width="12" height="11.6" fill="#000000"/>
<rect x="253.8" y="871.4" width="12" height="11.6" fill="#000000"/>
<rect x="270.6" y="857.5" width="12" height="11.6" fill="#000000"/>
<rect x="287.5" y="846.1" width="12" height="11.6" fill="#000000"/>
<rect x="304.4" y="836.7" width="12" height="11.6" fill="#000000"/>
<rect x="321.2" y="829.1" width="12" height="11.6" fill="#000000"/>
<rect x="338.1" y="822" width="12" height="11.6" fill="#000000"/>
<rect x="354.9" y="816.2" width="12" height="11.6" fill="#000000"/>
<rect x="371.8" y="810.5" width="12" height="11.6" fill="#000000"/>
<rect x="388.7" y="805.5" width="12" height="11.6" fill="#000000"/>
<rect x="405.5" y="801" width="12" height="11.6" fill="#000000"/>
<rect x="422.4" y="797.3" width="12" height="11.6" fill="#000000"/>
<rect x="439.3" y="793.4" width="12" height="11.6" fill="#000000"/>
<rect x="456.1" y="790.3" width="12" height="11.6" fill="#000000"/>
<rect x="473" y="787.3" width="12" height="11.6" fill="#000000"/>
<rect x="489.8" y="784.6" width="12" height="11.6" fill="#000000"/>
<rect x="506.7" y="782" width="12" height="11.6" fill="#000000"/>
<rect x="523.6" y="779.6" width="12" height="11.6" fill="#000000"/>
<rect x="540.4" y="777.4" width="12" height="11.6" fill="#000000"/>
<rect x="557.3" y="775.4" width="12" height="11.6" fill="#000000"/>
<rect x="574.1" y="773.5" width="12" height="11.6" fill="#000000"/>
<rect x="591" y="771.8" width="12" height="11.6" fill="#000000"/>
<rect x="607.9" y="770.3" width="12" height="11.6" fill="#000000"/>
<rect x="624.7" y="768.9" width="12" height="11.6" fill="#000000"/>
<rect x="641.6" y="767.5" width="12" height="11.6" fill="#000000"/>
<rect x="658.5" y="766.2" width="12" height="11.6" fill="#000000"/>
<rect x="675.3" y="764.9" width="12" height="11.6" fill="#000000"/>
<rect x="692.2" y="763.5" width="12" height="11.6" fill="#000000"/>
<rect x="709" y="762.3" width="12" height="11.6" fill="#000000"/>
<rect x="725.9" y="761" width="12" height="11.6" fill="#000000"/>
<rect x="742.8" y="759.9" width="12" height="11.6" fill="#000000"/>
<rect x="759.6" y="758.8" width="12" height="11.6" fill="#000000"/>
<rect x="776.5" y="757.7" width="12" height="11.6" fill="#000000"/>
<rect x="793.4" y="756.7" width="12" height="11.6" fill="#000000"/>
<rect x="810.2" y="755.7" width="12" height="11.6" fill="#000000"/>
<rect x="827.1" y="754.8" width="12" height="11.6" fill="#000000"/>
<polyline points="158.6,1298.2 175.5,1089.8 192.3,1037.5 209.2,1006.1 226,985.4 242.9,969.6 259.8,958 276.6,948.4 293.5,940.5 310.4,934.3 327.2,928.6 344.1,924.9 360.9,921.1 377.8,917.3 394.7,913.5 411.5,910.6 428.4,908.1 445.3,906.2 462.1,904.3 479,902.3 495.8,900.4 512.7,898.5 529.6,896.7 546.4,895.1 563.3,893.5 580.1,892.2 597,891.1 613.9,890 630.7,889.1 647.6,888.2 664.5,887.4 681.3,886.7 698.2,886.1 715,885.4 731.9,884.8 748.8,884.2 765.6,883.5 782.5,882.7 799.4,882 816.2,881.2 833.1,880.5" fill="none" stroke="#ff0000" stroke-width="2" stroke-linejoin="round" />
<circle cx="158.6" cy="1298.2" r="6.5" fill="#ff0000"/>
<circle cx="175.5" cy="1089.8" r="6.5" fill="#ff0000"/>
<circle cx="192.3" cy="1037.5" r="6.5" fill="#ff0000"/>
<circle cx="209.2" cy="1006.1" r="6.5" fill="#ff0000"/>
<circle cx="226" cy="985.4" r="6.5" fill="#ff0000"/>
<circle cx="242.9" cy="969.6" r="6.5" fill="#ff0000"/>
<circle cx="259.8" cy="958" r="6.5" fill="#ff0000"/>
<circle cx="276.6" cy="948.4" r="6.5" fill="#ff0000"/>
<circle cx="293.5" cy="940.5" r="6.5" fill="#ff0000"/>
<circle cx="310.4" cy="934.3" r="6.5" fill="#ff0000"/>
<circle cx="327.2" cy="928.6" r="6.5" fill="#ff0000"/>
<circle cx="344.1" cy="924.9" r="6.5" fill="#ff0000"/>
<circle cx="360.9" cy="921.1" r="6.5" fill="#ff0000"/>
<circle cx="377.8" cy="917.3" r="6.5" fill="#ff0000"/>
<circle cx="394.7" cy="913.5" r="6.5" fill="#ff0000"/>
<circle cx="411.5" cy="910.6" r="6.5" fill="#ff0000"/>
<circle cx="428.4" cy="908.1" r="6.5" fill="#ff0000"/>
<circle cx="445.3" cy="906.2" r="6.5" fill="#ff0000"/>
<circle cx="462.1" cy="904.3" r="6.5" fill="#ff0000"/>
<circle cx="479" cy="902.3" r="6.5" fill="#ff0000"/>
<circle cx="495.8" cy="900.4" r="6.5" fill="#ff0000"/>
<circle cx="512.7" cy="898.5" r="6.5" fill="#ff0000"/>
<circle cx="529.6" cy="896.7" r="6.5" fill="#ff0000"/>
<circle cx="546.4" cy="895.1" r="6.5" fill="#ff0000"/>
<circle cx="563.3" cy="893.5" r="6.5" fill="#ff0000"/>
<circle cx="580.1" cy="892.2" r="6.5" fill="#ff0000"/>
<circle cx="597" cy="891.1" r="6.5" fill="#ff0000"/>
<circle cx="613.9" cy="890" r="6.5" fill="#ff0000"/>
<circle cx="630.7" cy="889.1" r="6.5" fill="#ff0000"/>
<circle cx="647.6" cy="888.2" r="6.5" fill="#ff0000"/>
<circle cx="664.5" cy="887.4" r="6.5" fill="#ff0000"/>
<circle cx="681.3" cy="886.7" r="6.5" fill="#ff0000"/>
<circle cx="698.2" cy="886.1" r="6.5" fill="#ff0000"/>
<circle cx="715" cy="885.4" r="6.5" fill="#ff0000"/>
<circle cx="731.9" cy="884.8" r="6.5" fill="#ff0000"/>
<circle cx="748.8" cy="884.2" r="6.5" fill="#ff0000"/>
<circle cx="765.6" cy="883.5" r="6.5" fill="#ff0000"/>
<circle cx="782.5" cy="882.7" r="6.5" fill="#ff0000"/>
<circle cx="799.4" cy="882" r="6.5" fill="#ff0000"/>
<circle cx="816.2" cy="881.2" r="6.5" fill="#ff0000"/>
<circle cx="833.1" cy="880.5" r="6.5" fill="#ff0000"/>
<polyline points="158.6,1298.2 175.5,1109.4 192.3,1063.4 209.2,1037.9 226,1020.2 242.9,1007.4 259.8,998.5 276.6,990 293.5,983.5 310.4,978.8 327.2,975 344.1,971.2 360.9,968.3 377.8,965.5 394.7,962.7 411.5,960.3 428.4,958 445.3,955.9 462.1,954.1 479,952.4 495.8,950.7 512.7,949.1 529.6,947.6 546.4,946.3 563.3,945.1 580.1,944.3 597,943.6 613.9,943.1 630.7,942.7 647.6,942.2 664.5,941.7 681.3,941 698.2,940.3 715,939.6 731.9,938.9 748.8,938.2 765.6,937.5 782.5,936.9 799.4,936.2 816.2,935.6 833.1,935" fill="none" stroke="#0000ff" stroke-width="2" stroke-linejoin="round" />
<polygon points="158.6,1289.9 150.6,1304.1 166.6,1304.1" fill="#0000ff"/>
<polygon points="175.5,1101.1 167.5,1115.3 183.5,1115.3" fill="#0000ff"/>
<polygon points="192.3,1055.1 184.3,1069.3 200.3,1069.3" fill="#0000ff"/>
<polygon points="209.2,1029.6 201.2,1043.8 217.2,1043.8" fill="#0000ff"/>
<polygon points="226,1011.9 218,1026.1 234,1026.1" fill="#0000ff"/>
<polygon points="242.9,999.1 234.9,1013.3 250.9,1013.3" fill="#0000ff"/>
<polygon points="259.8,990.2 251.8,1004.4 267.8,1004.4" fill="#0000ff"/>
<polygon points="276.6,981.7 268.6,995.9 284.6,995.9" fill="#0000ff"/>
<polygon points="293.5,975.2 285.5,989.4 301.5,989.4" fill="#0000ff"/>
<polygon points="310.4,970.5 302.4,984.7 318.4,984.7" fill="#0000ff"/>
<polygon points="327.2,966.7 319.2,980.9 335.2,980.9" fill="#0000ff"/>
<polygon points="344.1,962.9 336.1,977.1 352.1,977.1" fill="#0000ff"/>
<polygon points="360.9,960 352.9,974.2 368.9,974.2" fill="#0000ff"/>
<polygon points="377.8,957.2 369.8,971.4 385.8,971.4" fill="#0000ff"/>
<polygon points="394.7,954.4 386.7,968.6 402.7,968.6" fill="#0000ff"/>
<polygon points="411.5,952 403.5,966.2 419.5,966.2" fill="#0000ff"/>
<polygon points="428.4,949.7 420.4,963.9 436.4,963.9" fill="#0000ff"/>
<polygon points="445.3,947.6 437.3,961.8 453.3,961.8" fill="#0000ff"/>
<polygon points="462.1,945.8 454.1,960 470.1,960" fill="#0000ff"/>
<polygon points="479,944.1 471,958.3 487,958.3" fill="#0000ff"/>
<polygon points="495.8,942.4 487.8,956.6 503.8,956.6" fill="#0000ff"/>
<polygon points="512.7,940.8 504.7,955 520.7,955" fill="#0000ff"/>
<polygon points="529.6,939.3 521.6,953.5 537.6,953.5" fill="#0000ff"/>
<polygon points="546.4,938 538.4,952.2 554.4,952.2" fill="#0000ff"/>
<polygon points="563.3,936.8 555.3,951 571.3,951" fill="#0000ff"/>
<polygon points="580.1,936 572.1,950.2 588.1,950.2" fill="#0000ff"/>
<polygon points="597,935.3 589,949.5 605,949.5" fill="#0000ff"/>
<polygon points="613.9,934.8 605.9,949 621.9,949" fill="#0000ff"/>
<polygon points="630.7,934.4 622.7,948.6 638.7,948.6" fill="#0000ff"/>
<polygon points="647.6,933.9 639.6,948.1 655.6,948.1" fill="#0000ff"/>
<polygon points="664.5,933.4 656.5,947.6 672.5,947.6" fill="#0000ff"/>
<polygon points="681.3,932.7 673.3,946.9 689.3,946.9" fill="#0000ff"/>
<polygon points="698.2,932 690.2,946.2 706.2,946.2" fill="#0000ff"/>
<polygon points="715,931.3 707,945.5 723,945.5" fill="#0000ff"/>
<polygon points="731.9,930.6 723.9,944.8 739.9,944.8" fill="#0000ff"/>
<polygon points="748.8,929.9 740.8,944.1 756.8,944.1" fill="#0000ff"/>
<polygon points="765.6,929.2 757.6,943.4 773.6,943.4" fill="#0000ff"/>
<polygon points="782.5,928.6 774.5,942.8 790.5,942.8" fill="#0000ff"/>
<polygon points="799.4,927.9 791.4,942.1 807.4,942.1" fill="#0000ff"/>
<polygon points="816.2,927.3 808.2,941.5 824.2,941.5" fill="#0000ff"/>
<polygon points="833.1,926.7 825.1,940.9 841.1,940.9" fill="#0000ff"/>
<polyline points="158.6,1298.2 175.5,1127.2 192.3,1089 209.2,1067.2 226,1052.5 242.9,1041.8 259.8,1033.4 276.6,1028.3 293.5,1024 310.4,1019.9 327.2,1016.4 344.1,1013.5 360.9,1010.9 377.8,1008.5 394.7,1006.4 411.5,1004.4 428.4,1002.6 445.3,1001.1 462.1,999.8 479,998.6 495.8,997.5 512.7,996.5 529.6,995.5 546.4,994.6 563.3,993.6 580.1,992.7 597,991.8 613.9,991 630.7,990.1 647.6,989.4 664.5,988.7 681.3,988.1 698.2,987.5 715,987 731.9,986.5 748.8,986.1 765.6,985.7 782.5,985.3 799.4,985 816.2,984.6 833.1,984.4" fill="none" stroke="#00ff00" stroke-width="2" stroke-linejoin="round" />
<polygon points="158.6,1306.5 150.6,1292.3 166.6,1292.3" fill="#00ff00"/>
<polygon points="175.5,1135.5 167.5,1121.3 183.5,1121.3" fill="#00ff00"/>
<polygon points="192.3,1097.3 184.3,1083.1 200.3,1083.1" fill="#00ff00"/>
<polygon points="209.2,1075.5 201.2,1061.3 217.2,1061.3" fill="#00ff00"/>
<polygon points="226,1060.8 218,1046.6 234,1046.6" fill="#00ff00"/>
<polygon points="242.9,1050.1 234.9,1035.9 250.9,1035.9" fill="#00ff00"/>
<polygon points="259.8,1041.7 251.8,1027.5 267.8,1027.5" fill="#00ff00"/>
<polygon points="276.6,1036.6 268.6,1022.4 284.6,1022.4" fill="#00ff00"/>
<polygon points="293.5,1032.3 285.5,1018.1 301.5,1018.1" fill="#00ff00"/>
<polygon points="310.4,1028.2 302.4,1014 318.4,1014" fill="#00ff00"/>
<polygon points="327.2,1024.7 319.2,1010.5 335.2,1010.5" fill="#00ff00"/>
<polygon points="344.1,1021.8 336.1,1007.6 352.1,1007.6" fill="#00ff00"/>
<polygon points="360.9,1019.2 352.9,1005 368.9,1005" fill="#00ff00"/>
<polygon points="377.8,1016.8 369.8,1002.6 385.8,1002.6" fill="#00ff00"/>
<polygon points="394.7,1014.7 386.7,1000.5 402.7,1000.5" fill="#00ff00"/>
<polygon points="411.5,1012.7 403.5,998.5 419.5,998.5" fill="#00ff00"/>
<polygon points="428.4,1010.9 420.4,996.7 436.4,996.7" fill="#00ff00"/>
<polygon points="445.3,1009.4 437.3,995.2 453.3,995.2" fill="#00ff00"/>
<polygon points="462.1,1008.1 454.1,993.9 470.1,993.9" fill="#00ff00"/>
<polygon points="479,1006.9 471,992.7 487,992.7" fill="#00ff00"/>
<polygon points="495.8,1005.8 487.8,991.6 503.8,991.6" fill="#00ff00"/>
<polygon points="512.7,1004.8 504.7,990.6 520.7,990.6" fill="#00ff00"/>
<polygon points="529.6,1003.8 521.6,989.6 537.6,989.6" fill="#00ff00"/>
<polygon points="546.4,1002.9 538.4,988.7 554.4,988.7" fill="#00ff00"/>
<polygon points="563.3,1001.9 555.3,987.7 571.3,987.7" fill="#00ff00"/>
<polygon points="580.1,1001 572.1,986.8 588.1,986.8" fill="#00ff00"/>
<polygon points="597,1000.1 589,985.9 605,985.9" fill="#00ff00"/>
<polygon points="613.9,999.3 605.9,985.1 621.9,985.1" fill="#00ff00"/>
<polygon points="630.7,998.4 622.7,984.2 638.7,984.2" fill="#00ff00"/>
<polygon points="647.6,997.7 639.6,983.5 655.6,983.5" fill="#00ff00"/>
<polygon points="664.5,997 656.5,982.8 672.5,982.8" fill="#00ff00"/>
<polygon points="681.3,996.4 673.3,982.2 689.3,982.2" fill="#00ff00"/>
<polygon points="698.2,995.8 690.2,981.6 706.2,981.6" fill="#00ff00"/>
<polygon points="715,995.3 707,981.1 723,981.1" fill="#00ff00"/>
<polygon points="731.9,994.8 723.9,980.6 739.9,980.6" fill="#00ff00"/>
<polygon points="748.8,994.4 740.8,980.2 756.8,980.2" fill="#00ff00"/>
<polygon points="765.6,994 757.6,979.8 773.6,979.8" fill="#00ff00"/>
<polygon points="782.5,993.6 774.5,979.4 790.5,979.4" fill="#00ff00"/>
<polygon points="799.4,993.3 791.4,979.1 807.4,979.1" fill="#00ff00"/>
<polygon points="816.2,992.9 808.2,978.7 824.2,978.7" fill="#00ff00"/>
<polygon points="833.1,992.7 825.1,978.5 841.1,978.5" fill="#00ff00"/>
<polyline points="158.6,1298.2 175.5,1164.3 192.3,1137.5 209.2,1122.9 226,1114.5 242.9,1107.4 259.8,1103.8 276.6,1100.4 293.5,1097.9 310.4,1094.9 327.2,1092.4 344.1,1091.1 360.9,1090.1 377.8,1089.3 394.7,1088.5 411.5,1087.8 428.4,1087.1 445.3,1086.4 462.1,1085.6 479,1084.7 495.8,1083.9 512.7,1083 529.6,1082.1 546.4,1081.3 563.3,1080.6 580.1,1080 597,1079.5 613.9,1079 630.7,1078.6 647.6,1078.3 664.5,1077.9 681.3,1077.5 698.2,1077.1 715,1076.7 731.9,1076.4 748.8,1076 765.6,1075.7 782.5,1075.5 799.4,1075.2 816.2,1075 833.1,1074.7" fill="none" stroke="#00ffff" stroke-width="2" stroke-linejoin="round" />
<polygon points="158.6,1289.7 167.4,1298.2 158.6,1306.7 149.8,1298.2" fill="#00ffff"/>
<polygon points="175.5,1155.8 184.3,1164.3 175.5,1172.8 166.7,1164.3" fill="#00ffff"/>
<polygon points="192.3,1129 201.1,1137.5 192.3,1146 183.5,1137.5" fill="#00ffff"/>
<polygon points="209.2,1114.4 218,1122.9 209.2,1131.4 200.4,1122.9" fill="#00ffff"/>
<polygon points="226,1106 234.8,1114.5 226,1123 217.2,1114.5" fill="#00ffff"/>
<polygon points="242.9,1098.9 251.7,1107.4 242.9,1115.9 234.1,1107.4" fill="#00ffff"/>
<polygon points="259.8,1095.3 268.6,1103.8 259.8,1112.3 251,1103.8" fill="#00ffff"/>
<polygon points="276.6,1091.9 285.4,1100.4 276.6,1108.9 267.8,1100.4" fill="#00ffff"/>
<polygon points="293.5,1089.4 302.3,1097.9 293.5,1106.4 284.7,1097.9" fill="#00ffff"/>
<polygon points="310.4,1086.4 319.2,1094.9 310.4,1103.4 301.6,1094.9" fill="#00ffff"/>
<polygon points="327.2,1083.9 336,1092.4 327.2,1100.9 318.4,1092.4" fill="#00ffff"/>
<polygon points="344.1,1082.6 352.9,1091.1 344.1,1099.6 335.3,1091.1" fill="#00ffff"/>
<polygon points="360.9,1081.6 369.7,1090.1 360.9,1098.6 352.1,1090.1" fill="#00ffff"/>
<polygon points="377.8,1080.8 386.6,1089.3 377.8,1097.8 369,1089.3" fill="#00ffff"/>
<polygon points="394.7,1080 403.5,1088.5 394.7,1097 385.9,1088.5" fill="#00ffff"/>
<polygon points="411.5,1079.3 420.3,1087.8 411.5,1096.3 402.7,1087.8" fill="#00ffff"/>
<polygon points="428.4,1078.6 437.2,1087.1 428.4,1095.6 419.6,1087.1" fill="#00ffff"/>
<polygon points="445.3,1077.9 454.1,1086.4 445.3,1094.9 436.5,1086.4" fill="#00ffff"/>
<polygon points="462.1,1077.1 470.9,1085.6 462.1,1094.1 453.3,1085.6" fill="#00ffff"/>
<polygon points="479,1076.2 487.8,1084.7 479,1093.2 470.2,1084.7" fill="#00ffff"/>
<polygon points="495.8,1075.4 504.6,1083.9 495.8,1092.4 487,1083.9" fill="#00ffff"/>
<polygon points="512.7,1074.5 521.5,1083 512.7,1091.5 503.9,1083" fill="#00ffff"/>
<polygon points="529.6,1073.6 538.4,1082.1 529.6,1090.6 520.8,1082.1" fill="#00ffff"/>
<polygon points="546.4,1072.8 555.2,1081.3 546.4,1089.8 537.6,1081.3" fill="#00ffff"/>
<polygon points="563.3,1072.1 572.1,1080.6 563.3,1089.1 554.5,1080.6" fill="#00ffff"/>
<polygon points="580.1,1071.5 588.9,1080 580.1,1088.5 571.4,1080" fill="#00ffff"/>
<polygon points="597,1071 605.8,1079.5 597,1088 588.2,1079.5" fill="#00ffff"/>
<polygon points="613.9,1070.5 622.7,1079 613.9,1087.5 605.1,1079" fill="#00ffff"/>
<polygon points="630.7,1070.1 639.5,1078.6 630.7,1087.1 621.9,1078.6" fill="#00ffff"/>
<polygon points="647.6,1069.8 656.4,1078.3 647.6,1086.8 638.8,1078.3" fill="#00ffff"/>
<polygon points="664.5,1069.4 673.3,1077.9 664.5,1086.4 655.7,1077.9" fill="#00ffff"/>
<polygon points="681.3,1069 690.1,1077.5 681.3,1086 672.5,1077.5" fill="#00ffff"/>
<polygon points="698.2,1068.6 707,1077.1 698.2,1085.6 689.4,1077.1" fill="#00ffff"/>
<polygon points="715,1068.2 723.8,1076.7 715,1085.2 706.2,1076.7" fill="#00ffff"/>
<polygon points="731.9,1067.9 740.7,1076.4 731.9,1084.9 723.1,1076.4" fill="#00ffff"/>
<polygon points="748.8,1067.5 757.6,1076 748.8,1084.5 740,1076" fill="#00ffff"/>
<polygon points="765.6,1067.2 774.4,1075.7 765.6,1084.2 756.8,1075.7" fill="#00ffff"/>
<polygon points="782.5,1067 791.3,1075.5 782.5,1084 773.7,1075.5" fill="#00ffff"/>
<polygon points="799.4,1066.7 808.2,1075.2 799.4,1083.7 790.6,1075.2" fill="#00ffff"/>
<polygon points="816.2,1066.5 825,1075 816.2,1083.5 807.4,1075" fill="#00ffff"/>
<polygon points="833.1,1066.2 841.9,1074.7 833.1,1083.2 824.3,1074.7" fill="#00ffff"/>
</g>
<rect x="158.4" y="753.4" width="675.2" height="544.8" fill="none" stroke="#000" stroke-width="2"/>
<line x1="158.6" y1="1298.2" x2="158.6" y2="1287.7" stroke="#000" stroke-width="2"/>
<line x1="158.6" y1="753.4" x2="158.6" y2="763.9" stroke="#000" stroke-width="2"/>
<line x1="242.9" y1="1298.2" x2="242.9" y2="1287.7" stroke="#000" stroke-width="2"/>
<line x1="242.9" y1="753.4" x2="242.9" y2="763.9" stroke="#000" stroke-width="2"/>
<line x1="327.2" y1="1298.2" x2="327.2" y2="1287.7" stroke="#000" stroke-width="2"/>
<line x1="327.2" y1="753.4" x2="327.2" y2="763.9" stroke="#000" stroke-width="2"/>
<line x1="411.5" y1="1298.2" x2="411.5" y2="1287.7" stroke="#000" stroke-width="2"/>
<line x1="411.5" y1="753.4" x2="411.5" y2="763.9" stroke="#000" stroke-width="2"/>
<line x1="495.8" y1="1298.2" x2="495.8" y2="1287.7" stroke="#000" stroke-width="2"/>
<line x1="495.8" y1="753.4" x2="495.8" y2="763.9" stroke="#000" stroke-width="2"/>
<line x1="580.1" y1="1298.2" x2="580.1" y2="1287.7" stroke="#000" stroke-width="2"/>
<line x1="580.1" y1="753.4" x2="580.1" y2="763.9" stroke="#000" stroke-width="2"/>
<line x1="664.5" y1="1298.2" x2="664.5" y2="1287.7" stroke="#000" stroke-width="2"/>
<line x1="664.5" y1="753.4" x2="664.5" y2="763.9" stroke="#000" stroke-width="2"/>
<line x1="748.8" y1="1298.2" x2="748.8" y2="1287.7" stroke="#000" stroke-width="2"/>
<line x1="748.8" y1="753.4" x2="748.8" y2="763.9" stroke="#000" stroke-width="2"/>
<line x1="833.1" y1="1298.2" x2="833.1" y2="1287.7" stroke="#000" stroke-width="2"/>
<line x1="833.1" y1="753.4" x2="833.1" y2="763.9" stroke="#000" stroke-width="2"/>
<line x1="200.8" y1="1298.2" x2="200.8" y2="1292.9" stroke="#000" stroke-width="2"/>
<line x1="200.8" y1="753.4" x2="200.8" y2="758.7" stroke="#000" stroke-width="2"/>
<line x1="285.1" y1="1298.2" x2="285.1" y2="1292.9" stroke="#000" stroke-width="2"/>
<line x1="285.1" y1="753.4" x2="285.1" y2="758.7" stroke="#000" stroke-width="2"/>
<line x1="369.4" y1="1298.2" x2="369.4" y2="1292.9" stroke="#000" stroke-width="2"/>
<line x1="369.4" y1="753.4" x2="369.4" y2="758.7" stroke="#000" stroke-width="2"/>
<line x1="453.7" y1="1298.2" x2="453.7" y2="1292.9" stroke="#000" stroke-width="2"/>
<line x1="453.7" y1="753.4" x2="453.7" y2="758.7" stroke="#000" stroke-width="2"/>
<line x1="538" y1="1298.2" x2="538" y2="1292.9" stroke="#000" stroke-width="2"/>
<line x1="538" y1="753.4" x2="538" y2="758.7" stroke="#000" stroke-width="2"/>
<line x1="622.3" y1="1298.2" x2="622.3" y2="1292.9" stroke="#000" stroke-width="2"/>
<line x1="622.3" y1="753.4" x2="622.3" y2="758.7" stroke="#000" stroke-width="2"/>
<line x1="706.6" y1="1298.2" x2="706.6" y2="1292.9" stroke="#000" stroke-width="2"/>
<line x1="706.6" y1="753.4" x2="706.6" y2="758.7" stroke="#000" stroke-width="2"/>
<line x1="790.9" y1="1298.2" x2="790.9" y2="1292.9" stroke="#000" stroke-width="2"/>
<line x1="790.9" y1="753.4" x2="790.9" y2="758.7" stroke="#000" stroke-width="2"/>
<line x1="158.4" y1="1298.2" x2="168.9" y2="1298.2" stroke="#000" stroke-width="2"/>
<line x1="833.6" y1="1298.2" x2="823.1" y2="1298.2" stroke="#000" stroke-width="2"/>
<line x1="158.4" y1="1189.3" x2="168.9" y2="1189.3" stroke="#000" stroke-width="2"/>
<line x1="833.6" y1="1189.3" x2="823.1" y2="1189.3" stroke="#000" stroke-width="2"/>
<line x1="158.4" y1="1080.4" x2="168.9" y2="1080.4" stroke="#000" stroke-width="2"/>
<line x1="833.6" y1="1080.4" x2="823.1" y2="1080.4" stroke="#000" stroke-width="2"/>
<line x1="158.4" y1="971.5" x2="168.9" y2="971.5" stroke="#000" stroke-width="2"/>
<line x1="833.6" y1="971.5" x2="823.1" y2="971.5" stroke="#000" stroke-width="2"/>
<line x1="158.4" y1="862.6" x2="168.9" y2="862.6" stroke="#000" stroke-width="2"/>
<line x1="833.6" y1="862.6" x2="823.1" y2="862.6" stroke="#000" stroke-width="2"/>
<line x1="158.4" y1="753.7" x2="168.9" y2="753.7" stroke="#000" stroke-width="2"/>
<line x1="833.6" y1="753.7" x2="823.1" y2="753.7" stroke="#000" stroke-width="2"/>
<line x1="158.4" y1="1243.8" x2="163.7" y2="1243.8" stroke="#000" stroke-width="2"/>
<line x1="833.6" y1="1243.8" x2="828.3" y2="1243.8" stroke="#000" stroke-width="2"/>
<line x1="158.4" y1="1134.8" x2="163.7" y2="1134.8" stroke="#000" stroke-width="2"/>
<line x1="833.6" y1="1134.8" x2="828.3" y2="1134.8" stroke="#000" stroke-width="2"/>
<line x1="158.4" y1="1026" x2="163.7" y2="1026" stroke="#000" stroke-width="2"/>
<line x1="833.6" y1="1026" x2="828.3" y2="1026" stroke="#000" stroke-width="2"/>
<line x1="158.4" y1="917" x2="163.7" y2="917" stroke="#000" stroke-width="2"/>
<line x1="833.6" y1="917" x2="828.3" y2="917" stroke="#000" stroke-width="2"/>
<line x1="158.4" y1="808.2" x2="163.7" y2="808.2" stroke="#000" stroke-width="2"/>
<line x1="833.6" y1="808.2" x2="828.3" y2="808.2" stroke="#000" stroke-width="2"/>
<text x="158.6" y="1336.5" font-size="33" text-anchor="middle" font-family="'Liberation Serif','Times New Roman',serif" font-weight="bold" >0</text>
<text x="242.9" y="1336.5" font-size="33" text-anchor="middle" font-family="'Liberation Serif','Times New Roman',serif" font-weight="bold" >100</text>
<text x="327.2" y="1336.5" font-size="33" text-anchor="middle" font-family="'Liberation Serif','Times New Roman',serif" font-weight="bold" >200</text>
<text x="411.5" y="1336.5" font-size="33" text-anchor="middle" font-family="'Liberation Serif','Times New Roman',serif" font-weight="bold" >300</text>
<text x="495.8" y="1336.5" font-size="33" text-anchor="middle" font-family="'Liberation Serif','Times New Roman',serif" font-weight="bold" >400</text>
<text x="580.1" y="1336.5" font-size="33" text-anchor="middle" font-family="'Liberation Serif','Times New Roman',serif" font-weight="bold" >500</text>
<text x="664.5" y="1336.5" font-size="33" text-anchor="middle" font-family="'Liberation Serif','Times New Roman',serif" font-weight="bold" >600</text>
<text x="748.8" y="1336.5" font-size="33" text-anchor="middle" font-family="'Liberation Serif','Times New Roman',serif" font-weight="bold" >700</text>
<text x="833.1" y="1336.5" font-size="33" text-anchor="middle" font-family="'Liberation Serif','Times New Roman',serif" font-weight="bold" >800</text>
<text x="146" y="1309.7" font-size="33" text-anchor="end" font-family="'Liberation Serif','Times New Roman',serif" font-weight="bold" >0</text>
<text x="146.5" y="1202.1" font-size="33" text-anchor="end" font-family="'Liberation Serif','Times New Roman',serif" font-weight="bold">1&#215;10<tspan font-size="23" dy="-13">-3</tspan></text>
<text x="146.5" y="1093.2" font-size="33" text-anchor="end" font-family="'Liberation Serif','Times New Roman',serif" font-weight="bold">2&#215;10<tspan font-size="23" dy="-13">-3</tspan></text>
<text x="146.5" y="984.3" font-size="33" text-anchor="end" font-family="'Liberation Serif','Times New Roman',serif" font-weight="bold">3&#215;10<tspan font-size="23" dy="-13">-3</tspan></text>
<text x="146.5" y="875.4" font-size="33" text-anchor="end" font-family="'Liberation Serif','Times New Roman',serif" font-weight="bold">4&#215;10<tspan font-size="23" dy="-13">-3</tspan></text>
<text x="146.5" y="766.5" font-size="33" text-anchor="end" font-family="'Liberation Serif','Times New Roman',serif" font-weight="bold">5&#215;10<tspan font-size="23" dy="-13">-3</tspan></text>
<text x="500" y="1372" font-size="33" text-anchor="middle" font-family="'Liberation Serif','Times New Roman',serif" font-weight="bold" >Time/s</text>
<text x="0" y="0" font-size="33" text-anchor="middle" font-family="'Liberation Serif','Times New Roman',serif" font-weight="bold" transform="translate(46,1018) rotate(-90)">Mass/kg</text>
<text x="213.5" y="799" font-size="33" text-anchor="middle" font-family="'Liberation Serif','Times New Roman',serif" font-weight="bold" >(c)</text>
<line x1="705.7" y1="1096.1" x2="744" y2="1096.1" stroke="#000000" stroke-width="2"/>
<rect x="718.9" y="1090.3" width="12" height="11.6" fill="#000000"/>
<text x="743" y="1107.6" font-size="30.5" font-family="'Liberation Serif','Times New Roman',serif" font-weight="bold"><tspan font-style="italic">s</tspan><tspan font-style="italic" font-size="22" dy="7.5">w</tspan><tspan dy="-7.5">=0</tspan></text>
<line x1="705.7" y1="1142.1" x2="744" y2="1142.1" stroke="#ff0000" stroke-width="2"/>
<circle cx="724.9" cy="1142.1" r="6.5" fill="#ff0000"/>
<text x="743" y="1153.6" font-size="30.5" font-family="'Liberation Serif','Times New Roman',serif" font-weight="bold"><tspan font-style="italic">s</tspan><tspan font-style="italic" font-size="22" dy="7.5">w</tspan><tspan dy="-7.5">=0.2</tspan></text>
<line x1="705.7" y1="1188.1" x2="744" y2="1188.1" stroke="#0000ff" stroke-width="2"/>
<polygon points="724.9,1179.8 716.9,1194 732.9,1194" fill="#0000ff"/>
<text x="743" y="1199.6" font-size="30.5" font-family="'Liberation Serif','Times New Roman',serif" font-weight="bold"><tspan font-style="italic">s</tspan><tspan font-style="italic" font-size="22" dy="7.5">w</tspan><tspan dy="-7.5">=0.4</tspan></text>
<line x1="705.7" y1="1234" x2="744" y2="1234" stroke="#00ff00" stroke-width="2"/>
<polygon points="724.9,1242.3 716.9,1228.1 732.9,1228.1" fill="#00ff00"/>
<text x="743" y="1245.5" font-size="30.5" font-family="'Liberation Serif','Times New Roman',serif" font-weight="bold"><tspan font-style="italic">s</tspan><tspan font-style="italic" font-size="22" dy="7.5">w</tspan><tspan dy="-7.5">=0.6</tspan></text>
<line x1="705.7" y1="1280" x2="744" y2="1280" stroke="#00ffff" stroke-width="2"/>
<polygon points="724.9,1271.5 733.7,1280 724.9,1288.5 716.1,1280" fill="#00ffff"/>
<text x="743" y="1291.5" font-size="30.5" font-family="'Liberation Serif','Times New Roman',serif" font-weight="bold"><tspan font-style="italic">s</tspan><tspan font-style="italic" font-size="22" dy="7.5">w</tspan><tspan dy="-7.5">=0.8</tspan></text>
<clipPath id="cd"><rect x="1076.3" y="753.1" width="675.1000000000001" height="544.3000000000001"/></clipPath>
<g clip-path="url(#cd)">
<polyline points="1076.2,1117.8 1143.7,1144.4 1211.2,1162.1 1278.8,1173.5 1346.3,1182.8 1413.8,1189.6 1481.3,1199 1548.8,1211.9 1616.4,1231.5 1683.9,1258.5 1751.4,1297.4" fill="none" stroke="#000000" stroke-width="2.6" stroke-linejoin="round" />
<polyline points="1076.2,1094.1 1143.7,1123.7 1211.2,1143.4 1278.8,1156.7 1346.3,1166.5 1413.8,1175.3 1481.3,1185.3 1548.8,1199.4 1616.4,1222.1 1683.9,1253.1 1751.4,1297.4" fill="none" stroke="#ff0000" stroke-width="2.6" stroke-linejoin="round" />
<polyline points="1076.2,810.2 1143.7,881.5 1211.2,929.3 1278.8,961.3 1346.3,984.3 1413.8,1004.6 1481.3,1028.7 1548.8,1063.7 1616.4,1115.3 1683.9,1191 1751.4,1297.4" fill="none" stroke="#0000ff" stroke-width="2.6" stroke-linejoin="round" />
<rect x="1070.2" y="1112" width="12" height="11.6" fill="#000000"/>
<rect x="1137.7" y="1138.6" width="12" height="11.6" fill="#000000"/>
<rect x="1205.2" y="1156.3" width="12" height="11.6" fill="#000000"/>
<rect x="1272.8" y="1167.7" width="12" height="11.6" fill="#000000"/>
<rect x="1340.3" y="1177" width="12" height="11.6" fill="#000000"/>
<rect x="1407.8" y="1183.8" width="12" height="11.6" fill="#000000"/>
<rect x="1475.3" y="1193.2" width="12" height="11.6" fill="#000000"/>
<rect x="1542.8" y="1206.1" width="12" height="11.6" fill="#000000"/>
<rect x="1610.4" y="1225.7" width="12" height="11.6" fill="#000000"/>
<rect x="1677.9" y="1252.7" width="12" height="11.6" fill="#000000"/>
<rect x="1745.4" y="1291.6" width="12" height="11.6" fill="#000000"/>
<circle cx="1076.2" cy="1094.1" r="6.5" fill="#ff0000"/>
<circle cx="1143.7" cy="1123.7" r="6.5" fill="#ff0000"/>
<circle cx="1211.2" cy="1143.4" r="6.5" fill="#ff0000"/>
<circle cx="1278.8" cy="1156.7" r="6.5" fill="#ff0000"/>
<circle cx="1346.3" cy="1166.5" r="6.5" fill="#ff0000"/>
<circle cx="1413.8" cy="1175.3" r="6.5" fill="#ff0000"/>
<circle cx="1481.3" cy="1185.3" r="6.5" fill="#ff0000"/>
<circle cx="1548.8" cy="1199.4" r="6.5" fill="#ff0000"/>
<circle cx="1616.4" cy="1222.1" r="6.5" fill="#ff0000"/>
<circle cx="1683.9" cy="1253.1" r="6.5" fill="#ff0000"/>
<circle cx="1751.4" cy="1297.4" r="6.5" fill="#ff0000"/>
<polygon points="1076.2,801.9 1068.2,816.1 1084.2,816.1" fill="#0000ff"/>
<polygon points="1143.7,873.2 1135.7,887.4 1151.7,887.4" fill="#0000ff"/>
<polygon points="1211.2,921 1203.2,935.2 1219.2,935.2" fill="#0000ff"/>
<polygon points="1278.8,953 1270.8,967.2 1286.8,967.2" fill="#0000ff"/>
<polygon points="1346.3,976 1338.3,990.2 1354.3,990.2" fill="#0000ff"/>
<polygon points="1413.8,996.3 1405.8,1010.5 1421.8,1010.5" fill="#0000ff"/>
<polygon points="1481.3,1020.4 1473.3,1034.6 1489.3,1034.6" fill="#0000ff"/>
<polygon points="1548.8,1055.4 1540.8,1069.6 1556.8,1069.6" fill="#0000ff"/>
<polygon points="1616.4,1107 1608.4,1121.2 1624.4,1121.2" fill="#0000ff"/>
<polygon points="1683.9,1182.7 1675.9,1196.9 1691.9,1196.9" fill="#0000ff"/>
<polygon points="1751.4,1289.1 1743.4,1303.3 1759.4,1303.3" fill="#0000ff"/>
</g>
<rect x="1076.3" y="753.1" width="675.1" height="544.3" fill="none" stroke="#000" stroke-width="2"/>
<line x1="1076.2" y1="1297.4" x2="1076.2" y2="1286.9" stroke="#000" stroke-width="2"/>
<line x1="1076.2" y1="753.1" x2="1076.2" y2="763.6" stroke="#000" stroke-width="2"/>
<line x1="1211.2" y1="1297.4" x2="1211.2" y2="1286.9" stroke="#000" stroke-width="2"/>
<line x1="1211.2" y1="753.1" x2="1211.2" y2="763.6" stroke="#000" stroke-width="2"/>
<line x1="1346.3" y1="1297.4" x2="1346.3" y2="1286.9" stroke="#000" stroke-width="2"/>
<line x1="1346.3" y1="753.1" x2="1346.3" y2="763.6" stroke="#000" stroke-width="2"/>
<line x1="1481.3" y1="1297.4" x2="1481.3" y2="1286.9" stroke="#000" stroke-width="2"/>
<line x1="1481.3" y1="753.1" x2="1481.3" y2="763.6" stroke="#000" stroke-width="2"/>
<line x1="1616.4" y1="1297.4" x2="1616.4" y2="1286.9" stroke="#000" stroke-width="2"/>
<line x1="1616.4" y1="753.1" x2="1616.4" y2="763.6" stroke="#000" stroke-width="2"/>
<line x1="1751.4" y1="1297.4" x2="1751.4" y2="1286.9" stroke="#000" stroke-width="2"/>
<line x1="1751.4" y1="753.1" x2="1751.4" y2="763.6" stroke="#000" stroke-width="2"/>
<line x1="1143.7" y1="1297.4" x2="1143.7" y2="1292.1" stroke="#000" stroke-width="2"/>
<line x1="1143.7" y1="753.1" x2="1143.7" y2="758.4" stroke="#000" stroke-width="2"/>
<line x1="1278.8" y1="1297.4" x2="1278.8" y2="1292.1" stroke="#000" stroke-width="2"/>
<line x1="1278.8" y1="753.1" x2="1278.8" y2="758.4" stroke="#000" stroke-width="2"/>
<line x1="1413.8" y1="1297.4" x2="1413.8" y2="1292.1" stroke="#000" stroke-width="2"/>
<line x1="1413.8" y1="753.1" x2="1413.8" y2="758.4" stroke="#000" stroke-width="2"/>
<line x1="1548.8" y1="1297.4" x2="1548.8" y2="1292.1" stroke="#000" stroke-width="2"/>
<line x1="1548.8" y1="753.1" x2="1548.8" y2="758.4" stroke="#000" stroke-width="2"/>
<line x1="1683.9" y1="1297.4" x2="1683.9" y2="1292.1" stroke="#000" stroke-width="2"/>
<line x1="1683.9" y1="753.1" x2="1683.9" y2="758.4" stroke="#000" stroke-width="2"/>
<line x1="1076.3" y1="1297.4" x2="1086.8" y2="1297.4" stroke="#000" stroke-width="2"/>
<line x1="1751.4" y1="1297.4" x2="1740.9" y2="1297.4" stroke="#000" stroke-width="2"/>
<line x1="1076.3" y1="1219.6" x2="1086.8" y2="1219.6" stroke="#000" stroke-width="2"/>
<line x1="1751.4" y1="1219.6" x2="1740.9" y2="1219.6" stroke="#000" stroke-width="2"/>
<line x1="1076.3" y1="1141.9" x2="1086.8" y2="1141.9" stroke="#000" stroke-width="2"/>
<line x1="1751.4" y1="1141.9" x2="1740.9" y2="1141.9" stroke="#000" stroke-width="2"/>
<line x1="1076.3" y1="1064.1" x2="1086.8" y2="1064.1" stroke="#000" stroke-width="2"/>
<line x1="1751.4" y1="1064.1" x2="1740.9" y2="1064.1" stroke="#000" stroke-width="2"/>
<line x1="1076.3" y1="986.4" x2="1086.8" y2="986.4" stroke="#000" stroke-width="2"/>
<line x1="1751.4" y1="986.4" x2="1740.9" y2="986.4" stroke="#000" stroke-width="2"/>
<line x1="1076.3" y1="908.6" x2="1086.8" y2="908.6" stroke="#000" stroke-width="2"/>
<line x1="1751.4" y1="908.6" x2="1740.9" y2="908.6" stroke="#000" stroke-width="2"/>
<line x1="1076.3" y1="830.8" x2="1086.8" y2="830.8" stroke="#000" stroke-width="2"/>
<line x1="1751.4" y1="830.8" x2="1740.9" y2="830.8" stroke="#000" stroke-width="2"/>
<line x1="1076.3" y1="753.1" x2="1086.8" y2="753.1" stroke="#000" stroke-width="2"/>
<line x1="1751.4" y1="753.1" x2="1740.9" y2="753.1" stroke="#000" stroke-width="2"/>
<line x1="1076.3" y1="1258.5" x2="1081.6" y2="1258.5" stroke="#000" stroke-width="2"/>
<line x1="1751.4" y1="1258.5" x2="1746.1" y2="1258.5" stroke="#000" stroke-width="2"/>
<line x1="1076.3" y1="1180.8" x2="1081.6" y2="1180.8" stroke="#000" stroke-width="2"/>
<line x1="1751.4" y1="1180.8" x2="1746.1" y2="1180.8" stroke="#000" stroke-width="2"/>
<line x1="1076.3" y1="1103" x2="1081.6" y2="1103" stroke="#000" stroke-width="2"/>
<line x1="1751.4" y1="1103" x2="1746.1" y2="1103" stroke="#000" stroke-width="2"/>
<line x1="1076.3" y1="1025.2" x2="1081.6" y2="1025.2" stroke="#000" stroke-width="2"/>
<line x1="1751.4" y1="1025.2" x2="1746.1" y2="1025.2" stroke="#000" stroke-width="2"/>
<line x1="1076.3" y1="947.5" x2="1081.6" y2="947.5" stroke="#000" stroke-width="2"/>
<line x1="1751.4" y1="947.5" x2="1746.1" y2="947.5" stroke="#000" stroke-width="2"/>
<line x1="1076.3" y1="869.7" x2="1081.6" y2="869.7" stroke="#000" stroke-width="2"/>
<line x1="1751.4" y1="869.7" x2="1746.1" y2="869.7" stroke="#000" stroke-width="2"/>
<line x1="1076.3" y1="792" x2="1081.6" y2="792" stroke="#000" stroke-width="2"/>
<line x1="1751.4" y1="792" x2="1746.1" y2="792" stroke="#000" stroke-width="2"/>
<text x="1076.2" y="1336.3" font-size="33" text-anchor="middle" font-family="'Liberation Serif','Times New Roman',serif" font-weight="bold" >0.0</text>
<text x="1211.2" y="1336.3" font-size="33" text-anchor="middle" font-family="'Liberation Serif','Times New Roman',serif" font-weight="bold" >0.2</text>
<text x="1346.3" y="1336.3" font-size="33" text-anchor="middle" font-family="'Liberation Serif','Times New Roman',serif" font-weight="bold" >0.4</text>
<text x="1481.3" y="1336.3" font-size="33" text-anchor="middle" font-family="'Liberation Serif','Times New Roman',serif" font-weight="bold" >0.6</text>
<text x="1616.4" y="1336.3" font-size="33" text-anchor="middle" font-family="'Liberation Serif','Times New Roman',serif" font-weight="bold" >0.8</text>
<text x="1751.4" y="1336.3" font-size="33" text-anchor="middle" font-family="'Liberation Serif','Times New Roman',serif" font-weight="bold" >1.0</text>
<text x="1063" y="1308.9" font-size="33" text-anchor="end" font-family="'Liberation Serif','Times New Roman',serif" font-weight="bold" >0.00</text>
<text x="1063" y="1231.1" font-size="33" text-anchor="end" font-family="'Liberation Serif','Times New Roman',serif" font-weight="bold" >0.05</text>
<text x="1063" y="1153.4" font-size="33" text-anchor="end" font-family="'Liberation Serif','Times New Roman',serif" font-weight="bold" >0.10</text>
<text x="1063" y="1075.6" font-size="33" text-anchor="end" font-family="'Liberation Serif','Times New Roman',serif" font-weight="bold" >0.15</text>
<text x="1063" y="997.9" font-size="33" text-anchor="end" font-family="'Liberation Serif','Times New Roman',serif" font-weight="bold" >0.20</text>
<text x="1063" y="920.1" font-size="33" text-anchor="end" font-family="'Liberation Serif','Times New Roman',serif" font-weight="bold" >0.25</text>
<text x="1063" y="842.3" font-size="33" text-anchor="end" font-family="'Liberation Serif','Times New Roman',serif" font-weight="bold" >0.30</text>
<text x="1063" y="764.6" font-size="33" text-anchor="end" font-family="'Liberation Serif','Times New Roman',serif" font-weight="bold" >0.35</text>
<text x="1405" y="1376.5" font-size="33" text-anchor="middle" font-family="'Liberation Serif','Times New Roman',serif" font-weight="bold" >Saturation</text>
<text x="0" y="0" font-size="33" text-anchor="middle" font-family="'Liberation Serif','Times New Roman',serif" font-weight="bold" transform="translate(986,1025) rotate(-90)">The equilibrium height/m</text>
<text x="1135" y="795" font-size="33" text-anchor="middle" font-family="'Liberation Serif','Times New Roman',serif" font-weight="bold" >(d)</text>
<line x1="1527.4" y1="780.7" x2="1575.1" y2="780.7" stroke="#000000" stroke-width="2.6"/>
<rect x="1545.5" y="774.9" width="12" height="11.6" fill="#000000"/>
<text x="1583" y="792.2" font-size="33" text-anchor="start" font-family="'Liberation Serif','Times New Roman',serif" font-weight="bold" >Sim.Pre.</text>
<line x1="1527.4" y1="823.5" x2="1575.1" y2="823.5" stroke="#ff0000" stroke-width="2.6"/>
<circle cx="1551.5" cy="823.5" r="6.5" fill="#ff0000"/>
<text x="1583" y="835" font-size="33" text-anchor="start" font-family="'Liberation Serif','Times New Roman',serif" font-weight="bold" >Eq.(18)</text>
<line x1="1527.4" y1="865.3" x2="1575.1" y2="865.3" stroke="#0000ff" stroke-width="2.6"/>
<polygon points="1551.5,857 1543.5,871.2 1559.5,871.2" fill="#0000ff"/>
<text x="1583" y="876.8" font-size="33" text-anchor="start" font-family="'Liberation Serif','Times New Roman',serif" font-weight="bold" >Fries-Dreye</text></svg></body></html>
